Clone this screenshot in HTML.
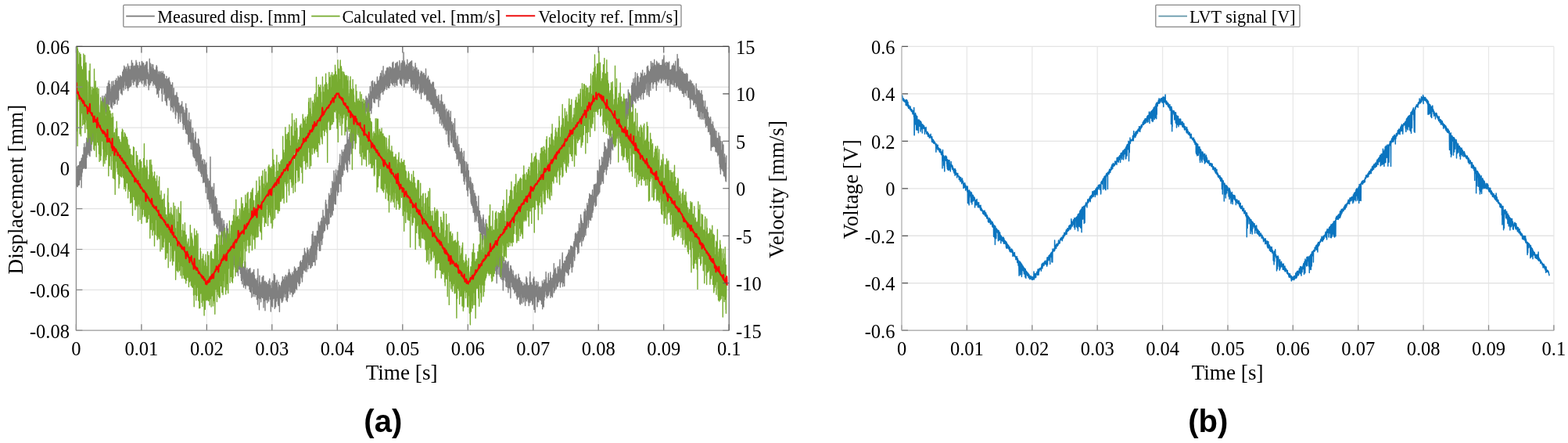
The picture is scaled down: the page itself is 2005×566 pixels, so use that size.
<!DOCTYPE html><html><head><meta charset="utf-8"><title>Figure</title><style>html,body{margin:0;padding:0;background:#fff;}svg{display:block}</style></head><body>
<svg width="2005" height="566" viewBox="0 0 2005 566">
<rect width="2005" height="566" fill="#fff"/>
<defs><clipPath id="ca"><rect x="97.4" y="59.4" width="834.8" height="362.8"/></clipPath>
<clipPath id="cb"><rect x="1153.0" y="58.4" width="834.9" height="363.8"/></clipPath></defs>
<path d="M180.88 59.4V422.2M264.36 59.4V422.2M347.84 59.4V422.2M431.32 59.4V422.2M514.80 59.4V422.2M598.28 59.4V422.2M681.76 59.4V422.2M765.24 59.4V422.2M848.72 59.4V422.2" stroke="#ececec" stroke-width="1.3" fill="none"/>
<path d="M97.4 111.23H932.2M97.4 163.06H932.2M97.4 214.89H932.2M97.4 266.71H932.2M97.4 318.54H932.2M97.4 370.37H932.2" stroke="#e4e4e4" stroke-width="1.3" fill="none"/>
<path d="M1236.39 59.4V422.2M1319.78 59.4V422.2M1403.17 59.4V422.2M1486.56 59.4V422.2M1569.95 59.4V422.2M1653.34 59.4V422.2M1736.73 59.4V422.2M1820.12 59.4V422.2M1903.51 59.4V422.2M1986.90 59.4V422.2" stroke="#e8e8e8" stroke-width="1.3" fill="none"/>
<path d="M1153.0 59.40H1986.9M1153.0 119.87H1986.9M1153.0 180.33H1986.9M1153.0 240.80H1986.9M1153.0 301.27H1986.9M1153.0 361.73H1986.9" stroke="#e4e4e4" stroke-width="1.3" fill="none"/>
<g clip-path="url(#ca)" fill="none" stroke-linejoin="round">
<polyline points="97.4,241.3 97.5,237.4 97.7,222.7 97.8,217.2 98.0,225.1 98.1,234.2 98.2,213.5 98.4,237.8 98.5,218.3 98.6,213.3 98.8,234.4 98.9,213.9 99.1,233.0 99.2,238.5 99.3,238.6 99.5,212.3 99.6,223.6 99.8,211.8 99.9,231.1 100.0,236.6 100.2,232.9 100.3,225.5 100.4,212.9 100.6,232.5 100.7,223.9 100.9,211.5 101.0,236.4 101.1,236.2 101.3,236.1 101.4,213.0 101.6,224.2 101.7,217.7 101.8,208.0 102.0,206.8 102.1,211.5 102.3,206.6 102.4,229.8 102.5,209.4 102.7,216.5 102.8,224.7 102.9,210.2 103.1,220.5 103.2,213.8 103.4,211.1 103.5,217.4 103.6,205.4 103.8,222.7 103.9,218.4 104.1,239.8 104.2,202.2 104.3,211.1 104.5,225.6 104.6,206.1 104.7,211.6 104.9,221.0 105.0,206.8 105.2,219.9 105.3,218.8 105.4,203.6 105.6,197.9 105.7,210.6 105.9,214.5 106.0,210.4 106.1,204.9 106.3,200.0 106.4,208.7 106.5,215.4 106.7,215.1 106.8,200.9 107.0,201.9 107.1,188.4 107.2,204.3 107.4,202.7 107.5,212.0 107.7,199.7 107.8,183.5 107.9,202.9 108.1,214.3 108.2,188.7 108.3,197.9 108.5,195.8 108.6,214.9 108.8,204.8 108.9,196.3 109.0,215.4 109.2,200.5 109.3,197.3 109.5,188.0 109.6,195.2 109.7,197.4 109.9,210.7 110.0,194.1 110.2,182.0 110.3,215.1 110.4,183.7 110.6,191.9 110.7,195.7 110.8,176.5 111.0,201.3 111.1,181.9 111.3,184.1 111.4,195.3 111.5,183.9 111.7,191.9 111.8,184.4 112.0,185.8 112.1,197.3 112.2,180.6 112.4,177.7 112.5,191.7 112.6,184.8 112.8,190.1 112.9,159.5 113.1,166.8 113.2,190.3 113.3,178.7 113.5,195.3 113.6,165.4 113.8,173.6 113.9,194.5 114.0,198.2 114.2,174.3 114.3,186.8 114.4,187.4 114.6,196.6 114.7,191.0 114.9,167.3 115.0,199.7 115.1,181.6 115.3,187.1 115.4,180.0 115.6,163.5 115.7,168.3 115.8,191.2 116.0,178.1 116.1,180.2 116.2,166.5 116.4,176.8 116.5,171.2 116.7,158.6 116.8,192.8 116.9,178.9 117.1,166.2 117.2,171.0 117.4,182.1 117.5,184.1 117.6,152.4 117.8,179.9 117.9,175.1 118.1,157.7 118.2,158.8 118.3,157.0 118.5,173.9 118.6,179.8 118.7,159.9 118.9,171.2 119.0,181.1 119.2,173.0 119.3,164.7 119.4,149.8 119.6,143.3 119.7,177.0 119.9,158.9 120.0,165.6 120.1,166.8 120.3,177.3 120.4,156.4 120.5,158.5 120.7,159.0 120.8,155.3 121.0,151.6 121.1,173.1 121.2,163.2 121.4,165.8 121.5,170.5 121.7,175.8 121.8,171.8 121.9,141.2 122.1,175.1 122.2,164.4 122.3,171.1 122.5,157.9 122.6,172.5 122.8,158.3 122.9,159.6 123.0,163.3 123.2,164.8 123.3,153.0 123.5,164.2 123.6,162.9 123.7,148.2 123.9,159.5 124.0,146.1 124.1,159.5 124.3,161.8 124.4,162.1 124.6,164.5 124.7,172.9 124.8,150.1 125.0,162.9 125.1,153.7 125.3,166.2 125.4,161.0 125.5,170.0 125.7,144.2 125.8,169.9 126.0,156.1 126.1,169.3 126.2,147.4 126.4,153.7 126.5,148.9 126.6,159.1 126.8,151.5 126.9,165.0 127.1,145.1 127.2,153.2 127.3,171.1 127.5,155.4 127.6,152.1 127.8,154.1 127.9,161.2 128.0,172.8 128.2,143.5 128.3,141.7 128.4,135.3 128.6,133.7 128.7,137.0 128.9,130.2 129.0,142.2 129.1,148.7 129.3,147.6 129.4,152.2 129.6,136.0 129.7,145.5 129.8,141.6 130.0,139.2 130.1,146.3 130.2,147.1 130.4,137.3 130.5,155.0 130.7,128.6 130.8,143.8 130.9,122.8 131.1,144.7 131.2,137.6 131.4,152.2 131.5,137.4 131.6,125.9 131.8,146.0 131.9,128.0 132.0,152.7 132.2,137.2 132.3,158.8 132.5,134.8 132.6,144.2 132.7,138.5 132.9,157.9 133.0,135.1 133.2,122.7 133.3,149.3 133.4,141.2 133.6,139.9 133.7,158.0 133.9,135.4 134.0,130.8 134.1,131.3 134.3,133.3 134.4,136.4 134.5,133.0 134.7,135.4 134.8,133.2 135.0,120.3 135.1,139.2 135.2,125.2 135.4,134.8 135.5,145.1 135.7,143.0 135.8,133.0 135.9,126.9 136.1,137.8 136.2,144.9 136.3,129.8 136.5,124.3 136.6,117.9 136.8,122.9 136.9,110.4 137.0,121.1 137.2,143.7 137.3,138.1 137.5,142.0 137.6,120.0 137.7,127.1 137.9,141.5 138.0,114.7 138.1,124.6 138.3,106.1 138.4,131.4 138.6,127.5 138.7,125.3 138.8,116.6 139.0,126.5 139.1,116.3 139.3,133.0 139.4,103.3 139.5,130.1 139.7,133.6 139.8,120.1 140.0,117.1 140.1,121.7 140.2,121.8 140.4,127.6 140.5,107.7 140.6,117.1 140.8,113.7 140.9,121.1 141.1,121.6 141.2,117.1 141.3,129.2 141.5,133.6 141.6,135.6 141.8,132.0 141.9,137.0 142.0,123.3 142.2,126.8 142.3,122.1 142.4,112.1 142.6,129.4 142.7,114.5 142.9,104.1 143.0,127.7 143.1,116.1 143.3,138.8 143.4,116.5 143.6,120.9 143.7,131.1 143.8,127.9 144.0,129.9 144.1,110.5 144.2,122.4 144.4,128.9 144.5,115.6 144.7,121.6 144.8,103.7 144.9,104.6 145.1,125.3 145.2,122.6 145.4,134.3 145.5,108.7 145.6,113.7 145.8,125.5 145.9,113.8 146.0,122.6 146.2,120.2 146.3,132.2 146.5,114.2 146.6,109.0 146.7,124.8 146.9,108.8 147.0,120.8 147.2,108.0 147.3,132.2 147.4,102.6 147.6,114.9 147.7,125.4 147.9,112.7 148.0,127.3 148.1,114.4 148.3,123.9 148.4,105.2 148.5,111.1 148.7,120.1 148.8,100.1 149.0,126.2 149.1,120.1 149.2,107.0 149.4,103.7 149.5,112.3 149.7,126.4 149.8,116.8 149.9,133.3 150.1,119.1 150.2,125.8 150.3,124.2 150.5,103.5 150.6,117.4 150.8,119.0 150.9,104.3 151.0,97.2 151.2,100.0 151.3,119.6 151.5,109.1 151.6,128.0 151.7,106.5 151.9,100.3 152.0,99.0 152.1,109.4 152.3,103.5 152.4,104.4 152.6,115.0 152.7,110.3 152.8,103.2 153.0,106.4 153.1,104.7 153.3,99.6 153.4,113.0 153.5,107.4 153.7,112.3 153.8,96.4 153.9,109.3 154.1,99.5 154.2,113.8 154.4,101.1 154.5,119.1 154.6,118.2 154.8,112.7 154.9,101.3 155.1,115.7 155.2,97.9 155.3,108.0 155.5,109.6 155.6,99.1 155.8,105.2 155.9,120.2 156.0,103.2 156.2,121.1 156.3,99.7 156.4,106.1 156.6,101.4 156.7,91.9 156.9,107.0 157.0,93.9 157.1,109.0 157.3,94.4 157.4,111.4 157.6,93.2 157.7,100.6 157.8,89.2 158.0,110.3 158.1,113.0 158.2,115.4 158.4,102.3 158.5,101.0 158.7,84.2 158.8,104.1 158.9,103.8 159.1,95.7 159.2,85.6 159.4,92.4 159.5,96.1 159.6,102.1 159.8,93.8 159.9,99.2 160.0,108.9 160.2,99.1 160.3,90.3 160.5,113.6 160.6,88.3 160.7,92.4 160.9,102.3 161.0,90.0 161.2,87.2 161.3,85.6 161.4,102.5 161.6,107.1 161.7,87.9 161.8,108.1 162.0,109.4 162.1,106.9 162.3,105.6 162.4,105.2 162.5,96.0 162.7,92.5 162.8,112.6 163.0,91.5 163.1,101.9 163.2,91.6 163.4,81.7 163.5,110.1 163.7,115.8 163.8,103.7 163.9,103.3 164.1,91.1 164.2,86.6 164.3,108.9 164.5,86.4 164.6,112.2 164.8,102.6 164.9,98.1 165.0,84.4 165.2,103.2 165.3,103.6 165.5,102.9 165.6,111.0 165.7,97.7 165.9,89.5 166.0,88.9 166.1,90.2 166.3,92.9 166.4,109.7 166.6,91.4 166.7,89.2 166.8,98.3 167.0,109.1 167.1,110.3 167.3,84.6 167.4,104.6 167.5,86.7 167.7,96.4 167.8,91.8 167.9,108.9 168.1,94.0 168.2,88.8 168.4,77.3 168.5,101.3 168.6,101.2 168.8,85.5 168.9,95.1 169.1,90.3 169.2,93.0 169.3,100.5 169.5,100.3 169.6,100.0 169.7,80.7 169.9,85.5 170.0,105.6 170.2,91.5 170.3,84.6 170.4,94.5 170.6,96.8 170.7,99.1 170.9,108.2 171.0,89.5 171.1,98.7 171.3,91.6 171.4,93.7 171.6,96.4 171.7,88.6 171.8,84.2 172.0,101.8 172.1,89.3 172.2,86.2 172.4,103.9 172.5,92.3 172.7,98.5 172.8,93.3 172.9,101.3 173.1,83.9 173.2,96.3 173.4,97.6 173.5,93.2 173.6,82.3 173.8,96.6 173.9,99.1 174.0,77.3 174.2,110.1 174.3,93.8 174.5,85.2 174.6,104.9 174.7,81.0 174.9,80.1 175.0,95.8 175.2,91.2 175.3,111.7 175.4,86.9 175.6,86.5 175.7,101.9 175.8,103.3 176.0,86.4 176.1,83.8 176.3,94.6 176.4,87.9 176.5,84.3 176.7,107.1 176.8,108.2 177.0,95.2 177.1,105.7 177.2,89.9 177.4,98.7 177.5,94.7 177.6,87.4 177.8,95.4 177.9,99.8 178.1,92.8 178.2,93.6 178.3,79.5 178.5,89.9 178.6,82.6 178.8,104.4 178.9,83.5 179.0,99.4 179.2,94.6 179.3,103.0 179.5,94.6 179.6,97.5 179.7,97.6 179.9,90.0 180.0,101.3 180.1,102.1 180.3,84.4 180.4,88.1 180.6,89.6 180.7,87.8 180.8,92.2 181.0,105.4 181.1,88.6 181.3,78.5 181.4,92.5 181.5,88.7 181.7,107.0 181.8,95.7 181.9,79.0 182.1,80.7 182.2,99.0 182.4,99.4 182.5,81.8 182.6,81.0 182.8,91.4 182.9,102.3 183.1,96.1 183.2,98.3 183.3,92.6 183.5,86.1 183.6,80.6 183.7,83.0 183.9,91.7 184.0,89.8 184.2,103.1 184.3,110.2 184.4,105.3 184.6,86.3 184.7,100.0 184.9,92.1 185.0,89.0 185.1,107.9 185.3,88.2 185.4,83.6 185.5,89.5 185.7,100.9 185.8,90.3 186.0,98.1 186.1,99.1 186.2,105.9 186.4,82.3 186.5,99.0 186.7,90.0 186.8,109.4 186.9,101.2 187.1,79.4 187.2,100.5 187.4,81.7 187.5,98.0 187.6,90.8 187.8,79.6 187.9,78.8 188.0,94.5 188.2,79.6 188.3,99.2 188.5,100.6 188.6,90.5 188.7,88.8 188.9,100.4 189.0,99.5 189.2,101.7 189.3,92.7 189.4,106.7 189.6,102.9 189.7,107.1 189.8,98.9 190.0,99.0 190.1,114.7 190.3,100.6 190.4,95.2 190.5,102.1 190.7,97.8 190.8,99.7 191.0,97.0 191.1,103.9 191.2,75.1 191.4,103.1 191.5,91.4 191.6,108.8 191.8,100.5 191.9,91.0 192.1,95.0 192.2,81.0 192.3,104.5 192.5,94.0 192.6,92.6 192.8,90.9 192.9,105.1 193.0,105.9 193.2,97.4 193.3,100.4 193.4,95.2 193.6,85.4 193.7,86.0 193.9,91.8 194.0,82.1 194.1,95.1 194.3,103.4 194.4,99.0 194.6,92.2 194.7,97.4 194.8,101.2 195.0,93.5 195.1,90.2 195.3,88.0 195.4,98.5 195.5,100.9 195.7,82.7 195.8,109.2 195.9,94.5 196.1,91.6 196.2,87.5 196.4,91.4 196.5,101.3 196.6,90.5 196.8,105.9 196.9,105.5 197.1,99.3 197.2,91.4 197.3,89.7 197.5,100.9 197.6,107.8 197.7,91.1 197.9,89.1 198.0,107.9 198.2,97.0 198.3,100.6 198.4,94.5 198.6,108.1 198.7,100.3 198.9,109.4 199.0,106.1 199.1,90.0 199.3,103.2 199.4,112.2 199.5,100.2 199.7,85.9 199.8,95.3 200.0,89.7 200.1,84.9 200.2,83.6 200.4,86.7 200.5,88.9 200.7,120.3 200.8,85.5 200.9,98.7 201.1,106.2 201.2,90.0 201.3,112.7 201.5,119.0 201.6,96.0 201.8,95.2 201.9,115.9 202.0,104.9 202.2,108.7 202.3,107.0 202.5,99.9 202.6,97.1 202.7,124.2 202.9,92.1 203.0,96.3 203.2,105.7 203.3,99.4 203.4,91.1 203.6,96.8 203.7,110.3 203.8,113.0 204.0,115.1 204.1,102.2 204.3,97.4 204.4,101.3 204.5,105.7 204.7,105.5 204.8,105.8 205.0,95.2 205.1,92.0 205.2,103.7 205.4,112.1 205.5,100.6 205.6,112.5 205.8,103.4 205.9,95.5 206.1,91.3 206.2,100.1 206.3,102.7 206.5,107.3 206.6,96.3 206.8,119.2 206.9,94.9 207.0,111.0 207.2,114.9 207.3,93.6 207.4,129.3 207.6,93.6 207.7,105.0 207.9,107.6 208.0,110.0 208.1,104.7 208.3,93.2 208.4,91.3 208.6,107.6 208.7,103.7 208.8,109.0 209.0,112.7 209.1,108.6 209.3,111.3 209.4,95.2 209.5,120.6 209.7,114.1 209.8,102.1 209.9,94.7 210.1,97.7 210.2,108.0 210.4,95.8 210.5,111.0 210.6,118.0 210.8,105.1 210.9,114.6 211.1,107.5 211.2,128.4 211.3,100.6 211.5,120.1 211.6,120.2 211.7,116.0 211.9,101.2 212.0,117.8 212.2,128.5 212.3,118.1 212.4,130.3 212.6,120.7 212.7,115.8 212.9,97.5 213.0,133.4 213.1,106.9 213.3,113.1 213.4,134.7 213.5,113.7 213.7,113.4 213.8,113.8 214.0,110.1 214.1,116.5 214.2,102.1 214.4,101.2 214.5,117.2 214.7,125.1 214.8,123.7 214.9,103.9 215.1,100.5 215.2,108.9 215.3,113.4 215.5,115.4 215.6,109.8 215.8,123.7 215.9,120.7 216.0,104.6 216.2,98.9 216.3,127.9 216.5,124.6 216.6,113.2 216.7,111.3 216.9,103.5 217.0,119.4 217.2,114.2 217.3,119.4 217.4,119.5 217.6,114.2 217.7,105.6 217.8,119.1 218.0,126.7 218.1,135.2 218.3,131.0 218.4,108.4 218.5,141.0 218.7,109.6 218.8,117.5 219.0,115.2 219.1,116.6 219.2,136.3 219.4,120.6 219.5,108.6 219.6,129.8 219.8,116.3 219.9,136.5 220.1,114.8 220.2,122.3 220.3,117.2 220.5,122.6 220.6,105.6 220.8,137.9 220.9,129.4 221.0,128.3 221.2,135.0 221.3,124.0 221.4,143.1 221.6,141.6 221.7,121.8 221.9,142.0 222.0,125.1 222.1,127.5 222.3,112.8 222.4,135.0 222.6,121.1 222.7,121.4 222.8,123.0 223.0,127.5 223.1,134.8 223.2,133.3 223.4,128.4 223.5,125.2 223.7,137.1 223.8,133.8 223.9,132.4 224.1,146.1 224.2,122.2 224.4,139.7 224.5,151.3 224.6,122.5 224.8,137.1 224.9,147.2 225.1,121.7 225.2,131.9 225.3,123.9 225.5,134.5 225.6,128.0 225.7,140.3 225.9,141.9 226.0,118.1 226.2,130.2 226.3,140.6 226.4,142.0 226.6,123.7 226.7,129.6 226.9,143.5 227.0,135.4 227.1,131.1 227.3,126.4 227.4,143.3 227.5,144.3 227.7,124.8 227.8,145.5 228.0,150.1 228.1,157.5 228.2,143.8 228.4,140.7 228.5,133.5 228.7,151.9 228.8,149.7 228.9,131.8 229.1,135.4 229.2,139.4 229.3,143.8 229.5,141.9 229.6,143.4 229.8,138.8 229.9,141.8 230.0,138.2 230.2,135.6 230.3,135.4 230.5,148.7 230.6,143.3 230.7,155.6 230.9,145.8 231.0,137.3 231.1,135.0 231.3,136.9 231.4,134.5 231.6,141.9 231.7,138.1 231.8,144.3 232.0,136.9 232.1,133.5 232.3,141.0 232.4,138.4 232.5,141.6 232.7,129.8 232.8,137.9 233.0,139.9 233.1,149.2 233.2,147.9 233.4,154.3 233.5,137.5 233.6,157.5 233.8,152.6 233.9,141.9 234.1,141.6 234.2,136.9 234.3,165.4 234.5,148.3 234.6,144.4 234.8,156.9 234.9,139.9 235.0,145.1 235.2,148.0 235.3,146.1 235.4,159.4 235.6,151.0 235.7,144.5 235.9,155.7 236.0,156.6 236.1,152.3 236.3,162.6 236.4,157.2 236.6,151.5 236.7,165.1 236.8,160.4 237.0,149.2 237.1,141.0 237.2,157.0 237.4,159.9 237.5,143.5 237.7,132.4 237.8,166.4 237.9,170.3 238.1,160.3 238.2,169.0 238.4,166.2 238.5,156.3 238.6,148.9 238.8,167.6 238.9,163.9 239.0,138.5 239.2,159.0 239.3,171.6 239.5,159.1 239.6,168.2 239.7,159.7 239.9,153.9 240.0,171.0 240.2,161.7 240.3,166.5 240.4,162.1 240.6,169.5 240.7,172.1 240.9,184.3 241.0,169.5 241.1,160.7 241.3,168.7 241.4,156.2 241.5,152.3 241.7,144.1 241.8,172.6 242.0,164.2 242.1,180.8 242.2,167.0 242.4,175.7 242.5,155.8 242.7,157.5 242.8,178.8 242.9,180.8 243.1,163.8 243.2,160.2 243.3,181.9 243.5,170.6 243.6,179.9 243.8,179.6 243.9,172.4 244.0,153.0 244.2,190.4 244.3,165.0 244.5,162.7 244.6,179.0 244.7,170.3 244.9,174.9 245.0,179.6 245.1,174.7 245.3,174.9 245.4,181.5 245.6,173.9 245.7,170.1 245.8,175.6 246.0,191.2 246.1,179.7 246.3,173.4 246.4,171.5 246.5,163.8 246.7,197.0 246.8,183.4 246.9,187.2 247.1,199.8 247.2,173.6 247.4,170.5 247.5,174.4 247.6,189.5 247.8,186.5 247.9,178.1 248.1,201.2 248.2,184.0 248.3,179.8 248.5,179.9 248.6,201.7 248.8,187.6 248.9,179.9 249.0,192.1 249.2,192.3 249.3,197.7 249.4,190.1 249.6,197.6 249.7,175.8 249.9,182.9 250.0,205.2 250.1,168.7 250.3,191.6 250.4,185.7 250.6,191.2 250.7,197.0 250.8,182.5 251.0,212.0 251.1,196.4 251.2,192.1 251.4,205.4 251.5,196.9 251.7,189.9 251.8,187.1 251.9,188.1 252.1,183.7 252.2,183.9 252.4,197.3 252.5,207.1 252.6,202.6 252.8,195.8 252.9,209.3 253.0,210.4 253.2,204.7 253.3,202.4 253.5,177.5 253.6,218.0 253.7,198.6 253.9,211.3 254.0,178.4 254.2,207.2 254.3,210.1 254.4,198.7 254.6,185.2 254.7,196.9 254.8,209.9 255.0,188.7 255.1,219.2 255.3,187.7 255.4,196.0 255.5,214.1 255.7,189.5 255.8,191.9 256.0,215.4 256.1,203.1 256.2,213.0 256.4,205.0 256.5,204.6 256.7,221.2 256.8,220.5 256.9,207.0 257.1,201.7 257.2,207.2 257.3,197.8 257.5,215.6 257.6,225.5 257.8,218.8 257.9,215.1 258.0,209.6 258.2,206.0 258.3,221.7 258.5,205.7 258.6,214.0 258.7,220.1 258.9,214.7 259.0,220.4 259.1,220.8 259.3,213.7 259.4,227.8 259.6,203.4 259.7,233.4 259.8,212.1 260.0,217.8 260.1,231.7 260.3,211.3 260.4,214.7 260.5,210.4 260.7,232.0 260.8,224.5 260.9,227.8 261.1,224.0 261.2,219.4 261.4,220.9 261.5,232.9 261.6,204.4 261.8,213.2 261.9,213.0 262.1,222.1 262.2,232.8 262.3,209.9 262.5,210.4 262.6,231.3 262.7,238.3 262.9,220.2 263.0,225.4 263.2,246.2 263.3,225.7 263.4,230.2 263.6,213.2 263.7,232.7 263.9,208.0 264.0,229.2 264.1,216.6 264.3,238.8 264.4,230.4 264.6,228.5 264.7,232.8 264.8,223.3 265.0,232.5 265.1,254.2 265.2,240.7 265.4,247.9 265.5,242.8 265.7,249.9 265.8,249.7 265.9,250.1 266.1,244.9 266.2,228.5 266.4,254.3 266.5,249.7 266.6,239.0 266.8,239.6 266.9,247.1 267.0,242.6 267.2,257.8 267.3,233.4 267.5,236.9 267.6,250.7 267.7,231.2 267.9,260.4 268.0,233.8 268.2,246.6 268.3,249.6 268.4,254.2 268.6,266.8 268.7,258.2 268.8,250.6 269.0,200.4 269.1,244.0 269.3,237.3 269.4,250.8 269.5,259.4 269.7,248.6 269.8,253.8 270.0,239.1 270.1,257.6 270.2,253.8 270.4,264.2 270.5,240.1 270.6,253.1 270.8,271.8 270.9,259.3 271.1,272.7 271.2,265.9 271.3,257.0 271.5,249.3 271.6,238.9 271.8,265.3 271.9,257.5 272.0,257.7 272.2,245.9 272.3,256.0 272.5,259.8 272.6,271.8 272.7,242.9 272.9,254.7 273.0,246.1 273.1,263.7 273.3,281.6 273.4,251.9 273.6,234.5 273.7,260.6 273.8,283.1 274.0,266.3 274.1,287.9 274.3,259.7 274.4,263.7 274.5,257.0 274.7,260.2 274.8,270.5 274.9,272.0 275.1,283.1 275.2,252.1 275.4,251.3 275.5,262.8 275.6,285.9 275.8,283.2 275.9,274.5 276.1,278.1 276.2,276.8 276.3,271.8 276.5,265.3 276.6,271.9 276.7,253.4 276.9,285.9 277.0,289.8 277.2,279.2 277.3,275.3 277.4,267.8 277.6,278.7 277.7,261.7 277.9,277.5 278.0,278.8 278.1,291.9 278.3,279.1 278.4,272.6 278.6,275.1 278.7,279.3 278.8,287.8 279.0,287.6 279.1,277.1 279.2,278.3 279.4,286.3 279.5,272.6 279.7,289.1 279.8,269.1 279.9,273.5 280.1,302.9 280.2,291.3 280.4,277.7 280.5,290.7 280.6,283.1 280.8,272.6 280.9,275.1 281.0,288.7 281.2,295.0 281.3,278.0 281.5,282.1 281.6,269.9 281.7,279.6 281.9,292.8 282.0,289.1 282.2,294.1 282.3,296.4 282.4,279.0 282.6,280.5 282.7,283.7 282.8,287.7 283.0,294.7 283.1,301.1 283.3,304.2 283.4,303.8 283.5,297.2 283.7,285.2 283.8,290.1 284.0,294.2 284.1,279.1 284.2,301.6 284.4,298.1 284.5,289.0 284.6,301.2 284.8,295.4 284.9,289.7 285.1,308.8 285.2,313.1 285.3,296.8 285.5,307.7 285.6,305.3 285.8,286.4 285.9,297.3 286.0,290.4 286.2,281.8 286.3,290.4 286.5,304.0 286.6,312.8 286.7,297.6 286.9,286.5 287.0,315.6 287.1,301.5 287.3,318.4 287.4,299.0 287.6,308.8 287.7,297.1 287.8,304.2 288.0,298.3 288.1,303.1 288.3,310.1 288.4,302.9 288.5,304.7 288.7,314.4 288.8,307.9 288.9,320.2 289.1,299.9 289.2,303.3 289.4,314.9 289.5,303.1 289.6,312.2 289.8,288.7 289.9,292.8 290.1,306.3 290.2,300.2 290.3,285.8 290.5,327.6 290.6,294.9 290.7,306.8 290.9,312.6 291.0,297.7 291.2,327.7 291.3,292.3 291.4,316.4 291.6,311.6 291.7,316.1 291.9,315.7 292.0,306.4 292.1,306.6 292.3,316.6 292.4,323.8 292.5,314.5 292.7,321.1 292.8,323.8 293.0,302.1 293.1,303.0 293.2,320.8 293.4,305.1 293.5,316.4 293.7,313.3 293.8,324.5 293.9,322.9 294.1,307.8 294.2,322.0 294.4,318.3 294.5,313.2 294.6,311.8 294.8,304.9 294.9,332.7 295.0,312.4 295.2,306.7 295.3,336.4 295.5,309.7 295.6,330.7 295.7,309.4 295.9,312.7 296.0,317.5 296.2,325.4 296.3,329.3 296.4,332.7 296.6,313.4 296.7,350.3 296.8,305.1 297.0,314.9 297.1,334.8 297.3,312.3 297.4,312.2 297.5,326.9 297.7,335.6 297.8,330.8 298.0,333.1 298.1,337.8 298.2,318.4 298.4,313.7 298.5,322.1 298.6,344.0 298.8,319.0 298.9,321.6 299.1,324.7 299.2,317.2 299.3,320.3 299.5,330.3 299.6,328.7 299.8,330.1 299.9,338.4 300.0,323.7 300.2,329.8 300.3,341.0 300.4,324.9 300.6,318.4 300.7,326.9 300.9,303.6 301.0,318.8 301.1,327.1 301.3,335.9 301.4,313.8 301.6,329.5 301.7,333.0 301.8,343.8 302.0,324.1 302.1,338.6 302.3,340.4 302.4,337.7 302.5,333.1 302.7,312.2 302.8,330.9 302.9,331.8 303.1,347.9 303.2,331.5 303.4,334.6 303.5,343.9 303.6,320.9 303.8,325.3 303.9,324.3 304.1,333.2 304.2,304.3 304.3,330.5 304.5,352.2 304.6,328.2 304.7,344.2 304.9,334.2 305.0,332.3 305.2,337.1 305.3,320.7 305.4,341.9 305.6,342.8 305.7,343.7 305.9,329.7 306.0,334.8 306.1,327.1 306.3,343.5 306.4,330.9 306.5,324.9 306.7,344.3 306.8,328.6 307.0,335.7 307.1,336.6 307.2,342.1 307.4,349.4 307.5,343.2 307.7,342.7 307.8,345.7 307.9,329.8 308.1,338.6 308.2,330.7 308.3,355.0 308.5,335.8 308.6,358.4 308.8,346.8 308.9,337.3 309.0,331.1 309.2,332.0 309.3,351.0 309.5,357.9 309.6,339.6 309.7,362.8 309.9,347.4 310.0,333.0 310.2,334.2 310.3,342.5 310.4,351.4 310.6,351.0 310.7,352.9 310.8,346.3 311.0,341.4 311.1,351.3 311.3,357.0 311.4,351.0 311.5,367.0 311.7,342.0 311.8,353.6 312.0,341.0 312.1,353.6 312.2,346.9 312.4,342.6 312.5,344.4 312.6,364.0 312.8,345.2 312.9,334.3 313.1,364.6 313.2,340.3 313.3,343.5 313.5,347.7 313.6,339.1 313.8,334.8 313.9,351.3 314.0,368.7 314.2,344.6 314.3,357.8 314.4,361.9 314.6,349.1 314.7,360.2 314.9,364.8 315.0,356.3 315.1,348.5 315.3,347.5 315.4,358.5 315.6,349.2 315.7,345.1 315.8,346.9 316.0,342.7 316.1,350.9 316.2,363.6 316.4,352.3 316.5,361.2 316.7,352.0 316.8,365.1 316.9,353.3 317.1,361.0 317.2,349.2 317.4,358.7 317.5,354.0 317.6,344.6 317.8,357.2 317.9,365.1 318.1,344.6 318.2,359.3 318.3,351.2 318.5,355.1 318.6,365.5 318.7,343.8 318.9,369.4 319.0,368.7 319.2,358.1 319.3,360.2 319.4,367.2 319.6,357.2 319.7,372.6 319.9,342.8 320.0,346.6 320.1,357.7 320.3,366.9 320.4,365.2 320.5,368.7 320.7,348.9 320.8,373.2 321.0,371.1 321.1,367.0 321.2,350.6 321.4,365.7 321.5,353.0 321.7,380.1 321.8,358.7 321.9,352.1 322.1,364.8 322.2,348.8 322.3,357.3 322.5,365.0 322.6,364.4 322.8,355.7 322.9,361.9 323.0,366.7 323.2,347.9 323.3,371.9 323.5,369.0 323.6,378.8 323.7,364.1 323.9,354.4 324.0,358.9 324.1,355.4 324.3,356.5 324.4,345.8 324.6,347.9 324.7,344.4 324.8,358.5 325.0,375.2 325.1,365.7 325.3,369.9 325.4,351.6 325.5,370.1 325.7,358.1 325.8,367.0 326.0,378.9 326.1,372.6 326.2,369.8 326.4,372.5 326.5,361.6 326.6,365.6 326.8,356.1 326.9,369.2 327.1,369.4 327.2,366.5 327.3,362.5 327.5,376.4 327.6,358.1 327.8,369.8 327.9,364.9 328.0,366.8 328.2,371.4 328.3,363.7 328.4,382.5 328.6,371.2 328.7,367.4 328.9,374.1 329.0,361.9 329.1,355.1 329.3,355.7 329.4,389.0 329.6,373.1 329.7,373.8 329.8,343.6 330.0,364.6 330.1,361.9 330.2,380.8 330.4,368.1 330.5,373.7 330.7,372.4 330.8,369.1 330.9,371.5 331.1,373.9 331.2,366.1 331.4,377.3 331.5,395.8 331.6,364.4 331.8,358.6 331.9,352.2 332.0,381.4 332.2,375.9 332.3,372.7 332.5,380.7 332.6,360.7 332.7,370.2 332.9,363.6 333.0,370.4 333.2,372.2 333.3,375.8 333.4,382.2 333.6,376.3 333.7,385.7 333.9,364.5 334.0,378.0 334.1,372.4 334.3,361.0 334.4,363.1 334.5,374.5 334.7,378.5 334.8,364.4 335.0,371.4 335.1,354.5 335.2,379.8 335.4,367.0 335.5,375.7 335.7,380.6 335.8,376.7 335.9,375.1 336.1,362.3 336.2,369.9 336.3,352.6 336.5,358.5 336.6,366.6 336.8,363.6 336.9,352.8 337.0,392.9 337.2,374.4 337.3,364.0 337.5,368.6 337.6,369.2 337.7,371.0 337.9,363.8 338.0,384.3 338.1,360.0 338.3,361.2 338.4,362.0 338.6,372.6 338.7,371.2 338.8,373.5 339.0,396.8 339.1,359.3 339.3,370.5 339.4,377.6 339.5,373.4 339.7,374.1 339.8,372.1 339.9,371.3 340.1,365.3 340.2,382.8 340.4,383.0 340.5,370.6 340.6,360.9 340.8,378.7 340.9,372.8 341.1,361.0 341.2,369.9 341.3,372.6 341.5,379.5 341.6,368.6 341.8,386.9 341.9,363.9 342.0,369.1 342.2,376.1 342.3,381.4 342.4,371.0 342.6,363.2 342.7,375.2 342.9,380.5 343.0,382.5 343.1,374.2 343.3,376.5 343.4,381.8 343.6,384.9 343.7,381.9 343.8,359.0 344.0,373.2 344.1,365.7 344.2,370.4 344.4,363.9 344.5,377.9 344.7,372.4 344.8,356.3 344.9,377.1 345.1,378.7 345.2,376.3 345.4,364.6 345.5,382.2 345.6,377.6 345.8,368.7 345.9,371.4 346.0,376.7 346.2,383.8 346.3,398.0 346.5,369.8 346.6,377.9 346.7,388.8 346.9,375.2 347.0,361.0 347.2,389.6 347.3,374.3 347.4,368.5 347.6,375.9 347.7,369.0 347.9,391.4 348.0,381.1 348.1,374.3 348.3,370.4 348.4,377.1 348.5,392.1 348.7,358.9 348.8,383.7 349.0,374.6 349.1,366.4 349.2,377.2 349.4,371.1 349.5,376.0 349.7,371.9 349.8,378.0 349.9,381.2 350.1,377.2 350.2,349.8 350.3,361.1 350.5,358.6 350.6,377.3 350.8,377.4 350.9,355.9 351.0,377.7 351.2,381.4 351.3,394.2 351.5,351.8 351.6,373.4 351.7,371.2 351.9,384.5 352.0,377.1 352.1,382.9 352.3,366.5 352.4,383.1 352.6,392.0 352.7,367.9 352.8,361.6 353.0,372.5 353.1,374.1 353.3,379.9 353.4,382.4 353.5,384.9 353.7,382.9 353.8,360.6 353.9,381.3 354.1,378.0 354.2,357.9 354.4,372.2 354.5,373.7 354.6,371.7 354.8,379.8 354.9,375.5 355.1,380.3 355.2,375.4 355.3,376.0 355.5,388.5 355.6,375.1 355.8,379.7 355.9,366.7 356.0,390.6 356.2,380.1 356.3,360.4 356.4,370.5 356.6,365.5 356.7,369.7 356.9,377.8 357.0,372.4 357.1,383.5 357.3,367.5 357.4,398.3 357.6,365.9 357.7,364.5 357.8,378.0 358.0,365.8 358.1,378.9 358.2,372.8 358.4,380.9 358.5,380.9 358.7,374.3 358.8,376.9 358.9,375.0 359.1,373.6 359.2,367.9 359.4,371.1 359.5,365.8 359.6,379.9 359.8,361.1 359.9,383.2 360.0,360.9 360.2,363.4 360.3,386.2 360.5,372.7 360.6,359.1 360.7,365.5 360.9,386.0 361.0,376.1 361.2,377.4 361.3,353.5 361.4,368.9 361.6,374.8 361.7,384.0 361.8,369.2 362.0,373.6 362.1,381.1 362.3,359.5 362.4,379.2 362.5,374.5 362.7,357.3 362.8,374.0 363.0,372.8 363.1,365.6 363.2,358.1 363.4,365.2 363.5,354.0 363.7,365.7 363.8,364.3 363.9,369.6 364.1,379.5 364.2,357.9 364.3,370.1 364.5,375.4 364.6,365.0 364.8,365.1 364.9,357.8 365.0,372.5 365.2,351.5 365.3,362.6 365.5,353.3 365.6,359.2 365.7,374.8 365.9,354.3 366.0,383.5 366.1,380.4 366.3,358.9 366.4,366.6 366.6,371.5 366.7,355.9 366.8,362.2 367.0,366.8 367.1,351.9 367.3,385.2 367.4,375.5 367.5,354.3 367.7,377.0 367.8,372.3 367.9,376.1 368.1,371.5 368.2,380.6 368.4,376.3 368.5,369.3 368.6,358.7 368.8,348.6 368.9,361.3 369.1,359.5 369.2,371.9 369.3,352.5 369.5,358.6 369.6,344.2 369.7,348.7 369.9,366.4 370.0,355.1 370.2,360.1 370.3,360.5 370.4,366.5 370.6,348.5 370.7,364.3 370.9,376.0 371.0,364.6 371.1,365.4 371.3,359.3 371.4,350.9 371.6,350.4 371.7,370.6 371.8,365.0 372.0,356.6 372.1,365.1 372.2,362.2 372.4,373.2 372.5,372.4 372.7,352.3 372.8,372.4 372.9,371.3 373.1,359.0 373.2,367.5 373.4,357.7 373.5,354.5 373.6,373.7 373.8,348.2 373.9,379.1 374.0,361.5 374.2,354.6 374.3,372.1 374.5,364.9 374.6,350.9 374.7,374.1 374.9,352.8 375.0,359.6 375.2,369.8 375.3,375.8 375.4,370.3 375.6,369.2 375.7,367.9 375.8,346.4 376.0,369.4 376.1,362.9 376.3,368.1 376.4,347.0 376.5,341.0 376.7,364.5 376.8,374.1 377.0,348.3 377.1,370.5 377.2,372.0 377.4,358.1 377.5,348.0 377.6,343.9 377.8,350.5 377.9,358.1 378.1,368.8 378.2,342.9 378.3,363.2 378.5,351.3 378.6,358.3 378.8,356.0 378.9,355.3 379.0,351.7 379.2,346.4 379.3,357.4 379.5,370.0 379.6,350.6 379.7,348.5 379.9,353.4 380.0,358.7 380.1,349.8 380.3,352.9 380.4,351.3 380.6,345.5 380.7,348.6 380.8,345.1 381.0,360.3 381.1,341.6 381.3,346.0 381.4,359.3 381.5,351.4 381.7,362.0 381.8,355.6 381.9,358.7 382.1,349.1 382.2,341.4 382.4,362.0 382.5,356.2 382.6,365.3 382.8,356.7 382.9,355.3 383.1,358.3 383.2,340.5 383.3,342.6 383.5,352.3 383.6,335.0 383.7,362.0 383.9,353.4 384.0,345.2 384.2,348.7 384.3,345.0 384.4,333.3 384.6,351.0 384.7,339.9 384.9,347.1 385.0,345.0 385.1,345.7 385.3,346.0 385.4,354.0 385.5,335.6 385.7,351.7 385.8,346.9 386.0,354.6 386.1,355.5 386.2,344.6 386.4,335.5 386.5,360.1 386.7,332.5 386.8,353.9 386.9,344.1 387.1,345.8 387.2,333.0 387.4,326.8 387.5,349.4 387.6,333.0 387.8,341.6 387.9,333.6 388.0,328.1 388.2,341.3 388.3,344.9 388.5,326.4 388.6,331.4 388.7,330.7 388.9,341.2 389.0,343.9 389.2,345.1 389.3,327.1 389.4,317.3 389.6,336.8 389.7,343.2 389.8,339.4 390.0,342.3 390.1,321.7 390.3,336.7 390.4,346.8 390.5,343.9 390.7,342.2 390.8,342.0 391.0,324.0 391.1,330.0 391.2,337.2 391.4,336.7 391.5,341.0 391.6,334.7 391.8,333.5 391.9,341.0 392.1,336.2 392.2,347.3 392.3,339.8 392.5,329.7 392.6,322.1 392.8,323.1 392.9,321.0 393.0,316.6 393.2,331.8 393.3,320.1 393.4,335.0 393.6,333.4 393.7,326.2 393.9,322.4 394.0,343.6 394.1,319.4 394.3,325.2 394.4,325.9 394.6,333.3 394.7,330.0 394.8,338.2 395.0,329.7 395.1,330.3 395.3,332.1 395.4,338.2 395.5,332.2 395.7,329.2 395.8,328.4 395.9,320.9 396.1,322.0 396.2,318.0 396.4,327.6 396.5,319.9 396.6,329.7 396.8,331.3 396.9,342.7 397.1,320.9 397.2,331.2 397.3,328.7 397.5,322.3 397.6,314.9 397.7,319.2 397.9,319.6 398.0,341.6 398.2,331.7 398.3,328.3 398.4,313.9 398.6,315.2 398.7,319.2 398.9,315.1 399.0,306.7 399.1,299.4 399.3,318.7 399.4,306.6 399.5,339.5 399.7,322.5 399.8,311.1 400.0,311.5 400.1,295.8 400.2,315.1 400.4,334.6 400.5,322.2 400.7,316.8 400.8,322.4 400.9,314.5 401.1,317.8 401.2,327.7 401.3,309.4 401.5,319.3 401.6,334.5 401.8,332.2 401.9,301.5 402.0,323.1 402.2,326.2 402.3,307.2 402.5,314.1 402.6,311.3 402.7,312.8 402.9,310.3 403.0,339.0 403.2,311.0 403.3,301.5 403.4,302.8 403.6,325.1 403.7,321.8 403.8,302.2 404.0,302.7 404.1,320.1 404.3,313.3 404.4,310.4 404.5,303.3 404.7,306.2 404.8,331.7 405.0,318.4 405.1,300.8 405.2,307.7 405.4,319.1 405.5,295.3 405.6,314.5 405.8,299.9 405.9,302.4 406.1,314.6 406.2,295.6 406.3,297.3 406.5,306.6 406.6,300.1 406.8,304.3 406.9,308.2 407.0,307.4 407.2,284.0 407.3,294.4 407.4,293.4 407.6,310.6 407.7,286.0 407.9,306.8 408.0,293.0 408.1,297.5 408.3,320.3 408.4,303.3 408.6,303.7 408.7,315.3 408.8,307.5 409.0,288.4 409.1,309.0 409.2,294.3 409.4,291.1 409.5,310.6 409.7,320.2 409.8,313.2 409.9,301.8 410.1,282.9 410.2,296.4 410.4,289.2 410.5,307.2 410.6,289.8 410.8,288.4 410.9,285.4 411.1,298.1 411.2,284.5 411.3,278.4 411.5,299.1 411.6,287.6 411.7,312.5 411.9,291.5 412.0,288.9 412.2,291.1 412.3,287.2 412.4,304.7 412.6,283.0 412.7,304.1 412.9,279.8 413.0,268.5 413.1,293.6 413.3,283.9 413.4,282.5 413.5,278.9 413.7,297.0 413.8,290.4 414.0,295.1 414.1,276.2 414.2,292.2 414.4,277.9 414.5,285.8 414.7,285.9 414.8,282.7 414.9,291.8 415.1,294.7 415.2,280.5 415.3,294.8 415.5,290.3 415.6,289.5 415.8,278.7 415.9,279.4 416.0,282.1 416.2,273.6 416.3,258.4 416.5,275.6 416.6,255.8 416.7,283.9 416.9,282.4 417.0,285.4 417.1,275.3 417.3,271.2 417.4,277.2 417.6,261.1 417.7,287.2 417.8,273.9 418.0,272.6 418.1,268.2 418.3,286.5 418.4,284.0 418.5,287.9 418.7,293.0 418.8,273.6 419.0,267.3 419.1,284.9 419.2,285.1 419.4,272.5 419.5,276.8 419.6,286.2 419.8,270.5 419.9,277.3 420.1,283.9 420.2,255.2 420.3,261.6 420.5,267.2 420.6,247.3 420.8,266.8 420.9,285.8 421.0,255.3 421.2,272.3 421.3,264.2 421.4,250.4 421.6,269.5 421.7,267.0 421.9,262.7 422.0,271.5 422.1,262.8 422.3,253.1 422.4,249.5 422.6,269.3 422.7,277.5 422.8,262.1 423.0,275.6 423.1,240.6 423.2,263.0 423.4,273.1 423.5,276.8 423.7,247.1 423.8,273.3 423.9,253.4 424.1,265.4 424.2,267.7 424.4,257.2 424.5,263.3 424.6,251.3 424.8,248.4 424.9,231.7 425.1,242.6 425.2,274.9 425.3,246.1 425.5,257.0 425.6,247.3 425.7,249.9 425.9,250.3 426.0,256.1 426.2,261.9 426.3,268.7 426.4,233.4 426.6,256.0 426.7,234.0 426.9,238.4 427.0,218.3 427.1,229.9 427.3,246.1 427.4,234.7 427.5,247.9 427.7,243.5 427.8,256.8 428.0,260.5 428.1,240.9 428.2,254.9 428.4,243.4 428.5,232.8 428.7,247.8 428.8,251.7 428.9,232.7 429.1,221.8 429.2,241.7 429.3,261.0 429.5,248.1 429.6,216.9 429.8,245.3 429.9,231.8 430.0,223.4 430.2,242.9 430.3,233.9 430.5,235.3 430.6,233.4 430.7,228.9 430.9,229.1 431.0,229.2 431.1,240.3 431.3,225.3 431.4,234.4 431.6,249.7 431.7,229.7 431.8,218.0 432.0,232.1 432.1,232.6 432.3,231.9 432.4,228.5 432.5,235.0 432.7,224.9 432.8,222.0 433.0,245.6 433.1,226.1 433.2,211.6 433.4,211.9 433.5,233.3 433.6,214.5 433.8,230.0 433.9,208.5 434.1,234.8 434.2,210.3 434.3,216.6 434.5,204.6 434.6,234.0 434.8,197.3 434.9,226.6 435.0,220.3 435.2,212.0 435.3,216.9 435.4,211.6 435.6,226.8 435.7,235.7 435.9,219.5 436.0,244.7 436.1,234.3 436.3,219.4 436.4,211.6 436.6,224.5 436.7,212.6 436.8,199.2 437.0,218.5 437.1,218.7 437.2,191.8 437.4,221.2 437.5,216.8 437.7,225.4 437.8,202.4 437.9,200.2 438.1,218.3 438.2,212.1 438.4,203.3 438.5,208.2 438.6,223.4 438.8,194.2 438.9,203.8 439.0,212.4 439.2,201.6 439.3,208.4 439.5,207.9 439.6,211.1 439.7,214.8 439.9,206.5 440.0,191.2 440.2,213.6 440.3,217.4 440.4,212.7 440.6,195.8 440.7,199.0 440.9,197.8 441.0,202.1 441.1,185.5 441.3,198.3 441.4,186.6 441.5,205.7 441.7,207.5 441.8,185.5 442.0,195.2 442.1,195.6 442.2,186.8 442.4,209.8 442.5,184.1 442.7,194.2 442.8,189.6 442.9,203.3 443.1,201.7 443.2,216.8 443.3,205.7 443.5,190.6 443.6,205.4 443.8,198.9 443.9,179.5 444.0,162.7 444.2,185.9 444.3,203.3 444.5,219.8 444.6,198.4 444.7,192.8 444.9,199.2 445.0,192.0 445.1,186.1 445.3,178.6 445.4,204.4 445.6,192.1 445.7,196.5 445.8,184.5 446.0,193.1 446.1,180.1 446.3,175.2 446.4,179.7 446.5,206.1 446.7,176.5 446.8,195.9 446.9,170.9 447.1,209.7 447.2,177.8 447.4,186.0 447.5,197.9 447.6,181.4 447.8,188.4 447.9,182.7 448.1,188.6 448.2,177.1 448.3,186.1 448.5,167.0 448.6,188.9 448.8,189.2 448.9,165.6 449.0,189.6 449.2,196.2 449.3,181.9 449.4,178.9 449.6,169.1 449.7,170.7 449.9,166.5 450.0,170.7 450.1,168.3 450.3,169.7 450.4,172.0 450.6,164.8 450.7,164.6 450.8,182.6 451.0,175.9 451.1,176.8 451.2,151.5 451.4,174.0 451.5,189.3 451.7,184.0 451.8,169.2 451.9,167.8 452.1,164.7 452.2,169.4 452.4,178.7 452.5,174.4 452.6,163.7 452.8,179.5 452.9,174.8 453.0,162.4 453.2,164.7 453.3,157.7 453.5,169.0 453.6,174.4 453.7,177.1 453.9,160.1 454.0,143.7 454.2,183.3 454.3,156.3 454.4,150.9 454.6,166.0 454.7,172.8 454.8,170.2 455.0,155.1 455.1,163.8 455.3,181.9 455.4,177.6 455.5,164.9 455.7,170.6 455.8,163.5 456.0,152.0 456.1,160.3 456.2,149.7 456.4,158.7 456.5,157.8 456.7,151.8 456.8,160.8 456.9,152.8 457.1,144.5 457.2,158.5 457.3,155.6 457.5,165.9 457.6,172.5 457.8,154.1 457.9,141.1 458.0,151.1 458.2,155.1 458.3,155.5 458.5,167.3 458.6,149.1 458.7,136.2 458.9,137.3 459.0,147.3 459.1,148.4 459.3,148.4 459.4,164.3 459.6,168.2 459.7,145.8 459.8,138.9 460.0,174.9 460.1,152.8 460.3,141.7 460.4,135.1 460.5,149.2 460.7,156.9 460.8,157.3 460.9,160.0 461.1,150.1 461.2,162.5 461.4,144.0 461.5,150.2 461.6,154.8 461.8,144.5 461.9,143.7 462.1,145.6 462.2,153.9 462.3,142.1 462.5,151.7 462.6,143.4 462.7,163.6 462.9,136.7 463.0,154.1 463.2,132.6 463.3,137.6 463.4,153.3 463.6,156.4 463.7,130.2 463.9,137.8 464.0,154.3 464.1,135.9 464.3,147.7 464.4,132.2 464.6,146.0 464.7,153.6 464.8,141.0 465.0,140.0 465.1,142.6 465.2,144.4 465.4,138.6 465.5,153.0 465.7,159.0 465.8,155.9 465.9,155.6 466.1,140.1 466.2,133.6 466.4,141.5 466.5,140.0 466.6,130.3 466.8,146.2 466.9,137.7 467.0,137.6 467.2,154.1 467.3,141.3 467.5,155.3 467.6,145.2 467.7,134.3 467.9,136.5 468.0,123.0 468.2,135.4 468.3,140.3 468.4,141.7 468.6,129.0 468.7,126.6 468.8,130.5 469.0,130.1 469.1,131.8 469.3,125.5 469.4,142.8 469.5,141.9 469.7,127.0 469.8,140.5 470.0,135.9 470.1,134.3 470.2,130.5 470.4,142.8 470.5,131.0 470.6,147.9 470.8,142.9 470.9,128.2 471.1,141.1 471.2,143.1 471.3,123.2 471.5,119.9 471.6,130.5 471.8,134.4 471.9,138.1 472.0,132.4 472.2,135.5 472.3,143.1 472.5,141.7 472.6,122.4 472.7,131.6 472.9,135.0 473.0,126.5 473.1,129.6 473.3,110.5 473.4,131.2 473.6,141.1 473.7,136.2 473.8,136.0 474.0,126.3 474.1,130.5 474.3,117.1 474.4,122.0 474.5,128.7 474.7,121.0 474.8,145.1 474.9,131.0 475.1,125.9 475.2,104.3 475.4,137.9 475.5,129.8 475.6,120.4 475.8,119.5 475.9,114.1 476.1,111.0 476.2,125.7 476.3,122.3 476.5,103.2 476.6,119.7 476.7,112.8 476.9,121.6 477.0,122.8 477.2,114.9 477.3,112.0 477.4,124.5 477.6,125.2 477.7,120.0 477.9,130.4 478.0,129.9 478.1,119.1 478.3,115.7 478.4,106.2 478.5,129.6 478.7,126.9 478.8,116.7 479.0,104.5 479.1,110.0 479.2,131.6 479.4,116.8 479.5,107.2 479.7,122.9 479.8,108.3 479.9,116.3 480.1,113.7 480.2,110.3 480.4,116.4 480.5,123.6 480.6,125.9 480.8,108.9 480.9,123.0 481.0,112.6 481.2,107.6 481.3,114.8 481.5,124.3 481.6,126.2 481.7,112.1 481.9,109.8 482.0,123.5 482.2,126.3 482.3,101.8 482.4,98.1 482.6,102.1 482.7,106.4 482.8,116.0 483.0,104.5 483.1,115.9 483.3,108.8 483.4,106.0 483.5,122.1 483.7,103.7 483.8,126.5 484.0,122.3 484.1,136.3 484.2,106.5 484.4,114.5 484.5,112.7 484.6,104.1 484.8,113.8 484.9,102.3 485.1,107.1 485.2,124.0 485.3,107.2 485.5,99.1 485.6,111.2 485.8,97.8 485.9,128.1 486.0,97.8 486.2,114.9 486.3,109.4 486.4,108.1 486.6,93.6 486.7,100.9 486.9,110.5 487.0,107.7 487.1,118.7 487.3,110.8 487.4,106.7 487.6,108.2 487.7,98.8 487.8,97.7 488.0,108.6 488.1,104.4 488.3,90.2 488.4,114.5 488.5,101.4 488.7,109.7 488.8,117.6 488.9,106.6 489.1,107.0 489.2,111.0 489.4,111.1 489.5,98.7 489.6,100.9 489.8,120.6 489.9,117.4 490.1,84.8 490.2,103.0 490.3,94.3 490.5,102.0 490.6,113.3 490.7,94.2 490.9,104.2 491.0,95.0 491.2,115.9 491.3,100.6 491.4,109.3 491.6,111.9 491.7,96.9 491.9,107.1 492.0,104.9 492.1,113.9 492.3,103.2 492.4,113.8 492.5,109.7 492.7,95.6 492.8,108.8 493.0,101.3 493.1,90.9 493.2,99.1 493.4,103.0 493.5,98.2 493.7,98.1 493.8,93.0 493.9,101.2 494.1,110.8 494.2,95.2 494.4,89.0 494.5,114.4 494.6,86.9 494.8,112.7 494.9,98.3 495.0,100.5 495.2,109.8 495.3,94.9 495.5,87.6 495.6,99.0 495.7,96.5 495.9,108.5 496.0,86.3 496.2,93.9 496.3,109.7 496.4,101.1 496.6,87.4 496.7,111.8 496.8,93.8 497.0,105.0 497.1,96.5 497.3,104.5 497.4,112.5 497.5,110.5 497.7,95.6 497.8,100.9 498.0,105.5 498.1,85.5 498.2,95.6 498.4,96.8 498.5,98.1 498.6,109.3 498.8,85.8 498.9,93.0 499.1,91.8 499.2,87.0 499.3,100.6 499.5,96.3 499.6,95.9 499.8,94.8 499.9,95.9 500.0,86.8 500.2,106.1 500.3,92.9 500.4,88.0 500.6,88.6 500.7,99.9 500.9,105.1 501.0,103.3 501.1,88.7 501.3,100.7 501.4,94.7 501.6,107.6 501.7,97.0 501.8,80.1 502.0,96.3 502.1,88.3 502.3,98.3 502.4,96.7 502.5,101.3 502.7,109.3 502.8,82.5 502.9,79.1 503.1,103.8 503.2,88.4 503.4,105.4 503.5,96.1 503.6,89.9 503.8,94.7 503.9,88.4 504.1,88.5 504.2,100.7 504.3,104.3 504.5,88.7 504.6,87.1 504.7,104.6 504.9,110.6 505.0,98.5 505.2,103.1 505.3,86.5 505.4,102.5 505.6,99.3 505.7,81.3 505.9,98.2 506.0,87.9 506.1,105.4 506.3,101.3 506.4,101.5 506.5,96.3 506.7,88.0 506.8,94.4 507.0,108.5 507.1,80.2 507.2,96.1 507.4,94.0 507.5,87.8 507.7,91.3 507.8,109.3 507.9,96.9 508.1,85.5 508.2,79.3 508.3,87.3 508.5,86.0 508.6,91.1 508.8,86.1 508.9,89.2 509.0,101.2 509.2,101.3 509.3,96.4 509.5,94.3 509.6,95.3 509.7,92.5 509.9,100.0 510.0,84.1 510.2,88.3 510.3,96.3 510.4,89.5 510.6,97.5 510.7,97.3 510.8,77.5 511.0,80.5 511.1,98.5 511.3,98.8 511.4,94.6 511.5,106.2 511.7,90.4 511.8,94.3 512.0,97.9 512.1,98.8 512.2,91.0 512.4,107.6 512.5,91.7 512.6,100.1 512.8,88.9 512.9,83.3 513.1,81.4 513.2,80.6 513.3,86.0 513.5,97.4 513.6,109.2 513.8,96.8 513.9,86.8 514.0,100.2 514.2,100.9 514.3,95.9 514.4,77.7 514.6,95.5 514.7,100.1 514.9,79.2 515.0,82.7 515.1,98.8 515.3,91.1 515.4,97.0 515.6,87.2 515.7,98.6 515.8,81.0 516.0,101.7 516.1,67.0 516.2,77.6 516.4,88.6 516.5,99.9 516.7,85.4 516.8,111.3 516.9,77.9 517.1,83.1 517.2,83.5 517.4,94.6 517.5,89.2 517.6,79.9 517.8,95.3 517.9,90.0 518.1,101.2 518.2,88.9 518.3,85.1 518.5,94.1 518.6,105.9 518.7,90.7 518.9,106.4 519.0,91.7 519.2,106.3 519.3,88.0 519.4,82.9 519.6,101.1 519.7,95.6 519.9,83.8 520.0,89.0 520.1,98.2 520.3,87.5 520.4,88.9 520.5,95.2 520.7,102.8 520.8,76.2 521.0,94.9 521.1,97.0 521.2,106.2 521.4,85.3 521.5,97.4 521.7,93.2 521.8,95.5 521.9,88.4 522.1,84.7 522.2,92.6 522.3,103.4 522.5,95.5 522.6,81.4 522.8,98.5 522.9,100.4 523.0,81.1 523.2,84.5 523.3,86.3 523.5,96.9 523.6,98.9 523.7,90.5 523.9,80.1 524.0,90.2 524.1,95.9 524.3,100.8 524.4,98.2 524.6,96.6 524.7,79.2 524.8,91.2 525.0,94.4 525.1,103.4 525.3,84.2 525.4,102.2 525.5,110.7 525.7,78.6 525.8,102.5 526.0,94.9 526.1,94.0 526.2,78.2 526.4,100.0 526.5,90.7 526.6,77.7 526.8,112.7 526.9,85.6 527.1,84.4 527.2,93.3 527.3,107.6 527.5,101.6 527.6,101.9 527.8,105.8 527.9,90.7 528.0,92.5 528.2,96.0 528.3,103.4 528.4,91.0 528.6,102.6 528.7,115.4 528.9,85.5 529.0,100.0 529.1,92.6 529.3,91.6 529.4,97.6 529.6,94.4 529.7,98.6 529.8,107.0 530.0,89.4 530.1,88.5 530.2,107.6 530.4,100.9 530.5,114.6 530.7,96.9 530.8,88.0 530.9,95.6 531.1,80.8 531.2,92.2 531.4,83.7 531.5,104.4 531.6,99.9 531.8,96.2 531.9,118.2 532.0,93.2 532.2,99.7 532.3,103.6 532.5,87.3 532.6,107.2 532.7,103.0 532.9,86.6 533.0,112.4 533.2,104.5 533.3,106.4 533.4,103.3 533.6,91.0 533.7,114.7 533.9,108.4 534.0,103.1 534.1,100.5 534.3,104.0 534.4,103.2 534.5,112.8 534.7,89.3 534.8,94.5 535.0,89.6 535.1,94.0 535.2,97.3 535.4,104.8 535.5,92.2 535.7,98.9 535.8,106.9 535.9,103.2 536.1,99.7 536.2,104.4 536.3,111.5 536.5,119.8 536.6,102.9 536.8,102.5 536.9,108.8 537.0,98.0 537.2,113.6 537.3,117.9 537.5,102.7 537.6,105.9 537.7,93.8 537.9,106.6 538.0,114.4 538.1,114.7 538.3,112.4 538.4,90.9 538.6,126.2 538.7,92.6 538.8,107.7 539.0,95.3 539.1,96.3 539.3,96.5 539.4,117.8 539.5,102.3 539.7,91.9 539.8,102.0 539.9,114.4 540.1,118.3 540.2,109.1 540.4,96.0 540.5,95.3 540.6,102.5 540.8,117.1 540.9,102.6 541.1,112.1 541.2,105.7 541.3,99.1 541.5,100.2 541.6,108.6 541.8,93.4 541.9,102.6 542.0,111.3 542.2,93.9 542.3,111.9 542.4,119.8 542.6,102.1 542.7,96.9 542.9,121.4 543.0,112.2 543.1,98.6 543.3,101.4 543.4,101.2 543.6,96.4 543.7,114.8 543.8,107.5 544.0,118.3 544.1,115.2 544.2,120.1 544.4,106.4 544.5,87.9 544.7,96.8 544.8,110.1 544.9,119.4 545.1,113.4 545.2,121.1 545.4,119.0 545.5,101.2 545.6,126.7 545.8,118.3 545.9,109.9 546.0,128.8 546.2,123.8 546.3,104.1 546.5,118.1 546.6,115.2 546.7,99.5 546.9,103.3 547.0,116.3 547.2,127.1 547.3,109.7 547.4,104.8 547.6,97.2 547.7,108.4 547.8,99.7 548.0,125.7 548.1,117.3 548.3,112.7 548.4,129.0 548.5,108.7 548.7,119.8 548.8,107.3 549.0,125.8 549.1,111.9 549.2,103.5 549.4,102.1 549.5,113.0 549.7,118.9 549.8,104.9 549.9,129.9 550.1,128.2 550.2,115.0 550.3,106.4 550.5,121.0 550.6,117.2 550.8,115.5 550.9,114.3 551.0,133.1 551.2,123.8 551.3,130.2 551.5,107.9 551.6,116.8 551.7,130.1 551.9,109.8 552.0,109.6 552.1,133.8 552.3,111.7 552.4,123.2 552.6,111.5 552.7,121.0 552.8,106.0 553.0,114.0 553.1,138.4 553.3,104.9 553.4,123.2 553.5,135.7 553.7,124.1 553.8,138.6 553.9,117.4 554.1,114.2 554.2,110.2 554.4,105.2 554.5,126.8 554.6,129.9 554.8,112.9 554.9,145.6 555.1,127.6 555.2,112.5 555.3,132.6 555.5,127.1 555.6,132.4 555.7,125.7 555.9,137.4 556.0,129.1 556.2,115.3 556.3,125.0 556.4,128.8 556.6,126.2 556.7,127.7 556.9,114.3 557.0,126.9 557.1,120.7 557.3,128.4 557.4,142.8 557.6,138.4 557.7,133.5 557.8,123.7 558.0,135.6 558.1,124.2 558.2,133.2 558.4,137.1 558.5,126.5 558.7,141.5 558.8,123.2 558.9,140.6 559.1,132.1 559.2,127.8 559.4,134.8 559.5,137.0 559.6,126.8 559.8,136.5 559.9,144.9 560.0,129.0 560.2,129.9 560.3,139.0 560.5,141.9 560.6,131.0 560.7,139.2 560.9,121.6 561.0,125.2 561.2,128.6 561.3,134.1 561.4,141.8 561.6,132.6 561.7,142.0 561.8,148.4 562.0,141.1 562.1,135.1 562.3,141.2 562.4,134.1 562.5,156.7 562.7,157.6 562.8,144.1 563.0,153.0 563.1,132.8 563.2,128.9 563.4,136.7 563.5,147.0 563.7,147.9 563.8,140.9 563.9,140.4 564.1,145.4 564.2,151.8 564.3,121.4 564.5,135.1 564.6,121.0 564.8,159.9 564.9,153.7 565.0,137.8 565.2,151.6 565.3,131.4 565.5,141.7 565.6,145.1 565.7,141.5 565.9,143.7 566.0,130.2 566.1,155.6 566.3,152.3 566.4,157.7 566.6,154.9 566.7,138.1 566.8,154.5 567.0,133.9 567.1,163.7 567.3,143.8 567.4,150.3 567.5,144.3 567.7,136.5 567.8,156.9 567.9,161.9 568.1,137.3 568.2,135.8 568.4,140.6 568.5,133.2 568.6,154.3 568.8,135.8 568.9,151.7 569.1,166.0 569.2,152.4 569.3,140.6 569.5,151.3 569.6,161.4 569.7,155.2 569.9,154.8 570.0,162.0 570.2,158.3 570.3,155.3 570.4,153.1 570.6,171.4 570.7,167.6 570.9,166.6 571.0,139.1 571.1,152.4 571.3,151.3 571.4,158.4 571.6,151.2 571.7,164.1 571.8,150.0 572.0,163.8 572.1,160.6 572.2,166.8 572.4,159.0 572.5,143.0 572.7,144.4 572.8,171.1 572.9,155.6 573.1,180.6 573.2,162.7 573.4,184.5 573.5,165.0 573.6,170.9 573.8,140.9 573.9,177.6 574.0,147.5 574.2,144.9 574.3,187.7 574.5,149.6 574.6,172.7 574.7,156.8 574.9,159.2 575.0,159.7 575.2,155.8 575.3,151.7 575.4,159.1 575.6,166.1 575.7,150.1 575.8,166.1 576.0,163.1 576.1,156.3 576.3,142.3 576.4,165.4 576.5,181.1 576.7,169.0 576.8,166.4 577.0,173.0 577.1,177.6 577.2,182.4 577.4,179.4 577.5,180.8 577.6,169.8 577.8,155.6 577.9,172.4 578.1,167.8 578.2,171.8 578.3,165.6 578.5,159.6 578.6,175.4 578.8,167.4 578.9,167.2 579.0,175.5 579.2,181.7 579.3,185.7 579.5,187.5 579.6,185.4 579.7,157.7 579.9,180.3 580.0,178.6 580.1,184.5 580.3,172.8 580.4,174.9 580.6,182.3 580.7,166.6 580.8,187.9 581.0,182.1 581.1,171.5 581.3,192.5 581.4,183.7 581.5,151.4 581.7,176.9 581.8,179.2 581.9,184.8 582.1,192.1 582.2,192.0 582.4,177.1 582.5,175.3 582.6,169.9 582.8,195.2 582.9,185.0 583.1,182.7 583.2,178.7 583.3,178.5 583.5,193.0 583.6,186.5 583.7,196.8 583.9,190.1 584.0,203.4 584.2,202.7 584.3,190.7 584.4,201.1 584.6,186.8 584.7,194.3 584.9,184.4 585.0,181.3 585.1,173.9 585.3,191.7 585.4,199.4 585.5,202.9 585.7,191.6 585.8,202.7 586.0,192.3 586.1,200.1 586.2,192.4 586.4,194.7 586.5,211.8 586.7,199.7 586.8,184.5 586.9,194.2 587.1,191.5 587.2,188.7 587.4,198.4 587.5,199.2 587.6,196.3 587.8,200.2 587.9,196.2 588.0,207.0 588.2,195.0 588.3,208.7 588.5,194.6 588.6,198.7 588.7,200.8 588.9,194.0 589.0,202.8 589.2,202.3 589.3,197.4 589.4,210.9 589.6,212.9 589.7,211.1 589.8,221.0 590.0,189.6 590.1,221.0 590.3,193.0 590.4,209.0 590.5,220.8 590.7,217.7 590.8,215.2 591.0,196.2 591.1,195.1 591.2,215.5 591.4,203.4 591.5,208.9 591.6,218.3 591.8,221.0 591.9,209.1 592.1,216.3 592.2,204.7 592.3,220.0 592.5,215.9 592.6,225.1 592.8,212.6 592.9,200.3 593.0,231.4 593.2,221.6 593.3,193.1 593.4,211.8 593.6,228.6 593.7,208.7 593.9,220.2 594.0,235.5 594.1,221.8 594.3,228.5 594.4,215.7 594.6,220.2 594.7,206.1 594.8,212.3 595.0,223.6 595.1,219.3 595.3,225.6 595.4,219.1 595.5,221.2 595.7,224.0 595.8,222.9 595.9,224.3 596.1,223.0 596.2,230.9 596.4,232.1 596.5,213.4 596.6,207.1 596.8,214.6 596.9,242.7 597.1,219.6 597.2,214.4 597.3,221.9 597.5,224.6 597.6,221.6 597.7,226.6 597.9,244.0 598.0,228.9 598.2,250.5 598.3,210.0 598.4,236.5 598.6,243.4 598.7,223.0 598.9,226.3 599.0,234.2 599.1,239.0 599.3,217.9 599.4,237.6 599.5,239.0 599.7,231.5 599.8,235.5 600.0,237.9 600.1,232.4 600.2,238.8 600.4,237.0 600.5,236.1 600.7,241.6 600.8,239.8 600.9,237.4 601.1,227.1 601.2,226.3 601.3,247.1 601.5,240.6 601.6,238.7 601.8,227.5 601.9,231.0 602.0,250.3 602.2,257.9 602.3,242.5 602.5,260.0 602.6,260.0 602.7,232.9 602.9,244.9 603.0,253.4 603.2,241.8 603.3,262.4 603.4,251.4 603.6,252.1 603.7,242.3 603.8,249.4 604.0,253.2 604.1,243.4 604.3,234.5 604.4,260.5 604.5,265.0 604.7,236.1 604.8,241.9 605.0,256.0 605.1,248.6 605.2,271.6 605.4,269.7 605.5,261.4 605.6,263.4 605.8,243.5 605.9,271.2 606.1,250.6 606.2,262.8 606.3,253.2 606.5,262.1 606.6,261.0 606.8,275.3 606.9,266.8 607.0,266.4 607.2,283.2 607.3,247.0 607.4,267.0 607.6,269.3 607.7,255.4 607.9,271.1 608.0,259.9 608.1,250.5 608.3,259.6 608.4,258.6 608.6,262.1 608.7,251.5 608.8,280.7 609.0,272.7 609.1,282.5 609.2,274.4 609.4,257.4 609.5,260.2 609.7,272.7 609.8,270.9 609.9,269.7 610.1,263.5 610.2,275.2 610.4,264.7 610.5,275.9 610.6,274.5 610.8,273.8 610.9,272.8 611.1,275.8 611.2,273.5 611.3,267.7 611.5,281.1 611.6,284.6 611.7,283.5 611.9,250.4 612.0,274.9 612.2,268.7 612.3,270.8 612.4,289.9 612.6,271.3 612.7,294.7 612.9,291.2 613.0,284.3 613.1,278.5 613.3,286.9 613.4,269.8 613.5,292.6 613.7,296.2 613.8,276.4 614.0,280.9 614.1,275.0 614.2,282.1 614.4,289.8 614.5,282.6 614.7,296.7 614.8,277.4 614.9,282.4 615.1,293.4 615.2,282.8 615.3,299.4 615.5,292.9 615.6,282.7 615.8,280.5 615.9,289.6 616.0,292.1 616.2,294.1 616.3,289.1 616.5,292.0 616.6,302.3 616.7,312.6 616.9,306.4 617.0,294.0 617.1,293.6 617.3,298.7 617.4,278.2 617.6,278.3 617.7,306.1 617.8,292.1 618.0,274.5 618.1,295.5 618.3,278.8 618.4,293.0 618.5,283.8 618.7,285.1 618.8,285.0 619.0,286.7 619.1,298.6 619.2,289.9 619.4,291.1 619.5,306.5 619.6,311.6 619.8,292.8 619.9,297.7 620.1,304.8 620.2,298.0 620.3,298.0 620.5,299.0 620.6,294.3 620.8,316.7 620.9,286.8 621.0,301.2 621.2,307.2 621.3,280.7 621.4,297.8 621.6,295.6 621.7,291.8 621.9,293.0 622.0,293.9 622.1,299.7 622.3,315.0 622.4,288.9 622.6,301.2 622.7,303.0 622.8,300.8 623.0,318.1 623.1,293.8 623.2,308.3 623.4,290.5 623.5,313.0 623.7,309.3 623.8,297.6 623.9,309.9 624.1,316.5 624.2,321.9 624.4,294.5 624.5,318.4 624.6,315.2 624.8,292.3 624.9,314.2 625.0,330.3 625.2,311.8 625.3,316.1 625.5,313.0 625.6,320.4 625.7,327.2 625.9,327.1 626.0,320.3 626.2,308.6 626.3,297.4 626.4,316.6 626.6,299.5 626.7,318.1 626.9,308.2 627.0,321.2 627.1,311.2 627.3,306.1 627.4,320.2 627.5,321.6 627.7,294.9 627.8,311.4 628.0,308.3 628.1,346.8 628.2,314.7 628.4,317.5 628.5,318.1 628.7,327.1 628.8,310.0 628.9,322.9 629.1,303.4 629.2,303.4 629.3,306.0 629.5,333.5 629.6,320.0 629.8,317.8 629.9,324.6 630.0,300.3 630.2,323.9 630.3,320.8 630.5,328.6 630.6,328.7 630.7,329.1 630.9,348.9 631.0,325.6 631.1,347.7 631.3,321.8 631.4,317.1 631.6,313.0 631.7,332.4 631.8,327.9 632.0,325.0 632.1,322.5 632.3,324.9 632.4,337.1 632.5,316.2 632.7,325.1 632.8,336.5 633.0,345.9 633.1,310.4 633.2,338.1 633.4,321.3 633.5,332.6 633.6,319.9 633.8,320.5 633.9,320.1 634.1,339.7 634.2,327.3 634.3,314.3 634.5,350.4 634.6,327.2 634.8,344.4 634.9,319.4 635.0,342.3 635.2,361.7 635.3,333.7 635.4,332.0 635.6,343.1 635.7,340.6 635.9,317.2 636.0,321.1 636.1,327.1 636.3,323.9 636.4,325.1 636.6,339.7 636.7,330.9 636.8,333.6 637.0,350.2 637.1,320.6 637.2,341.6 637.4,324.3 637.5,337.8 637.7,327.3 637.8,325.6 637.9,330.1 638.1,330.1 638.2,328.0 638.4,331.9 638.5,338.0 638.6,334.2 638.8,339.4 638.9,351.2 639.0,325.2 639.2,334.3 639.3,353.3 639.5,336.4 639.6,327.0 639.7,342.0 639.9,340.2 640.0,341.6 640.2,353.0 640.3,337.4 640.4,356.0 640.6,332.9 640.7,336.4 640.9,331.8 641.0,341.0 641.1,341.7 641.3,351.2 641.4,350.7 641.5,341.1 641.7,340.8 641.8,336.1 642.0,357.4 642.1,355.4 642.2,355.2 642.4,338.6 642.5,327.8 642.7,342.7 642.8,330.1 642.9,333.2 643.1,360.7 643.2,329.8 643.3,371.1 643.5,344.3 643.6,335.1 643.8,341.3 643.9,340.4 644.0,357.9 644.2,356.8 644.3,343.2 644.5,343.3 644.6,345.3 644.7,337.3 644.9,343.3 645.0,347.1 645.1,341.7 645.3,336.1 645.4,335.0 645.6,353.7 645.7,354.5 645.8,349.0 646.0,345.2 646.1,332.8 646.3,359.1 646.4,338.5 646.5,356.9 646.7,340.0 646.8,337.7 646.9,334.0 647.1,366.1 647.2,353.3 647.4,346.2 647.5,366.2 647.6,337.7 647.8,345.7 647.9,360.1 648.1,340.6 648.2,346.1 648.3,360.2 648.5,338.3 648.6,348.6 648.8,352.1 648.9,335.3 649.0,367.3 649.2,352.5 649.3,354.9 649.4,349.4 649.6,360.4 649.7,336.7 649.9,373.7 650.0,333.9 650.1,358.5 650.3,353.9 650.4,363.9 650.6,342.7 650.7,356.5 650.8,351.7 651.0,356.4 651.1,367.5 651.2,348.2 651.4,347.5 651.5,346.9 651.7,347.9 651.8,348.6 651.9,354.5 652.1,353.1 652.2,369.1 652.4,348.7 652.5,365.1 652.6,355.6 652.8,339.4 652.9,380.7 653.0,341.2 653.2,356.2 653.3,339.6 653.5,346.2 653.6,358.2 653.7,345.1 653.9,358.0 654.0,360.6 654.2,353.2 654.3,344.3 654.4,359.7 654.6,352.6 654.7,350.6 654.8,366.4 655.0,351.5 655.1,364.1 655.3,350.7 655.4,360.5 655.5,360.0 655.7,354.3 655.8,362.1 656.0,368.8 656.1,345.9 656.2,365.9 656.4,352.2 656.5,359.9 656.7,369.2 656.8,354.8 656.9,352.0 657.1,361.7 657.2,354.3 657.3,370.0 657.5,368.0 657.6,355.7 657.8,368.7 657.9,374.6 658.0,361.7 658.2,357.0 658.3,373.3 658.5,368.4 658.6,365.1 658.7,365.9 658.9,366.0 659.0,356.5 659.1,352.2 659.3,365.3 659.4,364.3 659.6,372.8 659.7,359.8 659.8,366.3 660.0,351.0 660.1,358.8 660.3,377.4 660.4,377.7 660.5,359.1 660.7,373.6 660.8,376.2 660.9,362.8 661.1,357.1 661.2,378.6 661.4,382.2 661.5,369.8 661.6,363.5 661.8,361.6 661.9,366.2 662.1,373.1 662.2,368.5 662.3,355.9 662.5,372.8 662.6,379.7 662.7,365.1 662.9,376.3 663.0,350.1 663.2,362.6 663.3,378.8 663.4,369.5 663.6,366.7 663.7,357.3 663.9,378.1 664.0,368.9 664.1,379.2 664.3,357.3 664.4,355.0 664.6,388.1 664.7,363.4 664.8,379.7 665.0,368.8 665.1,376.1 665.2,365.4 665.4,389.1 665.5,365.9 665.7,358.7 665.8,386.9 665.9,359.7 666.1,367.3 666.2,375.5 666.4,372.1 666.5,369.2 666.6,361.9 666.8,368.6 666.9,364.4 667.0,366.7 667.2,366.1 667.3,377.7 667.5,387.6 667.6,360.4 667.7,378.9 667.9,365.6 668.0,367.1 668.2,379.6 668.3,378.5 668.4,375.1 668.6,376.9 668.7,373.9 668.8,371.5 669.0,365.2 669.1,380.4 669.3,369.6 669.4,376.2 669.5,385.9 669.7,384.2 669.8,382.0 670.0,374.5 670.1,361.4 670.2,369.9 670.4,378.4 670.5,370.1 670.6,368.5 670.8,378.0 670.9,366.6 671.1,374.7 671.2,379.4 671.3,363.8 671.5,371.3 671.6,390.5 671.8,370.4 671.9,368.4 672.0,366.2 672.2,380.7 672.3,381.1 672.5,381.4 672.6,371.8 672.7,361.6 672.9,353.8 673.0,378.6 673.1,381.9 673.3,383.0 673.4,384.6 673.6,382.7 673.7,355.5 673.8,378.8 674.0,362.6 674.1,368.7 674.3,373.6 674.4,361.3 674.5,367.7 674.7,381.1 674.8,372.8 674.9,373.1 675.1,365.5 675.2,368.2 675.4,383.0 675.5,375.5 675.6,386.1 675.8,384.5 675.9,375.3 676.1,364.6 676.2,378.5 676.3,390.6 676.5,386.7 676.6,374.7 676.7,370.1 676.9,379.1 677.0,384.0 677.2,380.2 677.3,385.9 677.4,354.2 677.6,386.0 677.7,370.7 677.9,347.2 678.0,386.2 678.1,375.1 678.3,383.8 678.4,374.8 678.5,381.7 678.7,376.7 678.8,377.2 679.0,361.6 679.1,380.3 679.2,380.5 679.4,360.9 679.5,378.2 679.7,384.1 679.8,377.6 679.9,373.3 680.1,378.3 680.2,370.7 680.4,369.5 680.5,373.4 680.6,364.3 680.8,389.3 680.9,377.4 681.0,377.1 681.2,374.1 681.3,388.3 681.5,372.1 681.6,373.4 681.7,356.3 681.9,369.2 682.0,370.6 682.2,375.4 682.3,366.7 682.4,367.0 682.6,380.7 682.7,378.3 682.8,353.9 683.0,395.4 683.1,377.3 683.3,373.3 683.4,369.5 683.5,389.2 683.7,359.8 683.8,368.5 684.0,386.0 684.1,379.7 684.2,399.1 684.4,365.4 684.5,365.7 684.6,365.7 684.8,378.9 684.9,369.7 685.1,379.1 685.2,377.1 685.3,370.0 685.5,373.6 685.6,364.6 685.8,367.8 685.9,374.7 686.0,359.6 686.2,371.2 686.3,377.8 686.4,367.4 686.6,363.7 686.7,391.4 686.9,391.9 687.0,371.3 687.1,381.2 687.3,375.9 687.4,378.3 687.6,373.7 687.7,384.8 687.8,376.2 688.0,383.2 688.1,360.4 688.3,385.5 688.4,375.8 688.5,382.5 688.7,369.7 688.8,385.7 688.9,372.6 689.1,382.2 689.2,366.9 689.4,376.3 689.5,376.6 689.6,373.1 689.8,373.9 689.9,372.5 690.1,373.4 690.2,383.1 690.3,367.1 690.5,378.8 690.6,366.0 690.7,369.4 690.9,372.3 691.0,375.9 691.2,368.0 691.3,368.1 691.4,371.6 691.6,383.7 691.7,376.5 691.9,383.1 692.0,375.1 692.1,379.4 692.3,383.0 692.4,367.3 692.5,388.4 692.7,366.3 692.8,372.4 693.0,377.8 693.1,366.0 693.2,377.8 693.4,358.9 693.5,366.4 693.7,394.7 693.8,390.9 693.9,372.7 694.1,366.6 694.2,366.9 694.3,367.8 694.5,362.2 694.6,366.9 694.8,370.5 694.9,371.2 695.0,368.9 695.2,391.8 695.3,392.0 695.5,369.2 695.6,360.6 695.7,357.5 695.9,383.6 696.0,360.2 696.2,367.4 696.3,378.2 696.4,364.8 696.6,366.8 696.7,379.1 696.8,362.8 697.0,371.7 697.1,363.9 697.3,368.9 697.4,362.1 697.5,357.4 697.7,362.7 697.8,368.9 698.0,371.8 698.1,347.5 698.2,355.0 698.4,365.9 698.5,376.3 698.6,354.8 698.8,377.1 698.9,367.4 699.1,372.9 699.2,380.7 699.3,371.0 699.5,362.3 699.6,372.0 699.8,364.5 699.9,376.1 700.0,367.0 700.2,376.1 700.3,375.4 700.4,378.0 700.6,362.1 700.7,376.7 700.9,377.8 701.0,377.1 701.1,353.0 701.3,349.2 701.4,377.0 701.6,370.4 701.7,375.9 701.8,370.6 702.0,373.6 702.1,368.8 702.2,358.7 702.4,365.0 702.5,371.8 702.7,370.5 702.8,364.0 702.9,363.9 703.1,362.7 703.2,364.1 703.4,363.1 703.5,355.4 703.6,361.1 703.8,347.9 703.9,380.4 704.1,367.9 704.2,372.9 704.3,358.6 704.5,355.0 704.6,372.3 704.7,359.2 704.9,375.6 705.0,360.1 705.2,366.1 705.3,365.5 705.4,377.9 705.6,361.3 705.7,378.4 705.9,369.7 706.0,355.8 706.1,367.0 706.3,369.5 706.4,379.8 706.5,377.5 706.7,373.4 706.8,359.8 707.0,367.5 707.1,351.5 707.2,363.4 707.4,363.0 707.5,354.1 707.7,361.7 707.8,348.7 707.9,362.9 708.1,366.3 708.2,353.2 708.3,336.6 708.5,373.9 708.6,349.7 708.8,352.5 708.9,363.9 709.0,357.1 709.2,345.2 709.3,365.4 709.5,371.0 709.6,347.9 709.7,356.4 709.9,344.1 710.0,361.4 710.2,351.8 710.3,356.0 710.4,342.5 710.6,348.3 710.7,358.9 710.8,354.7 711.0,357.1 711.1,369.3 711.3,367.1 711.4,365.3 711.5,360.5 711.7,363.9 711.8,349.9 712.0,353.5 712.1,365.6 712.2,360.3 712.4,365.8 712.5,355.7 712.6,351.1 712.8,361.6 712.9,364.6 713.1,347.4 713.2,341.3 713.3,365.7 713.5,359.5 713.6,356.3 713.8,359.5 713.9,340.7 714.0,355.1 714.2,361.0 714.3,352.2 714.4,351.0 714.6,354.2 714.7,348.6 714.9,344.7 715.0,359.3 715.1,355.6 715.3,348.0 715.4,359.2 715.6,344.1 715.7,340.9 715.8,337.6 716.0,331.7 716.1,357.2 716.2,350.0 716.4,367.1 716.5,357.1 716.7,360.0 716.8,343.6 716.9,362.7 717.1,349.9 717.2,350.5 717.4,357.0 717.5,357.0 717.6,346.2 717.8,346.9 717.9,360.2 718.1,357.7 718.2,360.3 718.3,347.1 718.5,344.5 718.6,340.1 718.7,340.3 718.9,352.0 719.0,329.3 719.2,323.0 719.3,356.1 719.4,332.9 719.6,366.0 719.7,357.2 719.9,343.8 720.0,354.2 720.1,338.1 720.3,361.6 720.4,336.8 720.5,344.6 720.7,342.1 720.8,351.6 721.0,339.2 721.1,337.4 721.2,338.6 721.4,346.2 721.5,343.2 721.7,365.5 721.8,342.9 721.9,333.2 722.1,352.7 722.2,348.2 722.3,339.4 722.5,343.5 722.6,345.1 722.8,337.0 722.9,333.4 723.0,345.7 723.2,334.3 723.3,340.3 723.5,346.3 723.6,336.2 723.7,346.4 723.9,328.5 724.0,347.7 724.1,346.6 724.3,328.5 724.4,334.6 724.6,342.1 724.7,327.7 724.8,339.0 725.0,347.8 725.1,340.5 725.3,348.8 725.4,328.8 725.5,325.8 725.7,341.6 725.8,333.3 726.0,342.4 726.1,347.4 726.2,337.8 726.4,344.0 726.5,323.4 726.6,347.6 726.8,351.6 726.9,335.0 727.1,350.6 727.2,332.9 727.3,319.3 727.5,321.6 727.6,332.6 727.8,327.9 727.9,339.0 728.0,324.8 728.2,343.5 728.3,330.4 728.4,343.8 728.6,331.6 728.7,336.9 728.9,333.6 729.0,318.9 729.1,336.5 729.3,322.5 729.4,324.5 729.6,319.4 729.7,314.2 729.8,317.3 730.0,335.1 730.1,332.0 730.2,326.4 730.4,341.2 730.5,322.5 730.7,330.2 730.8,324.2 730.9,316.3 731.1,314.8 731.2,316.3 731.4,347.8 731.5,342.4 731.6,328.9 731.8,315.5 731.9,316.7 732.0,318.7 732.2,316.4 732.3,320.9 732.5,323.9 732.6,319.3 732.7,340.7 732.9,330.3 733.0,321.1 733.2,326.6 733.3,326.1 733.4,327.6 733.6,311.0 733.7,314.8 733.9,323.9 734.0,308.6 734.1,317.6 734.3,322.6 734.4,325.1 734.5,319.2 734.7,332.9 734.8,326.6 735.0,329.6 735.1,305.5 735.2,311.6 735.4,319.0 735.5,298.8 735.7,315.1 735.8,308.6 735.9,315.3 736.1,306.6 736.2,313.5 736.3,307.8 736.5,297.3 736.6,313.9 736.8,303.8 736.9,312.2 737.0,309.0 737.2,300.7 737.3,301.4 737.5,305.5 737.6,299.8 737.7,315.7 737.9,299.2 738.0,311.6 738.1,299.8 738.3,309.2 738.4,308.5 738.6,324.3 738.7,305.3 738.8,296.4 739.0,295.8 739.1,302.3 739.3,307.8 739.4,298.9 739.5,299.1 739.7,306.7 739.8,308.0 739.9,306.5 740.1,322.9 740.2,303.6 740.4,285.6 740.5,309.1 740.6,302.0 740.8,295.4 740.9,295.3 741.1,301.5 741.2,309.4 741.3,291.7 741.5,297.7 741.6,304.1 741.8,309.5 741.9,307.0 742.0,308.5 742.2,286.5 742.3,305.6 742.4,287.6 742.6,274.5 742.7,288.6 742.9,278.7 743.0,302.6 743.1,279.1 743.3,298.3 743.4,306.9 743.6,301.1 743.7,296.2 743.8,314.2 744.0,282.0 744.1,283.6 744.2,284.1 744.4,286.8 744.5,299.5 744.7,285.2 744.8,302.4 744.9,301.7 745.1,290.3 745.2,285.5 745.4,296.7 745.5,307.8 745.6,302.3 745.8,301.1 745.9,285.6 746.0,298.1 746.2,305.8 746.3,298.2 746.5,288.9 746.6,289.4 746.7,282.4 746.9,270.7 747.0,279.4 747.2,291.9 747.3,302.6 747.4,287.6 747.6,283.0 747.7,292.6 747.8,278.7 748.0,278.6 748.1,267.2 748.3,270.7 748.4,287.4 748.5,286.4 748.7,294.1 748.8,297.4 749.0,300.6 749.1,287.9 749.2,279.6 749.4,276.2 749.5,276.3 749.7,288.3 749.8,284.0 749.9,269.5 750.1,291.6 750.2,279.1 750.3,288.2 750.5,278.1 750.6,269.4 750.8,259.7 750.9,271.6 751.0,278.0 751.2,271.3 751.3,268.9 751.5,280.7 751.6,272.3 751.7,268.0 751.9,276.0 752.0,262.7 752.1,286.1 752.3,290.4 752.4,273.6 752.6,263.1 752.7,285.3 752.8,254.3 753.0,266.7 753.1,276.1 753.3,272.2 753.4,261.4 753.5,280.6 753.7,247.5 753.8,267.3 753.9,276.4 754.1,268.3 754.2,255.5 754.4,261.2 754.5,269.9 754.6,273.3 754.8,281.1 754.9,249.0 755.1,250.0 755.2,264.8 755.3,256.2 755.5,281.6 755.6,261.8 755.7,261.8 755.9,268.6 756.0,257.0 756.2,260.5 756.3,249.4 756.4,257.9 756.6,269.3 756.7,269.6 756.9,265.9 757.0,277.7 757.1,254.4 757.3,259.7 757.4,249.2 757.6,242.7 757.7,258.5 757.8,260.4 758.0,271.3 758.1,250.9 758.2,256.2 758.4,251.9 758.5,268.4 758.7,253.4 758.8,262.7 758.9,263.1 759.1,250.2 759.2,261.5 759.4,236.5 759.5,249.2 759.6,249.4 759.8,258.2 759.9,249.7 760.0,246.7 760.2,235.6 760.3,243.9 760.5,242.7 760.6,241.5 760.7,237.9 760.9,256.1 761.0,251.7 761.2,262.7 761.3,257.2 761.4,263.8 761.6,236.0 761.7,235.2 761.8,240.0 762.0,247.5 762.1,258.1 762.3,254.7 762.4,249.5 762.5,262.2 762.7,242.4 762.8,242.2 763.0,250.2 763.1,241.5 763.2,233.9 763.4,249.4 763.5,242.0 763.6,233.1 763.8,250.6 763.9,218.0 764.1,228.9 764.2,231.0 764.3,244.6 764.5,241.3 764.6,241.8 764.8,218.5 764.9,226.8 765.0,248.6 765.2,235.9 765.3,231.3 765.5,233.5 765.6,242.0 765.7,239.5 765.9,247.2 766.0,222.5 766.1,243.5 766.3,220.2 766.4,235.5 766.6,204.2 766.7,241.0 766.8,245.6 767.0,227.9 767.1,229.8 767.3,226.2 767.4,213.0 767.5,222.0 767.7,229.3 767.8,236.1 767.9,231.5 768.1,217.1 768.2,224.7 768.4,222.1 768.5,211.5 768.6,216.4 768.8,235.0 768.9,227.5 769.1,232.2 769.2,214.8 769.3,225.4 769.5,220.9 769.6,200.8 769.7,221.4 769.9,218.2 770.0,224.0 770.2,221.6 770.3,222.9 770.4,216.6 770.6,231.3 770.7,218.0 770.9,208.4 771.0,206.9 771.1,216.5 771.3,201.5 771.4,214.9 771.5,234.3 771.7,209.4 771.8,221.3 772.0,194.5 772.1,211.8 772.2,211.0 772.4,197.8 772.5,214.0 772.7,219.7 772.8,210.3 772.9,182.2 773.1,195.2 773.2,206.5 773.4,192.9 773.5,209.9 773.6,204.8 773.8,216.2 773.9,200.4 774.0,203.2 774.2,197.1 774.3,187.5 774.5,211.0 774.6,207.1 774.7,188.3 774.9,199.0 775.0,197.6 775.2,211.3 775.3,223.0 775.4,214.2 775.6,191.2 775.7,196.2 775.8,216.0 776.0,202.0 776.1,217.0 776.3,192.3 776.4,206.8 776.5,198.1 776.7,203.9 776.8,189.6 777.0,198.6 777.1,201.3 777.2,192.6 777.4,177.5 777.5,212.5 777.6,199.4 777.8,198.9 777.9,208.0 778.1,205.0 778.2,192.4 778.3,184.6 778.5,204.7 778.6,178.9 778.8,188.9 778.9,197.6 779.0,195.2 779.2,193.2 779.3,184.7 779.5,177.0 779.6,200.9 779.7,164.0 779.9,193.9 780.0,194.2 780.1,197.9 780.3,178.1 780.4,190.3 780.6,209.3 780.7,196.3 780.8,192.8 781.0,203.9 781.1,185.4 781.3,176.7 781.4,193.0 781.5,187.4 781.7,176.0 781.8,179.2 781.9,189.4 782.1,187.2 782.2,190.0 782.4,175.7 782.5,188.8 782.6,179.5 782.8,177.1 782.9,186.7 783.1,171.1 783.2,176.0 783.3,176.9 783.5,170.9 783.6,191.7 783.7,154.6 783.9,170.4 784.0,180.1 784.2,174.0 784.3,180.6 784.4,174.6 784.6,167.2 784.7,171.0 784.9,172.2 785.0,177.5 785.1,181.9 785.3,167.0 785.4,172.6 785.5,186.7 785.7,170.4 785.8,167.9 786.0,160.8 786.1,181.6 786.2,170.9 786.4,160.7 786.5,165.8 786.7,175.5 786.8,173.0 786.9,167.4 787.1,150.3 787.2,154.6 787.4,163.2 787.5,180.6 787.6,182.6 787.8,164.0 787.9,181.0 788.0,176.1 788.2,174.5 788.3,152.9 788.5,166.1 788.6,170.5 788.7,163.6 788.9,147.4 789.0,161.6 789.2,167.8 789.3,168.5 789.4,173.9 789.6,158.8 789.7,157.8 789.8,157.8 790.0,163.9 790.1,158.8 790.3,157.4 790.4,166.9 790.5,162.8 790.7,152.7 790.8,139.0 791.0,158.6 791.1,149.5 791.2,158.5 791.4,169.8 791.5,172.9 791.6,154.2 791.8,148.9 791.9,145.9 792.1,149.6 792.2,176.1 792.3,145.7 792.5,160.9 792.6,154.5 792.8,157.9 792.9,148.5 793.0,159.5 793.2,154.9 793.3,149.8 793.4,146.3 793.6,131.8 793.7,162.6 793.9,147.5 794.0,159.6 794.1,152.5 794.3,153.3 794.4,151.2 794.6,146.7 794.7,147.1 794.8,157.8 795.0,159.6 795.1,152.8 795.3,154.4 795.4,143.2 795.5,151.7 795.7,129.9 795.8,143.4 795.9,152.7 796.1,155.1 796.2,155.0 796.4,156.7 796.5,149.3 796.6,159.8 796.8,130.8 796.9,155.9 797.1,144.5 797.2,149.4 797.3,146.1 797.5,140.7 797.6,141.6 797.7,148.3 797.9,138.0 798.0,145.7 798.2,144.1 798.3,146.2 798.4,129.1 798.6,145.1 798.7,139.7 798.9,162.1 799.0,128.6 799.1,150.0 799.3,143.1 799.4,130.6 799.5,146.3 799.7,136.7 799.8,127.3 800.0,134.8 800.1,143.0 800.2,157.1 800.4,139.7 800.5,144.9 800.7,131.1 800.8,126.1 800.9,128.5 801.1,144.9 801.2,153.7 801.3,142.9 801.5,133.9 801.6,126.2 801.8,143.7 801.9,151.6 802.0,137.0 802.2,142.7 802.3,132.5 802.5,136.1 802.6,151.6 802.7,144.7 802.9,130.7 803.0,142.9 803.2,147.5 803.3,114.8 803.4,132.3 803.6,138.9 803.7,132.6 803.8,145.3 804.0,127.1 804.1,140.3 804.3,130.8 804.4,119.4 804.5,118.5 804.7,140.6 804.8,144.2 805.0,121.2 805.1,136.6 805.2,138.1 805.4,145.2 805.5,142.5 805.6,132.9 805.8,123.5 805.9,145.6 806.1,132.9 806.2,130.0 806.3,142.5 806.5,126.3 806.6,131.3 806.8,122.5 806.9,134.7 807.0,136.0 807.2,132.6 807.3,128.4 807.4,130.0 807.6,128.3 807.7,109.1 807.9,124.5 808.0,112.8 808.1,119.6 808.3,136.6 808.4,106.0 808.6,120.9 808.7,120.4 808.8,125.8 809.0,130.5 809.1,120.0 809.2,140.1 809.4,130.4 809.5,109.8 809.7,119.8 809.8,127.5 809.9,100.7 810.1,107.4 810.2,121.8 810.4,128.1 810.5,120.0 810.6,118.5 810.8,125.8 810.9,107.0 811.1,120.9 811.2,123.5 811.3,120.7 811.5,122.4 811.6,129.5 811.7,122.3 811.9,99.1 812.0,114.8 812.2,121.0 812.3,122.2 812.4,92.7 812.6,124.1 812.7,121.2 812.9,125.0 813.0,131.5 813.1,117.8 813.3,111.1 813.4,123.6 813.5,119.1 813.7,113.7 813.8,121.0 814.0,115.2 814.1,109.2 814.2,123.2 814.4,99.6 814.5,112.6 814.7,125.9 814.8,94.0 814.9,103.7 815.1,115.3 815.2,125.1 815.3,117.5 815.5,113.2 815.6,103.7 815.8,128.4 815.9,105.8 816.0,97.8 816.2,119.5 816.3,124.3 816.5,114.4 816.6,107.1 816.7,107.7 816.9,118.4 817.0,106.8 817.1,124.4 817.3,105.1 817.4,110.5 817.6,120.7 817.7,105.9 817.8,121.7 818.0,106.3 818.1,108.9 818.3,99.3 818.4,120.5 818.5,122.3 818.7,105.9 818.8,117.0 819.0,105.8 819.1,125.3 819.2,109.6 819.4,124.9 819.5,93.3 819.6,126.9 819.8,114.9 819.9,98.0 820.1,119.1 820.2,108.9 820.3,120.9 820.5,109.2 820.6,97.6 820.8,94.7 820.9,103.0 821.0,109.8 821.2,118.1 821.3,105.2 821.4,118.2 821.6,89.6 821.7,109.6 821.9,110.8 822.0,107.4 822.1,109.1 822.3,117.3 822.4,101.3 822.6,126.7 822.7,118.7 822.8,98.3 823.0,100.7 823.1,99.5 823.2,97.1 823.4,97.2 823.5,118.2 823.7,104.1 823.8,117.3 823.9,102.8 824.1,102.0 824.2,93.1 824.4,106.0 824.5,118.0 824.6,106.6 824.8,109.9 824.9,101.3 825.0,110.0 825.2,102.1 825.3,114.0 825.5,100.6 825.6,96.6 825.7,101.8 825.9,103.9 826.0,105.4 826.2,105.2 826.3,97.4 826.4,106.1 826.6,106.2 826.7,95.0 826.9,99.0 827.0,110.2 827.1,121.0 827.3,85.5 827.4,105.8 827.5,117.5 827.7,89.1 827.8,97.0 828.0,98.6 828.1,85.2 828.2,92.9 828.4,97.4 828.5,84.2 828.7,101.6 828.8,87.7 828.9,101.4 829.1,106.6 829.2,121.5 829.3,109.3 829.5,90.1 829.6,102.6 829.8,105.9 829.9,116.3 830.0,114.8 830.2,123.4 830.3,93.9 830.5,98.4 830.6,103.4 830.7,91.6 830.9,102.5 831.0,100.4 831.1,107.4 831.3,105.3 831.4,95.0 831.6,100.3 831.7,88.7 831.8,106.8 832.0,115.6 832.1,102.3 832.3,103.5 832.4,78.5 832.5,99.2 832.7,105.5 832.8,98.2 832.9,85.6 833.1,101.3 833.2,99.2 833.4,98.1 833.5,92.9 833.6,93.1 833.8,96.7 833.9,104.5 834.1,80.4 834.2,85.9 834.3,94.3 834.5,101.4 834.6,96.2 834.8,108.7 834.9,112.9 835.0,81.0 835.2,101.0 835.3,94.6 835.4,99.0 835.6,99.6 835.7,99.7 835.9,107.0 836.0,105.5 836.1,92.1 836.3,97.0 836.4,84.6 836.6,92.7 836.7,76.2 836.8,94.9 837.0,104.4 837.1,92.3 837.2,89.7 837.4,84.5 837.5,84.9 837.7,91.6 837.8,91.8 837.9,83.2 838.1,85.9 838.2,104.6 838.4,85.4 838.5,97.7 838.6,88.5 838.8,107.3 838.9,100.9 839.0,89.5 839.2,91.8 839.3,115.5 839.5,82.9 839.6,78.2 839.7,93.1 839.9,108.8 840.0,85.4 840.2,100.1 840.3,85.0 840.4,80.0 840.6,97.5 840.7,85.6 840.8,94.3 841.0,87.0 841.1,102.2 841.3,103.0 841.4,88.6 841.5,90.2 841.7,100.7 841.8,82.3 842.0,100.5 842.1,97.8 842.2,81.1 842.4,105.0 842.5,80.6 842.7,81.2 842.8,92.7 842.9,102.3 843.1,86.2 843.2,94.0 843.3,86.8 843.5,100.7 843.6,87.7 843.8,83.2 843.9,89.2 844.0,85.2 844.2,99.3 844.3,94.5 844.5,97.1 844.6,89.9 844.7,83.6 844.9,88.0 845.0,97.9 845.1,101.5 845.3,83.5 845.4,106.0 845.6,102.0 845.7,99.3 845.8,105.2 846.0,92.2 846.1,92.3 846.3,88.5 846.4,102.0 846.5,83.3 846.7,90.5 846.8,95.8 846.9,78.7 847.1,76.1 847.2,97.1 847.4,93.3 847.5,90.0 847.6,81.5 847.8,100.2 847.9,97.9 848.1,95.0 848.2,85.1 848.3,102.9 848.5,95.9 848.6,73.8 848.8,88.3 848.9,101.6 849.0,70.9 849.2,92.2 849.3,84.9 849.4,101.0 849.6,97.9 849.7,89.0 849.9,82.5 850.0,95.0 850.1,81.9 850.3,98.3 850.4,101.1 850.6,100.7 850.7,80.3 850.8,97.2 851.0,87.7 851.1,105.9 851.2,100.9 851.4,93.6 851.5,86.6 851.7,92.7 851.8,91.9 851.9,98.7 852.1,84.1 852.2,100.5 852.4,79.5 852.5,93.8 852.6,85.1 852.8,94.5 852.9,86.5 853.0,95.6 853.2,93.8 853.3,109.1 853.5,90.7 853.6,80.2 853.7,94.5 853.9,99.6 854.0,96.8 854.2,81.7 854.3,100.8 854.4,101.4 854.6,105.2 854.7,109.4 854.8,88.6 855.0,89.0 855.1,79.9 855.3,101.3 855.4,95.1 855.5,97.7 855.7,78.9 855.8,91.7 856.0,90.0 856.1,99.4 856.2,93.9 856.4,96.6 856.5,105.1 856.7,90.5 856.8,117.0 856.9,95.0 857.1,89.3 857.2,90.1 857.3,99.3 857.5,94.1 857.6,91.3 857.8,101.9 857.9,107.1 858.0,97.6 858.2,95.2 858.3,89.0 858.5,106.1 858.6,98.0 858.7,97.5 858.9,106.2 859.0,100.2 859.1,87.7 859.3,84.0 859.4,108.0 859.6,88.6 859.7,95.9 859.8,102.3 860.0,93.7 860.1,88.7 860.3,84.0 860.4,93.3 860.5,86.6 860.7,86.9 860.8,85.4 860.9,93.9 861.1,108.2 861.2,91.3 861.4,81.3 861.5,86.1 861.6,104.2 861.8,103.8 861.9,90.9 862.1,87.8 862.2,110.9 862.3,104.8 862.5,94.1 862.6,110.2 862.7,84.2 862.9,105.1 863.0,86.9 863.2,95.4 863.3,98.3 863.4,95.7 863.6,92.0 863.7,78.3 863.9,90.2 864.0,94.7 864.1,105.5 864.3,97.0 864.4,106.0 864.6,96.5 864.7,111.8 864.8,107.6 865.0,102.9 865.1,99.9 865.2,98.7 865.4,91.1 865.5,102.4 865.7,95.6 865.8,103.0 865.9,109.8 866.1,69.4 866.2,94.6 866.4,94.6 866.5,103.3 866.6,94.6 866.8,106.6 866.9,85.0 867.0,101.9 867.2,111.6 867.3,87.8 867.5,75.3 867.6,92.9 867.7,91.7 867.9,91.8 868.0,113.3 868.2,104.3 868.3,108.7 868.4,90.1 868.6,89.1 868.7,102.9 868.8,89.9 869.0,100.4 869.1,115.5 869.3,85.8 869.4,104.2 869.5,114.8 869.7,88.5 869.8,113.1 870.0,95.2 870.1,107.4 870.2,87.5 870.4,91.3 870.5,101.3 870.6,95.9 870.8,101.6 870.9,93.5 871.1,115.6 871.2,96.4 871.3,94.5 871.5,90.8 871.6,107.6 871.8,103.7 871.9,111.6 872.0,97.6 872.2,88.0 872.3,110.9 872.5,119.2 872.6,104.2 872.7,107.0 872.9,94.4 873.0,102.3 873.1,109.3 873.3,94.7 873.4,92.3 873.6,99.4 873.7,119.3 873.8,93.9 874.0,109.3 874.1,117.6 874.3,105.3 874.4,106.5 874.5,123.6 874.7,94.2 874.8,108.5 874.9,101.9 875.1,107.5 875.2,114.5 875.4,105.8 875.5,103.1 875.6,107.0 875.8,94.7 875.9,106.9 876.1,118.8 876.2,117.7 876.3,94.7 876.5,96.8 876.6,118.1 876.7,109.1 876.9,108.4 877.0,110.5 877.2,103.1 877.3,110.7 877.4,122.1 877.6,101.5 877.7,98.9 877.9,93.6 878.0,109.2 878.1,106.8 878.3,110.1 878.4,115.1 878.5,105.5 878.7,97.7 878.8,113.0 879.0,94.7 879.1,96.3 879.2,111.4 879.4,113.8 879.5,114.1 879.7,124.2 879.8,118.6 879.9,119.9 880.1,119.1 880.2,109.1 880.4,118.5 880.5,108.2 880.6,104.5 880.8,105.9 880.9,124.5 881.0,112.0 881.2,108.6 881.3,113.4 881.5,123.8 881.6,106.0 881.7,104.4 881.9,119.3 882.0,126.7 882.2,127.7 882.3,105.7 882.4,102.3 882.6,126.2 882.7,105.5 882.8,138.4 883.0,109.3 883.1,117.1 883.3,113.3 883.4,122.0 883.5,126.5 883.7,107.7 883.8,110.9 884.0,103.5 884.1,120.6 884.2,108.0 884.4,117.5 884.5,118.3 884.6,116.6 884.8,118.4 884.9,126.7 885.1,121.7 885.2,128.1 885.3,107.0 885.5,123.4 885.6,113.5 885.8,126.3 885.9,109.5 886.0,107.2 886.2,112.2 886.3,122.0 886.4,112.5 886.6,121.9 886.7,121.4 886.9,133.9 887.0,121.6 887.1,133.6 887.3,121.0 887.4,116.6 887.6,109.4 887.7,115.9 887.8,128.8 888.0,118.5 888.1,111.8 888.3,123.4 888.4,121.7 888.5,131.2 888.7,121.8 888.8,123.2 888.9,121.6 889.1,131.8 889.2,124.2 889.4,125.4 889.5,133.5 889.6,121.3 889.8,136.5 889.9,130.6 890.1,122.7 890.2,107.0 890.3,126.4 890.5,132.0 890.6,117.0 890.7,127.7 890.9,114.8 891.0,120.1 891.2,124.6 891.3,113.7 891.4,121.0 891.6,141.3 891.7,124.9 891.9,122.6 892.0,132.9 892.1,132.6 892.3,125.3 892.4,128.1 892.5,124.8 892.7,130.0 892.8,115.7 893.0,148.8 893.1,140.2 893.2,136.8 893.4,141.1 893.5,132.0 893.7,149.2 893.8,130.1 893.9,124.9 894.1,115.8 894.2,137.2 894.3,137.1 894.5,135.4 894.6,117.4 894.8,144.0 894.9,132.9 895.0,133.1 895.2,151.9 895.3,133.6 895.5,132.0 895.6,119.8 895.7,139.7 895.9,129.9 896.0,123.2 896.2,142.5 896.3,128.3 896.4,140.8 896.6,134.4 896.7,137.7 896.8,132.5 897.0,115.6 897.1,147.5 897.3,152.3 897.4,133.9 897.5,123.8 897.7,129.7 897.8,142.1 898.0,151.9 898.1,121.1 898.2,135.4 898.4,141.4 898.5,139.3 898.6,142.6 898.8,136.7 898.9,128.5 899.1,144.0 899.2,132.9 899.3,140.2 899.5,129.1 899.6,136.5 899.8,137.8 899.9,152.6 900.0,136.3 900.2,148.9 900.3,137.1 900.4,146.7 900.6,148.6 900.7,143.4 900.9,140.2 901.0,150.3 901.1,145.9 901.3,138.5 901.4,144.3 901.6,129.0 901.7,138.6 901.8,143.0 902.0,157.8 902.1,146.6 902.2,141.6 902.4,139.7 902.5,162.2 902.7,155.7 902.8,147.8 902.9,148.2 903.1,140.5 903.2,152.7 903.4,153.0 903.5,150.4 903.6,146.8 903.8,148.4 903.9,160.2 904.1,152.9 904.2,137.0 904.3,154.7 904.5,145.4 904.6,143.5 904.7,151.3 904.9,150.5 905.0,148.2 905.2,162.9 905.3,163.8 905.4,143.9 905.6,168.4 905.7,157.9 905.9,162.0 906.0,167.7 906.1,158.7 906.3,149.9 906.4,150.2 906.5,149.7 906.7,163.5 906.8,157.6 907.0,164.1 907.1,168.1 907.2,156.8 907.4,151.8 907.5,157.2 907.7,165.3 907.8,171.8 907.9,156.9 908.1,160.7 908.2,164.6 908.3,171.3 908.5,162.5 908.6,149.5 908.8,158.2 908.9,152.4 909.0,181.1 909.2,192.2 909.3,177.3 909.5,167.0 909.6,172.9 909.7,161.0 909.9,169.0 910.0,158.7 910.1,168.1 910.3,187.8 910.4,168.6 910.6,159.4 910.7,169.3 910.8,166.5 911.0,168.3 911.1,165.7 911.3,187.3 911.4,175.1 911.5,155.7 911.7,165.1 911.8,186.8 912.0,185.3 912.1,160.7 912.2,171.7 912.4,168.6 912.5,169.9 912.6,175.0 912.8,183.9 912.9,174.3 913.1,174.4 913.2,187.3 913.3,181.6 913.5,176.1 913.6,164.3 913.8,165.1 913.9,176.3 914.0,182.3 914.2,175.9 914.3,179.9 914.4,167.0 914.6,188.6 914.7,185.4 914.9,180.6 915.0,193.7 915.1,183.1 915.3,181.2 915.4,175.6 915.6,184.5 915.7,185.0 915.8,191.0 916.0,167.4 916.1,187.9 916.2,192.1 916.4,187.8 916.5,194.4 916.7,180.1 916.8,186.2 916.9,189.6 917.1,189.7 917.2,190.7 917.4,176.8 917.5,195.3 917.6,184.9 917.8,199.1 917.9,177.5 918.1,182.6 918.2,194.3 918.3,195.2 918.5,191.0 918.6,193.6 918.7,197.5 918.9,169.8 919.0,196.7 919.2,173.5 919.3,197.5 919.4,190.3 919.6,187.7 919.7,192.1 919.9,201.1 920.0,209.2 920.1,192.5 920.3,198.5 920.4,192.4 920.5,213.4 920.7,174.3 920.8,182.6 921.0,192.5 921.1,217.3 921.2,202.7 921.4,222.3 921.5,212.4 921.7,195.8 921.8,203.1 921.9,180.5 922.1,206.7 922.2,196.8 922.3,215.1 922.5,205.6 922.6,213.9 922.8,209.9 922.9,192.1 923.0,215.7 923.2,209.2 923.3,202.8 923.5,211.7 923.6,209.3 923.7,181.0 923.9,208.6 924.0,197.2 924.1,218.0 924.3,195.4 924.4,208.9 924.6,208.1 924.7,218.8 924.8,206.3 925.0,185.0 925.1,212.7 925.3,201.1 925.4,202.7 925.5,224.8 925.7,204.2 925.8,211.6 926.0,218.2 926.1,221.0 926.2,204.0 926.4,224.0 926.5,204.8 926.6,197.0 926.8,220.0 926.9,225.6 927.1,201.2 927.2,218.2 927.3,225.9 927.5,208.4 927.6,228.1 927.8,217.1 927.9,231.0 928.0,228.2 928.2,229.6 928.3,228.6 928.4,231.9 928.6,222.1 928.7,213.2 928.9,198.6" stroke="#808080" stroke-width="1.4"/>
<polyline points="97.4,86.2 97.5,145.4 97.7,111.1 97.8,79.5 98.0,135.9 98.1,131.8 98.2,167.3 98.4,108.9 98.5,164.9 98.6,100.8 98.8,38.0 98.9,157.2 99.1,186.5 99.2,131.8 99.3,62.4 99.5,126.4 99.6,117.3 99.8,129.5 99.9,65.1 100.0,118.4 100.2,92.1 100.3,102.8 100.4,101.1 100.6,82.1 100.7,97.7 100.9,109.0 101.0,115.5 101.1,82.7 101.3,127.1 101.4,91.3 101.6,91.2 101.7,81.8 101.8,67.5 102.0,171.0 102.1,138.3 102.3,72.0 102.4,116.2 102.5,134.4 102.7,76.9 102.8,140.3 102.9,159.0 103.1,69.4 103.2,156.7 103.4,73.4 103.5,173.7 103.6,84.1 103.8,109.0 103.9,128.8 104.1,134.9 104.2,122.4 104.3,85.1 104.5,94.5 104.6,94.0 104.7,144.2 104.9,110.5 105.0,128.2 105.2,127.8 105.3,88.9 105.4,146.7 105.6,110.9 105.7,160.0 105.9,131.1 106.0,136.2 106.1,158.6 106.3,102.1 106.4,135.2 106.5,127.9 106.7,97.7 106.8,69.0 107.0,149.0 107.1,129.7 107.2,145.6 107.4,152.4 107.5,81.1 107.7,158.5 107.8,150.1 107.9,130.2 108.1,111.8 108.2,88.0 108.3,146.5 108.5,70.8 108.6,136.0 108.8,169.6 108.9,85.9 109.0,124.6 109.2,156.2 109.3,94.4 109.5,146.3 109.6,125.8 109.7,150.1 109.9,113.2 110.0,80.1 110.2,97.6 110.3,143.3 110.4,133.8 110.6,150.1 110.7,153.4 110.8,111.2 111.0,161.7 111.1,164.6 111.3,107.7 111.4,103.0 111.5,151.4 111.7,158.8 111.8,129.2 112.0,133.3 112.1,156.6 112.2,181.2 112.4,135.3 112.5,170.7 112.6,162.9 112.8,168.9 112.9,134.2 113.1,104.9 113.2,112.4 113.3,160.3 113.5,128.4 113.6,154.1 113.8,145.3 113.9,113.6 114.0,90.8 114.2,176.4 114.3,151.6 114.4,122.9 114.6,145.3 114.7,102.4 114.9,160.4 115.0,168.9 115.1,81.8 115.3,174.2 115.4,159.5 115.6,142.9 115.7,119.0 115.8,114.4 116.0,129.1 116.1,111.3 116.2,163.4 116.4,166.3 116.5,183.5 116.7,121.1 116.8,184.3 116.9,121.6 117.1,151.5 117.2,163.0 117.4,136.1 117.5,126.3 117.6,178.4 117.8,115.0 117.9,179.3 118.1,125.5 118.2,111.5 118.3,164.7 118.5,168.4 118.6,114.0 118.7,139.3 118.9,169.8 119.0,113.1 119.2,113.9 119.3,144.6 119.4,146.9 119.6,114.7 119.7,151.8 119.9,190.7 120.0,150.8 120.1,181.2 120.3,119.5 120.4,187.3 120.5,88.2 120.7,124.4 120.8,192.2 121.0,151.6 121.1,133.4 121.2,131.0 121.4,128.2 121.5,113.8 121.7,134.9 121.8,139.2 121.9,185.6 122.1,144.3 122.2,103.8 122.3,109.4 122.5,139.0 122.6,131.5 122.8,180.6 122.9,112.4 123.0,142.1 123.2,200.3 123.3,125.1 123.5,166.9 123.6,127.1 123.7,146.6 123.9,135.5 124.0,118.4 124.1,130.1 124.3,139.8 124.4,112.0 124.6,154.2 124.7,181.8 124.8,165.3 125.0,180.2 125.1,150.4 125.3,130.1 125.4,180.3 125.5,164.6 125.7,120.6 125.8,185.3 126.0,137.5 126.1,113.4 126.2,146.2 126.4,151.4 126.5,196.4 126.6,153.9 126.8,143.8 126.9,171.4 127.1,206.4 127.2,156.6 127.3,152.2 127.5,144.6 127.6,153.1 127.8,150.4 127.9,196.8 128.0,166.7 128.2,194.6 128.3,160.2 128.4,187.0 128.6,124.8 128.7,204.7 128.9,169.0 129.0,133.1 129.1,181.8 129.3,198.9 129.4,189.0 129.6,179.3 129.7,171.8 129.8,151.0 130.0,144.4 130.1,137.0 130.2,129.3 130.4,155.0 130.5,155.4 130.7,176.1 130.8,180.1 130.9,162.9 131.1,136.2 131.2,178.8 131.4,173.4 131.5,160.1 131.6,190.2 131.8,136.9 131.9,165.6 132.0,130.9 132.2,212.2 132.3,187.9 132.5,206.1 132.6,137.7 132.7,169.4 132.9,199.8 133.0,171.6 133.2,146.6 133.3,141.9 133.4,165.9 133.6,180.8 133.7,168.0 133.9,152.2 134.0,208.9 134.1,124.8 134.3,168.9 134.4,192.7 134.5,148.0 134.7,164.9 134.8,168.8 135.0,174.0 135.1,173.4 135.2,190.1 135.4,185.7 135.5,199.3 135.7,204.2 135.8,173.3 135.9,143.6 136.1,200.3 136.2,154.5 136.3,170.9 136.5,165.5 136.6,176.6 136.8,133.5 136.9,176.7 137.0,177.5 137.2,197.6 137.3,178.3 137.5,174.2 137.6,175.3 137.7,157.0 137.9,171.5 138.0,134.2 138.1,156.8 138.3,160.6 138.4,179.0 138.6,144.0 138.7,155.1 138.8,224.8 139.0,157.4 139.1,157.4 139.3,154.8 139.4,171.7 139.5,136.4 139.7,205.6 139.8,198.0 140.0,180.2 140.1,207.4 140.2,211.7 140.4,167.7 140.5,185.6 140.6,156.1 140.8,141.6 140.9,192.4 141.1,198.5 141.2,188.5 141.3,164.9 141.5,178.3 141.6,162.5 141.8,199.6 141.9,145.4 142.0,185.8 142.2,190.1 142.3,216.6 142.4,173.6 142.6,182.3 142.7,187.7 142.9,164.3 143.0,174.2 143.1,150.6 143.3,195.9 143.4,160.1 143.6,155.0 143.7,182.9 143.8,190.6 144.0,144.6 144.1,205.9 144.2,196.2 144.4,227.3 144.5,190.5 144.7,149.4 144.8,172.3 144.9,189.0 145.1,207.7 145.2,208.6 145.4,196.1 145.5,188.8 145.6,188.0 145.8,173.2 145.9,228.5 146.0,219.8 146.2,173.4 146.3,169.4 146.5,184.5 146.6,225.7 146.7,194.1 146.9,181.6 147.0,198.4 147.2,248.4 147.3,183.4 147.4,230.0 147.6,195.5 147.7,219.9 147.9,164.9 148.0,182.0 148.1,165.4 148.3,203.5 148.4,193.5 148.5,189.5 148.7,205.9 148.8,173.2 149.0,194.9 149.1,202.9 149.2,155.1 149.4,190.3 149.5,183.2 149.7,214.2 149.8,163.7 149.9,177.5 150.1,194.2 150.2,183.5 150.3,219.2 150.5,203.5 150.6,219.2 150.8,222.5 150.9,205.3 151.0,176.0 151.2,198.7 151.3,174.4 151.5,188.3 151.6,221.7 151.7,196.1 151.9,174.6 152.0,240.2 152.1,223.1 152.3,219.4 152.4,198.4 152.6,208.6 152.7,234.9 152.8,178.6 153.0,178.3 153.1,180.7 153.3,198.6 153.4,224.4 153.5,205.2 153.7,192.6 153.8,213.7 153.9,203.2 154.1,181.8 154.2,187.0 154.4,216.1 154.5,225.2 154.6,218.8 154.8,214.1 154.9,220.6 155.1,208.3 155.2,201.2 155.3,206.5 155.5,226.4 155.6,169.0 155.8,173.4 155.9,186.2 156.0,201.0 156.2,191.2 156.3,213.6 156.4,164.9 156.6,206.9 156.7,204.1 156.9,210.8 157.0,224.9 157.1,166.2 157.3,216.2 157.4,182.1 157.6,197.5 157.7,227.1 157.8,212.9 158.0,177.4 158.1,175.4 158.2,195.7 158.4,195.4 158.5,194.2 158.7,211.3 158.8,241.4 158.9,182.1 159.1,222.3 159.2,169.5 159.4,219.9 159.5,217.6 159.6,230.9 159.8,201.5 159.9,181.8 160.0,238.4 160.2,171.3 160.3,218.9 160.5,215.1 160.6,191.2 160.7,244.0 160.9,173.9 161.0,240.7 161.2,192.8 161.3,203.9 161.4,223.0 161.6,196.4 161.7,179.5 161.8,219.2 162.0,211.5 162.1,209.0 162.3,175.4 162.4,233.7 162.5,210.8 162.7,216.2 162.8,224.2 163.0,178.3 163.1,183.9 163.2,217.5 163.4,227.9 163.5,183.9 163.7,252.9 163.8,235.5 163.9,232.5 164.1,232.1 164.2,201.4 164.3,197.1 164.5,222.1 164.6,204.3 164.8,224.0 164.9,198.8 165.0,185.6 165.2,242.1 165.3,224.7 165.5,229.6 165.6,244.4 165.7,191.8 165.9,203.1 166.0,213.8 166.1,212.0 166.3,237.4 166.4,190.5 166.6,216.4 166.7,259.4 166.8,248.7 167.0,207.6 167.1,246.0 167.3,199.5 167.4,235.6 167.5,206.1 167.7,200.2 167.8,197.7 167.9,244.3 168.1,197.9 168.2,258.5 168.4,222.6 168.5,244.4 168.6,226.2 168.8,247.1 168.9,210.7 169.1,237.9 169.2,222.1 169.3,233.7 169.5,275.3 169.6,199.0 169.7,236.6 169.9,221.1 170.0,229.7 170.2,215.4 170.3,232.4 170.4,248.2 170.6,187.6 170.7,195.0 170.9,251.2 171.0,240.4 171.1,208.0 171.3,239.7 171.4,188.7 171.6,246.1 171.7,223.8 171.8,255.0 172.0,241.0 172.1,250.4 172.2,247.6 172.4,212.4 172.5,211.8 172.7,224.0 172.8,214.5 172.9,267.9 173.1,243.2 173.2,235.3 173.4,251.6 173.5,227.4 173.6,261.9 173.8,234.4 173.9,225.2 174.0,251.2 174.2,193.5 174.3,207.7 174.5,220.3 174.6,223.9 174.7,256.2 174.9,263.3 175.0,227.8 175.2,238.3 175.3,237.8 175.4,251.9 175.6,260.8 175.7,198.8 175.8,234.5 176.0,244.7 176.1,220.9 176.3,207.9 176.4,236.6 176.5,282.3 176.7,219.6 176.8,245.0 177.0,244.7 177.1,259.4 177.2,234.9 177.4,260.7 177.5,240.1 177.6,227.6 177.8,241.0 177.9,216.3 178.1,246.0 178.2,242.0 178.3,204.6 178.5,263.4 178.6,248.6 178.8,260.4 178.9,230.4 179.0,280.4 179.2,223.8 179.3,203.9 179.5,230.8 179.6,211.6 179.7,217.2 179.9,255.8 180.0,219.1 180.1,220.0 180.3,235.7 180.4,210.1 180.6,266.7 180.7,206.4 180.8,264.2 181.0,252.8 181.1,285.6 181.3,262.7 181.4,249.4 181.5,273.3 181.7,247.4 181.8,251.6 181.9,277.0 182.1,263.8 182.2,214.8 182.4,253.8 182.5,245.1 182.6,274.1 182.8,255.0 182.9,255.1 183.1,247.0 183.2,254.9 183.3,222.2 183.5,246.6 183.6,202.6 183.7,267.2 183.9,238.7 184.0,267.0 184.2,215.5 184.3,216.9 184.4,183.8 184.6,224.3 184.7,276.7 184.9,274.5 185.0,224.7 185.1,218.6 185.3,240.1 185.4,211.8 185.5,218.3 185.7,212.8 185.8,238.6 186.0,275.8 186.1,248.5 186.2,231.6 186.4,214.6 186.5,235.7 186.7,259.0 186.8,277.7 186.9,263.3 187.1,227.9 187.2,284.3 187.4,271.2 187.5,241.0 187.6,244.6 187.8,204.7 187.9,255.6 188.0,240.9 188.2,212.9 188.3,280.3 188.5,218.8 188.6,283.7 188.7,279.0 188.9,254.8 189.0,231.9 189.2,238.0 189.3,239.2 189.4,273.3 189.6,239.0 189.7,229.5 189.8,279.2 190.0,256.8 190.1,272.2 190.3,274.0 190.4,241.4 190.5,260.9 190.7,267.7 190.8,223.6 191.0,256.0 191.1,274.0 191.2,265.1 191.4,204.6 191.5,230.7 191.6,224.8 191.8,304.2 191.9,278.3 192.1,239.6 192.2,232.4 192.3,270.6 192.5,231.0 192.6,270.2 192.8,260.9 192.9,221.2 193.0,204.3 193.2,243.5 193.3,293.2 193.4,264.8 193.6,227.4 193.7,265.0 193.9,252.9 194.0,210.9 194.1,222.6 194.3,284.2 194.4,258.2 194.6,278.6 194.7,242.1 194.8,220.2 195.0,300.6 195.1,247.3 195.3,269.8 195.4,295.9 195.5,227.3 195.7,231.7 195.8,271.1 195.9,287.3 196.1,261.8 196.2,255.5 196.4,231.1 196.5,225.3 196.6,278.1 196.8,294.0 196.9,261.3 197.1,266.1 197.2,283.2 197.3,229.1 197.5,314.3 197.6,219.7 197.7,298.6 197.9,250.4 198.0,292.8 198.2,257.0 198.3,291.5 198.4,299.6 198.6,228.2 198.7,262.3 198.9,280.7 199.0,261.7 199.1,277.4 199.3,259.8 199.4,279.5 199.5,255.4 199.7,231.9 199.8,245.8 200.0,258.0 200.1,268.0 200.2,300.7 200.4,283.6 200.5,256.2 200.7,224.5 200.8,267.7 200.9,281.4 201.1,300.3 201.2,306.2 201.3,297.2 201.5,240.9 201.6,260.7 201.8,261.8 201.9,276.9 202.0,304.8 202.2,238.6 202.3,279.9 202.5,292.4 202.6,256.0 202.7,284.6 202.9,302.2 203.0,300.5 203.2,231.1 203.3,298.9 203.4,274.3 203.6,236.7 203.7,225.9 203.8,305.0 204.0,300.2 204.1,300.7 204.3,259.5 204.4,303.1 204.5,249.5 204.7,290.0 204.8,255.0 205.0,321.1 205.1,265.8 205.2,286.2 205.4,286.8 205.5,280.9 205.6,295.8 205.8,263.6 205.9,277.5 206.1,244.0 206.2,254.3 206.3,271.0 206.5,300.6 206.6,267.6 206.8,259.2 206.9,302.3 207.0,318.4 207.2,271.7 207.3,292.4 207.4,257.0 207.6,255.4 207.7,284.2 207.9,262.2 208.0,302.2 208.1,290.4 208.3,309.2 208.4,315.2 208.6,254.3 208.7,268.6 208.8,305.6 209.0,315.9 209.1,291.4 209.3,280.0 209.4,273.1 209.5,308.9 209.7,269.6 209.8,278.2 209.9,304.4 210.1,284.2 210.2,248.0 210.4,287.6 210.5,280.0 210.6,275.5 210.8,272.2 210.9,281.1 211.1,301.7 211.2,265.1 211.3,295.9 211.5,331.3 211.6,321.4 211.7,274.5 211.9,319.9 212.0,275.2 212.2,279.4 212.3,274.4 212.4,298.3 212.6,278.0 212.7,329.5 212.9,294.7 213.0,315.9 213.1,286.8 213.3,311.0 213.4,318.5 213.5,310.2 213.7,282.3 213.8,281.3 214.0,274.6 214.1,323.0 214.2,305.2 214.4,249.9 214.5,306.0 214.7,297.7 214.8,240.7 214.9,310.3 215.1,293.4 215.2,341.9 215.3,309.5 215.5,297.3 215.6,259.1 215.8,306.8 215.9,266.5 216.0,293.7 216.2,306.3 216.3,283.3 216.5,309.4 216.6,273.2 216.7,279.8 216.9,300.3 217.0,282.7 217.2,292.7 217.3,286.5 217.4,288.4 217.6,311.8 217.7,333.8 217.8,305.6 218.0,307.7 218.1,271.5 218.3,275.5 218.4,313.8 218.5,274.0 218.7,265.3 218.8,267.6 219.0,301.5 219.1,280.1 219.2,298.1 219.4,272.9 219.5,302.1 219.6,304.2 219.8,330.1 219.9,284.9 220.1,317.0 220.2,332.4 220.3,275.0 220.5,313.1 220.6,338.8 220.8,282.5 220.9,326.5 221.0,289.4 221.2,301.1 221.3,304.6 221.4,306.1 221.6,278.4 221.7,278.0 221.9,259.2 222.0,289.2 222.1,333.8 222.3,307.2 222.4,289.2 222.6,294.2 222.7,303.6 222.8,320.6 223.0,307.8 223.1,280.8 223.2,281.2 223.4,284.2 223.5,280.4 223.7,263.5 223.8,283.3 223.9,308.0 224.1,316.0 224.2,319.3 224.4,291.8 224.5,325.0 224.6,357.3 224.8,341.3 224.9,326.7 225.1,314.3 225.2,327.4 225.3,317.8 225.5,312.9 225.6,332.8 225.7,340.2 225.9,318.4 226.0,267.7 226.2,309.0 226.3,345.8 226.4,315.9 226.6,335.0 226.7,306.0 226.9,325.1 227.0,283.8 227.1,304.7 227.3,315.7 227.4,319.5 227.5,306.7 227.7,347.6 227.8,292.1 228.0,309.6 228.1,264.9 228.2,268.1 228.4,283.9 228.5,309.3 228.7,323.9 228.8,312.6 228.9,334.6 229.1,327.3 229.2,276.3 229.3,345.7 229.5,327.5 229.6,272.8 229.8,344.6 229.9,337.9 230.0,281.9 230.2,274.5 230.3,274.4 230.5,283.4 230.6,314.9 230.7,339.9 230.9,344.1 231.0,352.1 231.1,329.8 231.3,257.4 231.4,325.5 231.6,302.5 231.7,333.3 231.8,326.7 232.0,313.2 232.1,304.8 232.3,311.1 232.4,339.8 232.5,326.5 232.7,303.3 232.8,355.6 233.0,348.0 233.1,294.8 233.2,294.1 233.4,321.6 233.5,331.6 233.6,339.7 233.8,286.7 233.9,287.6 234.1,317.8 234.2,333.5 234.3,340.7 234.5,300.2 234.6,351.3 234.8,295.7 234.9,344.2 235.0,295.3 235.2,298.6 235.3,355.5 235.4,342.5 235.6,303.0 235.7,346.6 235.9,340.2 236.0,326.3 236.1,330.2 236.3,303.6 236.4,284.6 236.6,325.4 236.7,356.6 236.8,296.1 237.0,326.3 237.1,346.9 237.2,343.4 237.4,310.6 237.5,307.7 237.7,361.9 237.8,347.2 237.9,317.9 238.1,323.9 238.2,300.2 238.4,338.1 238.5,358.4 238.6,308.3 238.8,343.0 238.9,344.6 239.0,349.7 239.2,354.6 239.3,325.6 239.5,324.4 239.6,342.7 239.7,323.3 239.9,330.2 240.0,312.0 240.2,347.8 240.3,315.2 240.4,309.8 240.6,354.5 240.7,351.7 240.9,306.8 241.0,305.2 241.1,358.9 241.3,324.7 241.4,366.6 241.5,345.3 241.7,324.1 241.8,340.9 242.0,360.5 242.1,359.7 242.2,352.3 242.4,315.6 242.5,329.0 242.7,359.4 242.8,346.0 242.9,314.2 243.1,358.2 243.2,322.9 243.3,287.6 243.5,301.5 243.6,302.4 243.8,346.8 243.9,353.6 244.0,302.5 244.2,327.0 244.3,364.9 244.5,334.1 244.6,317.6 244.7,358.1 244.9,340.3 245.0,317.5 245.1,297.9 245.3,352.7 245.4,303.1 245.6,363.3 245.7,366.7 245.8,358.3 246.0,305.3 246.1,348.0 246.3,307.5 246.4,316.4 246.5,365.6 246.7,325.5 246.8,315.0 246.9,367.4 247.1,328.8 247.2,333.9 247.4,326.4 247.5,377.0 247.6,335.9 247.8,371.8 247.9,326.5 248.1,314.1 248.2,391.7 248.3,331.7 248.5,308.5 248.6,292.3 248.8,336.8 248.9,346.1 249.0,357.0 249.2,335.9 249.3,363.3 249.4,341.7 249.6,334.3 249.7,328.4 249.9,376.6 250.0,301.0 250.1,345.9 250.3,363.9 250.4,366.7 250.6,334.9 250.7,383.8 250.8,332.7 251.0,347.8 251.1,303.3 251.2,367.2 251.4,295.0 251.5,374.6 251.7,367.9 251.8,377.6 251.9,348.2 252.1,335.8 252.2,366.8 252.4,331.0 252.5,359.0 252.6,360.4 252.8,365.5 252.9,318.8 253.0,298.6 253.2,317.8 253.3,367.4 253.5,350.8 253.6,337.8 253.7,384.0 253.9,372.0 254.0,369.1 254.2,383.4 254.3,365.3 254.4,345.6 254.6,373.3 254.7,332.2 254.8,393.7 255.0,350.7 255.1,353.5 255.3,393.4 255.4,343.8 255.5,387.2 255.7,393.4 255.8,342.2 256.0,351.2 256.1,328.5 256.2,317.2 256.4,375.1 256.5,358.0 256.7,321.5 256.8,361.0 256.9,374.8 257.1,350.6 257.2,354.4 257.3,359.8 257.5,362.0 257.6,352.4 257.8,371.3 257.9,358.5 258.0,386.4 258.2,344.2 258.3,330.6 258.5,339.0 258.6,357.0 258.7,358.5 258.9,391.6 259.0,338.8 259.1,338.1 259.3,335.3 259.4,327.3 259.6,344.9 259.7,383.9 259.8,324.7 260.0,343.9 260.1,340.8 260.3,342.2 260.4,376.2 260.5,339.2 260.7,345.3 260.8,347.6 260.9,333.1 261.1,403.1 261.2,339.6 261.4,370.2 261.5,368.1 261.6,389.1 261.8,344.1 261.9,348.2 262.1,352.6 262.2,355.8 262.3,395.2 262.5,381.8 262.6,335.1 262.7,367.8 262.9,346.5 263.0,325.2 263.2,348.4 263.3,335.6 263.4,381.4 263.6,350.3 263.7,382.9 263.9,374.1 264.0,349.0 264.1,383.8 264.3,360.2 264.4,346.0 264.6,343.8 264.7,361.0 264.8,340.3 265.0,356.4 265.1,375.7 265.2,382.8 265.4,371.6 265.5,321.7 265.7,334.0 265.8,352.2 265.9,333.0 266.1,328.4 266.2,374.8 266.4,384.2 266.5,365.1 266.6,331.3 266.8,356.0 266.9,326.4 267.0,352.1 267.2,360.8 267.3,356.2 267.5,357.0 267.6,362.2 267.7,384.5 267.9,362.8 268.0,389.8 268.2,353.2 268.3,377.1 268.4,353.1 268.6,356.4 268.7,381.8 268.8,365.1 269.0,360.0 269.1,323.0 269.3,356.4 269.4,339.8 269.5,340.5 269.7,358.2 269.8,370.5 270.0,320.7 270.1,392.1 270.2,341.7 270.4,321.1 270.5,345.4 270.6,322.6 270.8,349.9 270.9,378.0 271.1,332.6 271.2,339.5 271.3,342.7 271.5,330.6 271.6,344.9 271.8,344.0 271.9,331.9 272.0,331.8 272.2,374.7 272.3,391.0 272.5,349.0 272.6,387.6 272.7,371.2 272.9,331.3 273.0,351.8 273.1,340.2 273.3,384.1 273.4,336.6 273.6,378.7 273.7,342.1 273.8,367.0 274.0,373.0 274.1,375.1 274.3,318.1 274.4,319.4 274.5,391.0 274.7,312.8 274.8,401.2 274.9,369.7 275.1,343.0 275.2,352.1 275.4,312.1 275.5,338.1 275.6,369.6 275.8,314.7 275.9,312.6 276.1,355.4 276.2,354.0 276.3,315.7 276.5,329.5 276.6,339.1 276.7,339.5 276.9,299.6 277.0,372.8 277.2,325.0 277.3,328.7 277.4,385.5 277.6,326.0 277.7,372.4 277.9,309.8 278.0,300.9 278.1,322.8 278.3,311.1 278.4,357.2 278.6,332.2 278.7,355.9 278.8,352.5 279.0,333.4 279.1,376.4 279.2,364.8 279.4,354.6 279.5,369.9 279.7,378.9 279.8,351.2 279.9,347.2 280.1,324.5 280.2,332.6 280.4,300.9 280.5,367.8 280.6,313.3 280.8,353.7 280.9,380.6 281.0,361.3 281.2,379.6 281.3,331.3 281.5,328.1 281.6,347.4 281.7,358.5 281.9,327.6 282.0,314.3 282.2,300.8 282.3,354.3 282.4,347.7 282.6,330.9 282.7,365.4 282.8,325.6 283.0,356.9 283.1,355.6 283.3,361.7 283.4,296.2 283.5,327.5 283.7,325.4 283.8,373.5 284.0,355.4 284.1,345.0 284.2,348.3 284.4,354.2 284.5,335.8 284.6,313.3 284.8,371.4 284.9,324.3 285.1,376.5 285.2,354.0 285.3,348.3 285.5,358.5 285.6,358.7 285.8,295.8 285.9,323.6 286.0,319.3 286.2,347.0 286.3,342.0 286.5,308.0 286.6,328.6 286.7,352.9 286.9,366.8 287.0,321.9 287.1,323.4 287.3,330.6 287.4,331.1 287.6,291.5 287.7,340.4 287.8,320.8 288.0,347.8 288.1,349.1 288.3,332.2 288.4,304.9 288.5,352.7 288.7,375.9 288.8,340.8 288.9,323.1 289.1,337.9 289.2,324.4 289.4,310.8 289.5,353.3 289.6,342.0 289.8,370.5 289.9,339.9 290.1,310.8 290.2,313.4 290.3,295.3 290.5,304.0 290.6,304.5 290.7,309.6 290.9,347.4 291.0,362.4 291.2,310.1 291.3,307.4 291.4,318.1 291.6,369.0 291.7,374.5 291.9,352.4 292.0,298.9 292.1,327.5 292.3,310.5 292.4,300.6 292.5,343.1 292.7,303.9 292.8,307.7 293.0,301.6 293.1,325.7 293.2,307.4 293.4,282.1 293.5,307.6 293.7,295.5 293.8,309.7 293.9,298.7 294.1,361.2 294.2,313.4 294.4,340.6 294.5,322.4 294.6,321.4 294.8,306.7 294.9,317.1 295.0,348.9 295.2,313.6 295.3,353.3 295.5,288.0 295.6,346.0 295.7,304.4 295.9,310.3 296.0,310.3 296.2,335.5 296.3,288.5 296.4,359.5 296.6,331.1 296.7,347.2 296.8,323.3 297.0,308.0 297.1,282.7 297.3,295.3 297.4,361.3 297.5,318.2 297.7,287.3 297.8,305.0 298.0,308.0 298.1,355.1 298.2,298.6 298.4,324.1 298.5,275.2 298.6,322.5 298.8,286.3 298.9,321.6 299.1,320.6 299.2,309.1 299.3,316.3 299.5,267.5 299.6,326.2 299.8,322.3 299.9,303.2 300.0,322.4 300.2,282.6 300.3,339.0 300.4,311.6 300.6,341.5 300.7,314.3 300.9,297.0 301.0,352.7 301.1,284.3 301.3,275.8 301.4,316.1 301.6,294.3 301.7,299.9 301.8,255.1 302.0,313.5 302.1,347.2 302.3,283.3 302.4,330.5 302.5,292.8 302.7,320.2 302.8,307.7 302.9,298.0 303.1,309.0 303.2,277.3 303.4,312.0 303.5,285.5 303.6,338.2 303.8,311.9 303.9,301.3 304.1,346.2 304.2,297.3 304.3,313.4 304.5,275.8 304.6,283.2 304.7,280.8 304.9,308.7 305.0,321.6 305.2,280.2 305.3,333.5 305.4,329.8 305.6,332.2 305.7,320.6 305.9,339.8 306.0,306.0 306.1,311.6 306.3,327.8 306.4,313.5 306.5,266.8 306.7,281.2 306.8,294.0 307.0,320.0 307.1,285.9 307.2,314.8 307.4,287.2 307.5,281.2 307.7,306.0 307.8,284.3 307.9,340.8 308.1,325.5 308.2,274.0 308.3,268.5 308.5,271.9 308.6,257.4 308.8,252.4 308.9,285.8 309.0,298.7 309.2,337.8 309.3,324.7 309.5,341.9 309.6,283.0 309.7,333.0 309.9,263.4 310.0,280.9 310.2,307.8 310.3,295.8 310.4,260.3 310.6,335.8 310.7,266.6 310.8,298.2 311.0,332.4 311.1,318.1 311.3,284.8 311.4,278.5 311.5,269.9 311.7,296.3 311.8,297.7 312.0,282.4 312.1,278.4 312.2,308.4 312.4,292.9 312.5,265.4 312.6,298.5 312.8,297.1 312.9,317.5 313.1,294.0 313.2,303.9 313.3,341.2 313.5,292.6 313.6,284.8 313.8,249.3 313.9,280.5 314.0,298.2 314.2,288.0 314.3,286.0 314.4,306.8 314.6,301.5 314.7,260.0 314.9,290.3 315.0,320.8 315.1,289.9 315.3,283.2 315.4,292.4 315.6,262.5 315.7,313.9 315.8,283.7 316.0,267.8 316.1,247.5 316.2,271.7 316.4,281.8 316.5,266.0 316.7,266.5 316.8,262.7 316.9,306.1 317.1,245.6 317.2,282.3 317.4,280.1 317.5,297.9 317.6,266.8 317.8,313.9 317.9,305.8 318.1,307.3 318.2,272.8 318.3,313.7 318.5,322.8 318.6,307.5 318.7,285.3 318.9,297.9 319.0,302.6 319.2,291.6 319.3,255.3 319.4,285.4 319.6,266.3 319.7,254.0 319.9,311.5 320.0,313.2 320.1,257.4 320.3,294.4 320.4,275.5 320.5,301.3 320.7,245.9 320.8,256.6 321.0,282.2 321.1,270.6 321.2,264.4 321.4,298.8 321.5,270.5 321.7,267.4 321.8,276.3 321.9,285.2 322.1,255.4 322.2,242.8 322.3,319.7 322.5,245.5 322.6,318.7 322.8,297.2 322.9,293.0 323.0,301.0 323.2,240.4 323.3,300.8 323.5,275.4 323.6,262.2 323.7,299.5 323.9,298.5 324.0,258.7 324.1,288.9 324.3,293.2 324.4,284.2 324.6,305.8 324.7,256.2 324.8,264.6 325.0,280.6 325.1,270.3 325.3,283.4 325.4,287.8 325.5,269.9 325.7,286.8 325.8,305.3 326.0,317.6 326.1,305.9 326.2,291.5 326.4,282.7 326.5,264.7 326.6,290.4 326.8,264.2 326.9,249.8 327.1,276.5 327.2,278.3 327.3,303.0 327.5,285.8 327.6,256.0 327.8,290.2 327.9,231.2 328.0,271.0 328.2,272.7 328.3,258.3 328.4,259.5 328.6,260.4 328.7,254.6 328.9,303.0 329.0,267.9 329.1,263.8 329.3,292.4 329.4,247.0 329.6,292.4 329.7,267.2 329.8,288.4 330.0,298.4 330.1,302.2 330.2,244.2 330.4,269.0 330.5,280.5 330.7,285.8 330.8,288.9 330.9,251.6 331.1,285.4 331.2,266.3 331.4,225.9 331.5,247.2 331.6,245.9 331.8,230.2 331.9,264.9 332.0,254.0 332.2,262.5 332.3,237.7 332.5,271.6 332.6,295.0 332.7,256.7 332.9,287.7 333.0,267.6 333.2,288.8 333.3,267.9 333.4,285.8 333.6,296.7 333.7,261.0 333.9,264.4 334.0,288.8 334.1,256.1 334.3,246.1 334.4,225.2 334.5,306.1 334.7,238.4 334.8,285.2 335.0,279.2 335.1,277.2 335.2,271.9 335.4,226.1 335.5,269.9 335.7,257.9 335.8,266.7 335.9,218.3 336.1,275.2 336.2,266.6 336.3,258.0 336.5,272.7 336.6,258.2 336.8,235.1 336.9,272.3 337.0,277.6 337.2,241.6 337.3,273.5 337.5,262.1 337.6,258.6 337.7,244.6 337.9,240.4 338.0,255.8 338.1,252.6 338.3,289.4 338.4,216.4 338.6,236.7 338.7,264.1 338.8,239.9 339.0,261.2 339.1,275.7 339.3,272.5 339.4,248.9 339.5,237.1 339.7,284.3 339.8,260.1 339.9,252.7 340.1,281.1 340.2,219.5 340.4,270.8 340.5,285.2 340.6,232.3 340.8,251.9 340.9,261.7 341.1,260.2 341.2,234.2 341.3,251.3 341.5,242.4 341.6,245.0 341.8,257.2 341.9,239.9 342.0,242.2 342.2,247.5 342.3,267.5 342.4,233.6 342.6,288.4 342.7,251.0 342.9,222.0 343.0,255.4 343.1,213.0 343.3,222.1 343.4,277.6 343.6,229.9 343.7,262.3 343.8,274.5 344.0,210.7 344.1,242.0 344.2,217.0 344.4,220.2 344.5,223.2 344.7,229.9 344.8,245.6 344.9,271.0 345.1,218.4 345.2,214.1 345.4,221.8 345.5,274.7 345.6,238.8 345.8,219.6 345.9,267.9 346.0,276.8 346.2,267.1 346.3,267.6 346.5,284.9 346.6,215.2 346.7,231.4 346.9,265.7 347.0,261.7 347.2,212.9 347.3,247.4 347.4,216.1 347.6,233.3 347.7,224.9 347.9,253.2 348.0,257.2 348.1,291.6 348.3,245.4 348.4,239.9 348.5,289.3 348.7,245.0 348.8,190.7 349.0,267.0 349.1,215.8 349.2,226.6 349.4,267.4 349.5,217.7 349.7,280.5 349.8,238.7 349.9,204.4 350.1,245.2 350.2,237.8 350.3,238.8 350.5,210.1 350.6,216.3 350.8,211.1 350.9,226.2 351.0,229.5 351.2,244.6 351.3,231.3 351.5,278.8 351.6,251.4 351.7,264.6 351.9,226.6 352.0,268.0 352.1,233.9 352.3,245.3 352.4,235.2 352.6,240.6 352.7,249.2 352.8,246.4 353.0,267.3 353.1,219.7 353.3,231.7 353.4,240.1 353.5,207.1 353.7,243.5 353.8,234.5 353.9,198.1 354.1,252.4 354.2,267.7 354.4,245.0 354.5,240.6 354.6,230.2 354.8,230.6 354.9,243.1 355.1,218.7 355.2,223.9 355.3,266.3 355.5,272.4 355.6,242.5 355.8,245.9 355.9,267.2 356.0,223.8 356.2,269.1 356.3,207.8 356.4,264.2 356.6,238.4 356.7,254.0 356.9,212.4 357.0,267.2 357.1,230.0 357.3,232.2 357.4,269.3 357.6,235.6 357.7,210.1 357.8,238.3 358.0,244.3 358.1,211.6 358.2,212.8 358.4,244.4 358.5,252.4 358.7,217.4 358.8,257.3 358.9,206.1 359.1,257.3 359.2,246.3 359.4,246.3 359.5,210.9 359.6,255.9 359.8,219.8 359.9,238.5 360.0,205.2 360.2,204.0 360.3,210.0 360.5,239.6 360.6,231.7 360.7,204.9 360.9,220.8 361.0,231.5 361.2,253.8 361.3,217.2 361.4,219.7 361.6,223.9 361.7,174.2 361.8,224.5 362.0,230.9 362.1,231.1 362.3,252.3 362.4,191.7 362.5,234.6 362.7,203.5 362.8,222.9 363.0,217.6 363.1,259.6 363.2,243.4 363.4,201.2 363.5,230.8 363.7,216.8 363.8,224.7 363.9,194.9 364.1,217.6 364.2,207.7 364.3,232.1 364.5,191.7 364.6,194.9 364.8,196.3 364.9,162.8 365.0,215.2 365.2,234.8 365.3,212.5 365.5,171.6 365.6,187.3 365.7,194.5 365.9,220.9 366.0,237.7 366.1,230.6 366.3,199.4 366.4,233.8 366.6,258.3 366.7,178.2 366.8,183.4 367.0,217.5 367.1,200.1 367.3,171.6 367.4,181.0 367.5,234.3 367.7,206.9 367.8,218.2 367.9,221.7 368.1,198.3 368.2,196.0 368.4,184.3 368.5,169.5 368.6,182.5 368.8,208.3 368.9,174.4 369.1,233.5 369.2,192.2 369.3,243.9 369.5,238.0 369.6,206.9 369.7,249.3 369.9,226.9 370.0,159.5 370.2,225.8 370.3,205.2 370.4,179.8 370.6,216.4 370.7,215.0 370.9,221.7 371.0,202.5 371.1,223.3 371.3,228.6 371.4,218.4 371.6,209.0 371.7,209.5 371.8,186.2 372.0,202.3 372.1,193.7 372.2,211.7 372.4,162.0 372.5,232.5 372.7,218.2 372.8,232.6 372.9,186.6 373.1,239.6 373.2,231.4 373.4,199.8 373.5,145.1 373.6,203.0 373.8,153.4 373.9,202.9 374.0,214.8 374.2,194.7 374.3,183.5 374.5,173.8 374.6,237.1 374.7,228.8 374.9,191.7 375.0,246.4 375.2,198.8 375.3,229.8 375.4,235.7 375.6,204.9 375.7,174.8 375.8,189.6 376.0,173.7 376.1,177.8 376.3,176.3 376.4,153.5 376.5,189.9 376.7,191.5 376.8,167.6 377.0,187.6 377.1,195.5 377.2,167.8 377.4,176.3 377.5,244.8 377.6,219.2 377.8,209.3 377.9,211.4 378.1,216.8 378.2,156.7 378.3,233.6 378.5,186.8 378.6,174.2 378.8,172.3 378.9,151.5 379.0,169.2 379.2,191.1 379.3,207.1 379.5,193.0 379.6,194.3 379.7,217.2 379.9,173.3 380.0,164.0 380.1,206.9 380.3,190.5 380.4,211.9 380.6,186.8 380.7,202.1 380.8,218.5 381.0,232.0 381.1,182.8 381.3,216.8 381.4,201.3 381.5,226.4 381.7,178.8 381.8,195.4 381.9,188.8 382.1,214.4 382.2,209.1 382.4,208.4 382.5,208.9 382.6,200.0 382.8,230.9 382.9,176.0 383.1,174.9 383.2,207.1 383.3,176.1 383.5,197.8 383.6,160.6 383.7,161.3 383.9,186.7 384.0,212.0 384.2,211.4 384.3,179.1 384.4,178.2 384.6,190.1 384.7,213.5 384.9,158.5 385.0,201.6 385.1,202.7 385.3,179.9 385.4,201.9 385.5,193.6 385.7,190.7 385.8,163.6 386.0,220.5 386.1,182.9 386.2,218.1 386.4,196.6 386.5,217.8 386.7,177.9 386.8,234.1 386.9,180.4 387.1,206.7 387.2,146.1 387.4,163.1 387.5,188.0 387.6,171.6 387.8,198.8 387.9,191.3 388.0,151.8 388.2,194.8 388.3,152.4 388.5,190.1 388.6,163.2 388.7,166.8 388.9,179.1 389.0,205.4 389.2,182.7 389.3,187.9 389.4,154.4 389.6,204.4 389.7,195.8 389.8,173.2 390.0,185.2 390.1,156.7 390.3,196.1 390.4,149.7 390.5,209.6 390.7,176.3 390.8,176.4 391.0,216.3 391.1,158.4 391.2,166.8 391.4,189.6 391.5,167.4 391.6,207.0 391.8,185.1 391.9,161.4 392.1,207.6 392.2,152.4 392.3,172.9 392.5,173.7 392.6,149.2 392.8,175.9 392.9,194.9 393.0,181.6 393.2,159.0 393.3,149.0 393.4,212.9 393.6,157.3 393.7,169.1 393.9,146.5 394.0,153.8 394.1,188.7 394.3,176.0 394.4,182.7 394.6,130.6 394.7,184.6 394.8,141.3 395.0,185.9 395.1,125.4 395.3,132.3 395.4,184.7 395.5,194.4 395.7,138.7 395.8,155.1 395.9,143.0 396.1,215.3 396.2,157.7 396.4,168.0 396.5,147.1 396.6,185.5 396.8,153.8 396.9,182.3 397.1,146.2 397.2,204.0 397.3,125.2 397.5,152.3 397.6,179.8 397.7,211.8 397.9,155.5 398.0,163.9 398.2,177.6 398.3,172.0 398.4,189.0 398.6,149.0 398.7,167.3 398.9,185.2 399.0,181.5 399.1,145.7 399.3,152.6 399.4,197.1 399.5,129.2 399.7,163.9 399.8,160.5 400.0,186.2 400.1,145.9 400.2,173.5 400.4,131.6 400.5,145.3 400.7,181.7 400.8,188.9 400.9,144.9 401.1,155.2 401.2,136.5 401.3,179.1 401.5,176.3 401.6,174.6 401.8,194.2 401.9,127.8 402.0,195.8 402.2,190.8 402.3,120.5 402.5,174.5 402.6,192.7 402.7,185.3 402.9,130.9 403.0,167.0 403.2,142.8 403.3,147.6 403.4,190.4 403.6,131.0 403.7,147.4 403.8,148.9 404.0,118.5 404.1,160.6 404.3,189.6 404.4,181.5 404.5,98.6 404.7,159.2 404.8,168.2 405.0,127.2 405.1,193.5 405.2,151.2 405.4,141.8 405.5,139.1 405.6,185.5 405.8,124.3 405.9,189.2 406.1,143.7 406.2,144.5 406.3,163.1 406.5,171.5 406.6,200.4 406.8,155.7 406.9,160.3 407.0,171.8 407.2,120.5 407.3,108.5 407.4,119.1 407.6,142.8 407.7,160.6 407.9,182.4 408.0,157.8 408.1,146.7 408.3,180.3 408.4,111.5 408.6,179.8 408.7,170.0 408.8,184.9 409.0,168.1 409.1,167.1 409.2,136.2 409.4,145.3 409.5,112.1 409.7,152.1 409.8,152.4 409.9,108.7 410.1,118.7 410.2,138.9 410.4,151.0 410.5,117.8 410.6,174.7 410.8,130.9 410.9,146.6 411.1,141.1 411.2,149.9 411.3,142.0 411.5,177.3 411.6,145.7 411.7,148.4 411.9,164.3 412.0,175.9 412.2,183.8 412.3,140.4 412.4,98.1 412.6,158.1 412.7,124.6 412.9,159.4 413.0,131.1 413.1,111.0 413.3,166.3 413.4,154.0 413.5,120.9 413.7,158.2 413.8,160.5 414.0,117.9 414.1,122.3 414.2,122.3 414.4,163.8 414.5,148.9 414.7,173.3 414.8,125.7 414.9,132.2 415.1,109.2 415.2,108.3 415.3,149.6 415.5,116.7 415.6,157.7 415.8,167.8 415.9,110.6 416.0,123.2 416.2,144.8 416.3,164.8 416.5,102.6 416.6,94.1 416.7,157.4 416.9,162.0 417.0,135.3 417.1,162.2 417.3,164.8 417.4,105.8 417.6,131.7 417.7,122.8 417.8,138.4 418.0,169.5 418.1,107.8 418.3,118.3 418.4,147.3 418.5,157.8 418.7,207.6 418.8,159.5 419.0,132.4 419.1,123.5 419.2,114.9 419.4,156.1 419.5,151.2 419.6,123.2 419.8,155.8 419.9,143.6 420.1,115.3 420.2,135.8 420.3,106.8 420.5,123.9 420.6,138.9 420.8,92.4 420.9,154.1 421.0,112.4 421.2,131.9 421.3,144.6 421.4,128.9 421.6,165.7 421.7,143.4 421.9,99.0 422.0,128.4 422.1,128.3 422.3,162.3 422.4,141.8 422.6,131.8 422.7,165.2 422.8,139.7 423.0,96.0 423.1,125.8 423.2,132.0 423.4,124.6 423.5,146.7 423.7,159.6 423.8,125.8 423.9,116.9 424.1,133.2 424.2,121.6 424.4,111.6 424.5,141.6 424.6,92.6 424.8,151.4 424.9,149.9 425.1,132.9 425.2,158.6 425.3,143.5 425.5,98.0 425.6,109.8 425.7,97.0 425.9,107.6 426.0,102.3 426.2,135.2 426.3,100.1 426.4,147.0 426.6,155.6 426.7,128.3 426.9,125.5 427.0,95.3 427.1,120.3 427.3,127.3 427.4,135.4 427.5,111.8 427.7,123.1 427.8,132.4 428.0,142.5 428.1,125.1 428.2,95.8 428.4,143.0 428.5,83.2 428.7,87.7 428.8,90.8 428.9,121.7 429.1,119.9 429.2,100.2 429.3,91.4 429.5,140.9 429.6,119.4 429.8,101.7 429.9,123.8 430.0,117.2 430.2,151.1 430.3,95.7 430.5,107.0 430.6,121.4 430.7,133.1 430.9,119.4 431.0,164.0 431.1,148.8 431.3,106.3 431.4,122.6 431.6,137.9 431.7,110.9 431.8,129.3 432.0,76.8 432.1,121.7 432.3,181.4 432.4,119.5 432.5,126.8 432.7,126.7 432.8,88.3 433.0,120.0 433.1,125.4 433.2,144.9 433.4,88.2 433.5,128.8 433.6,101.2 433.8,133.7 433.9,109.3 434.1,152.7 434.2,134.4 434.3,156.0 434.5,140.0 434.6,134.1 434.8,107.3 434.9,160.6 435.0,86.4 435.2,76.9 435.3,116.2 435.4,116.5 435.6,147.5 435.7,133.1 435.9,106.9 436.0,113.7 436.1,115.9 436.3,145.8 436.4,84.9 436.6,150.8 436.7,87.5 436.8,104.8 437.0,172.5 437.1,141.6 437.2,139.0 437.4,142.4 437.5,111.3 437.7,99.6 437.8,108.5 437.9,157.7 438.1,91.8 438.2,151.2 438.4,113.5 438.5,118.0 438.6,126.9 438.8,146.5 438.9,150.6 439.0,116.3 439.2,131.7 439.3,135.6 439.5,116.7 439.6,146.0 439.7,92.3 439.9,112.8 440.0,117.5 440.2,135.7 440.3,103.1 440.4,94.9 440.6,127.3 440.7,121.1 440.9,143.8 441.0,140.6 441.1,172.6 441.3,114.8 441.4,120.2 441.5,115.9 441.7,96.8 441.8,112.7 442.0,147.7 442.1,152.3 442.2,135.3 442.4,167.7 442.5,155.9 442.7,138.0 442.8,98.4 442.9,102.8 443.1,152.9 443.2,123.3 443.3,96.4 443.5,120.3 443.6,138.7 443.8,103.0 443.9,112.2 444.0,123.0 444.2,135.0 444.3,148.0 444.5,127.6 444.6,104.9 444.7,110.5 444.9,137.8 445.0,134.0 445.1,97.6 445.3,139.3 445.4,164.7 445.6,130.3 445.7,159.2 445.8,123.7 446.0,152.5 446.1,142.3 446.3,167.9 446.4,129.0 446.5,128.7 446.7,157.4 446.8,119.4 446.9,161.6 447.1,114.4 447.2,134.0 447.4,102.9 447.5,115.3 447.6,164.5 447.8,141.4 447.9,156.3 448.1,97.9 448.2,127.4 448.3,174.4 448.5,181.2 448.6,115.1 448.8,114.7 448.9,147.4 449.0,157.6 449.2,144.4 449.3,113.9 449.4,126.1 449.6,168.2 449.7,163.8 449.9,167.8 450.0,125.6 450.1,134.4 450.3,115.5 450.4,216.5 450.6,116.0 450.7,122.6 450.8,143.9 451.0,150.1 451.1,101.7 451.2,170.2 451.4,124.0 451.5,162.2 451.7,124.8 451.8,147.8 451.9,136.3 452.1,113.4 452.2,157.3 452.4,121.0 452.5,141.0 452.6,122.7 452.8,157.6 452.9,178.9 453.0,156.4 453.2,159.4 453.3,131.0 453.5,163.9 453.6,131.0 453.7,144.8 453.9,158.6 454.0,140.6 454.2,153.1 454.3,190.3 454.4,151.4 454.6,140.5 454.7,170.5 454.8,157.9 455.0,160.2 455.1,108.2 455.3,182.7 455.4,121.5 455.5,125.1 455.7,161.3 455.8,154.9 456.0,116.6 456.1,153.3 456.2,153.5 456.4,145.1 456.5,126.6 456.7,130.7 456.8,143.2 456.9,149.3 457.1,152.7 457.2,171.5 457.3,134.4 457.5,140.7 457.6,129.2 457.8,147.2 457.9,169.8 458.0,167.0 458.2,167.5 458.3,126.3 458.5,169.2 458.6,148.5 458.7,129.0 458.9,152.8 459.0,174.8 459.1,154.7 459.3,129.2 459.4,162.8 459.6,158.0 459.7,153.3 459.8,149.5 460.0,137.3 460.1,196.1 460.3,133.6 460.4,163.3 460.5,117.4 460.7,149.4 460.8,138.2 460.9,138.5 461.1,199.9 461.2,130.5 461.4,166.5 461.5,169.1 461.6,185.1 461.8,180.2 461.9,175.0 462.1,142.2 462.2,174.5 462.3,120.8 462.5,135.9 462.6,126.6 462.7,210.7 462.9,184.5 463.0,175.0 463.2,140.4 463.3,181.6 463.4,194.4 463.6,178.4 463.7,173.9 463.9,168.4 464.0,140.4 464.1,166.4 464.3,170.6 464.4,170.7 464.6,126.7 464.7,187.5 464.8,202.9 465.0,177.7 465.1,133.1 465.2,146.7 465.4,132.8 465.5,141.9 465.7,183.2 465.8,203.0 465.9,203.3 466.1,177.3 466.2,173.5 466.4,128.2 466.5,171.4 466.6,131.3 466.8,199.5 466.9,169.2 467.0,160.8 467.2,155.0 467.3,159.1 467.5,190.6 467.6,145.4 467.7,191.6 467.9,204.1 468.0,177.5 468.2,148.2 468.3,186.5 468.4,169.8 468.6,212.2 468.7,168.0 468.8,181.6 469.0,172.9 469.1,175.5 469.3,138.1 469.4,175.5 469.5,162.5 469.7,191.1 469.8,144.1 470.0,172.6 470.1,147.0 470.2,178.1 470.4,188.9 470.5,190.8 470.6,164.2 470.8,157.1 470.9,151.4 471.1,168.9 471.2,132.2 471.3,148.1 471.5,179.2 471.6,206.0 471.8,210.1 471.9,181.7 472.0,188.7 472.2,168.5 472.3,168.0 472.5,177.7 472.6,144.2 472.7,163.8 472.9,194.6 473.0,183.3 473.1,170.9 473.3,175.9 473.4,151.5 473.6,208.7 473.7,161.9 473.8,191.8 474.0,175.1 474.1,177.3 474.3,191.1 474.4,155.1 474.5,182.0 474.7,202.2 474.8,170.2 474.9,214.5 475.1,177.1 475.2,156.1 475.4,167.8 475.5,180.3 475.6,203.3 475.8,199.1 475.9,169.9 476.1,178.2 476.2,214.2 476.3,181.5 476.5,210.6 476.6,190.2 476.7,177.4 476.9,186.3 477.0,192.3 477.2,187.0 477.3,210.5 477.4,199.9 477.6,174.2 477.7,189.6 477.9,168.1 478.0,205.1 478.1,202.8 478.3,220.2 478.4,224.8 478.5,210.5 478.7,170.7 478.8,188.5 479.0,210.3 479.1,223.0 479.2,202.3 479.4,195.1 479.5,201.5 479.7,185.5 479.8,170.8 479.9,190.6 480.1,182.4 480.2,151.7 480.4,176.5 480.5,203.0 480.6,173.5 480.8,181.3 480.9,176.8 481.0,174.5 481.2,202.4 481.3,203.8 481.5,191.9 481.6,188.4 481.7,214.3 481.9,151.8 482.0,245.3 482.2,217.2 482.3,209.9 482.4,189.0 482.6,211.2 482.7,178.0 482.8,238.8 483.0,171.2 483.1,178.6 483.3,152.2 483.4,238.7 483.5,172.4 483.7,209.5 483.8,227.9 484.0,191.7 484.1,194.5 484.2,219.5 484.4,191.0 484.5,199.2 484.6,177.6 484.8,188.4 484.9,171.6 485.1,165.2 485.2,224.5 485.3,196.5 485.5,210.1 485.6,165.2 485.8,185.5 485.9,200.6 486.0,207.9 486.2,169.8 486.3,199.2 486.4,215.4 486.6,184.3 486.7,181.1 486.9,168.4 487.0,210.0 487.1,184.8 487.3,240.7 487.4,192.1 487.6,181.9 487.7,224.1 487.8,170.0 488.0,187.3 488.1,164.0 488.3,223.6 488.4,216.4 488.5,193.4 488.7,242.0 488.8,199.9 488.9,202.2 489.1,210.8 489.2,243.6 489.4,171.1 489.5,197.1 489.6,175.3 489.8,171.5 489.9,170.9 490.1,176.5 490.2,224.3 490.3,200.9 490.5,245.7 490.6,180.7 490.7,212.3 490.9,207.0 491.0,190.3 491.2,241.7 491.3,197.4 491.4,174.2 491.6,200.7 491.7,181.5 491.9,226.4 492.0,233.8 492.1,220.6 492.3,190.2 492.4,175.7 492.5,183.6 492.7,192.2 492.8,234.8 493.0,221.3 493.1,220.1 493.2,253.7 493.4,194.3 493.5,197.7 493.7,239.2 493.8,240.1 493.9,199.2 494.1,200.5 494.2,176.1 494.4,182.2 494.5,230.3 494.6,202.5 494.8,187.4 494.9,245.3 495.0,233.0 495.2,195.4 495.3,218.2 495.5,246.9 495.6,246.8 495.7,197.1 495.9,210.1 496.0,202.1 496.2,256.0 496.3,190.9 496.4,237.1 496.6,195.1 496.7,244.4 496.8,203.4 497.0,205.8 497.1,234.3 497.3,177.5 497.4,228.6 497.5,271.1 497.7,195.9 497.8,173.3 498.0,247.4 498.1,243.9 498.2,249.0 498.4,223.6 498.5,197.5 498.6,213.7 498.8,211.1 498.9,192.1 499.1,232.6 499.2,205.6 499.3,198.5 499.5,194.8 499.6,229.8 499.8,226.9 499.9,258.3 500.0,207.2 500.2,193.9 500.3,238.3 500.4,226.7 500.6,256.4 500.7,207.1 500.9,186.8 501.0,240.6 501.1,254.4 501.3,246.6 501.4,215.8 501.6,197.8 501.7,223.7 501.8,217.8 502.0,213.4 502.1,194.3 502.3,211.6 502.4,218.3 502.5,237.4 502.7,246.9 502.8,257.0 502.9,258.0 503.1,200.7 503.2,226.4 503.4,242.3 503.5,234.7 503.6,210.2 503.8,208.3 503.9,234.6 504.1,245.1 504.2,244.9 504.3,202.2 504.5,264.8 504.6,200.4 504.7,241.6 504.9,253.4 505.0,213.3 505.2,213.0 505.3,200.6 505.4,233.7 505.6,208.5 505.7,240.9 505.9,214.5 506.0,240.6 506.1,197.1 506.3,203.8 506.4,247.0 506.5,228.8 506.7,267.4 506.8,214.5 507.0,221.7 507.1,221.6 507.2,218.7 507.4,247.7 507.5,222.2 507.7,256.0 507.8,210.1 507.9,204.3 508.1,213.1 508.2,240.3 508.3,235.9 508.5,232.8 508.6,209.7 508.8,250.3 508.9,240.6 509.0,252.6 509.2,260.6 509.3,224.4 509.5,253.1 509.6,200.9 509.7,227.6 509.9,238.8 510.0,194.9 510.2,221.6 510.3,248.9 510.4,267.5 510.6,255.3 510.7,220.7 510.8,259.8 511.0,263.7 511.1,207.8 511.3,236.9 511.4,241.0 511.5,252.5 511.7,263.2 511.8,265.3 512.0,232.9 512.1,233.0 512.2,238.8 512.4,215.0 512.5,234.3 512.6,208.7 512.8,238.4 512.9,217.4 513.1,220.3 513.2,203.0 513.3,226.3 513.5,252.2 513.6,215.4 513.8,243.1 513.9,240.5 514.0,207.3 514.2,221.5 514.3,214.1 514.4,245.7 514.6,225.0 514.7,250.7 514.9,245.4 515.0,224.6 515.1,275.6 515.3,246.5 515.4,207.5 515.6,242.2 515.7,267.3 515.8,248.2 516.0,227.5 516.1,227.4 516.2,262.8 516.4,258.5 516.5,205.4 516.7,295.3 516.8,204.6 516.9,269.4 517.1,211.7 517.2,270.1 517.4,215.8 517.5,242.2 517.6,242.8 517.8,262.4 517.9,211.5 518.1,263.5 518.2,219.2 518.3,263.2 518.5,218.0 518.6,278.4 518.7,284.5 518.9,263.0 519.0,223.4 519.2,234.2 519.3,219.1 519.4,221.2 519.6,259.7 519.7,262.0 519.9,230.5 520.0,254.4 520.1,259.5 520.3,260.6 520.4,270.9 520.5,251.6 520.7,236.6 520.8,248.4 521.0,227.9 521.1,247.1 521.2,278.0 521.4,280.8 521.5,278.3 521.7,242.8 521.8,249.5 521.9,265.5 522.1,221.8 522.2,258.6 522.3,219.1 522.5,231.0 522.6,261.3 522.8,251.9 522.9,281.4 523.0,221.7 523.2,259.4 523.3,237.9 523.5,252.2 523.6,281.3 523.7,271.7 523.9,278.7 524.0,230.7 524.1,279.8 524.3,242.4 524.4,252.9 524.6,315.7 524.7,284.1 524.8,232.8 525.0,276.4 525.1,263.3 525.3,272.7 525.4,249.2 525.5,247.3 525.7,238.2 525.8,232.0 526.0,263.6 526.1,257.4 526.2,247.6 526.4,222.9 526.5,252.1 526.6,228.1 526.8,254.8 526.9,283.3 527.1,287.8 527.2,269.6 527.3,277.8 527.5,233.8 527.6,258.6 527.8,275.4 527.9,239.2 528.0,278.1 528.2,247.8 528.3,249.2 528.4,284.2 528.6,218.8 528.7,246.2 528.9,245.6 529.0,269.5 529.1,231.1 529.3,247.0 529.4,267.5 529.6,277.3 529.7,241.8 529.8,226.6 530.0,275.2 530.1,268.9 530.2,237.7 530.4,267.7 530.5,278.4 530.7,234.1 530.8,274.6 530.9,269.0 531.1,259.2 531.2,318.5 531.4,268.2 531.5,294.4 531.6,253.7 531.8,240.2 531.9,248.9 532.0,294.5 532.2,258.0 532.3,254.2 532.5,275.1 532.6,297.4 532.7,281.8 532.9,273.9 533.0,282.2 533.2,242.1 533.3,244.3 533.4,284.4 533.6,288.3 533.7,247.5 533.9,236.1 534.0,231.0 534.1,268.6 534.3,230.3 534.4,270.9 534.5,275.5 534.7,270.5 534.8,286.3 535.0,269.9 535.1,275.2 535.2,299.1 535.4,293.1 535.5,230.6 535.7,304.7 535.8,297.9 535.9,268.6 536.1,290.5 536.2,314.0 536.3,286.1 536.5,302.3 536.6,272.5 536.8,305.3 536.9,253.9 537.0,274.3 537.2,273.2 537.3,262.2 537.5,274.5 537.6,235.4 537.7,234.2 537.9,316.3 538.0,257.3 538.1,260.1 538.3,264.6 538.4,265.9 538.6,275.4 538.7,252.4 538.8,250.4 539.0,296.1 539.1,275.8 539.3,291.8 539.4,283.3 539.5,304.1 539.7,265.2 539.8,268.1 539.9,265.6 540.1,278.8 540.2,295.2 540.4,297.5 540.5,284.0 540.6,247.9 540.8,284.3 540.9,304.7 541.1,271.0 541.2,247.2 541.3,270.3 541.5,284.7 541.6,289.7 541.8,295.6 541.9,272.6 542.0,282.4 542.2,272.6 542.3,292.1 542.4,305.6 542.6,276.0 542.7,292.1 542.9,279.1 543.0,272.5 543.1,260.2 543.3,306.6 543.4,270.3 543.6,298.7 543.7,271.0 543.8,297.4 544.0,247.2 544.1,318.8 544.2,272.7 544.4,284.0 544.5,292.4 544.7,318.8 544.8,272.2 544.9,319.1 545.1,253.4 545.2,287.9 545.4,292.9 545.5,334.6 545.6,300.0 545.8,311.0 545.9,324.0 546.0,294.7 546.2,274.7 546.3,291.8 546.5,316.5 546.6,332.2 546.7,252.3 546.9,275.6 547.0,270.6 547.2,297.2 547.3,316.5 547.4,284.4 547.6,312.7 547.7,283.2 547.8,244.6 548.0,318.8 548.1,316.6 548.3,264.4 548.4,327.1 548.5,337.2 548.7,310.4 548.8,276.9 549.0,286.5 549.1,310.8 549.2,277.5 549.4,299.7 549.5,240.7 549.7,243.2 549.8,297.9 549.9,316.4 550.1,314.7 550.2,309.8 550.3,305.4 550.5,324.0 550.6,295.5 550.8,300.1 550.9,333.4 551.0,270.0 551.2,315.8 551.3,326.7 551.5,288.5 551.6,304.5 551.7,283.0 551.9,275.6 552.0,331.2 552.1,307.4 552.3,308.4 552.4,284.1 552.6,283.6 552.7,283.4 552.8,288.5 553.0,285.2 553.1,284.8 553.3,321.1 553.4,269.7 553.5,294.2 553.7,296.9 553.8,297.6 553.9,282.3 554.1,290.1 554.2,312.0 554.4,312.8 554.5,292.7 554.6,329.0 554.8,314.8 554.9,311.5 555.1,293.7 555.2,282.7 555.3,326.0 555.5,298.0 555.6,308.8 555.7,265.4 555.9,269.9 556.0,277.3 556.2,298.1 556.3,319.2 556.4,315.1 556.6,302.1 556.7,355.1 556.9,305.8 557.0,272.4 557.1,336.4 557.3,295.3 557.4,288.3 557.6,327.2 557.7,333.0 557.8,270.0 558.0,322.6 558.1,311.6 558.2,327.9 558.4,275.5 558.5,291.3 558.7,344.7 558.8,267.8 558.9,301.7 559.1,282.0 559.2,285.4 559.4,329.4 559.5,328.0 559.6,319.3 559.8,336.5 559.9,316.6 560.0,270.0 560.2,325.7 560.3,320.1 560.5,299.6 560.6,310.2 560.7,326.3 560.9,328.4 561.0,335.6 561.2,310.5 561.3,322.3 561.4,290.5 561.6,335.2 561.7,321.1 561.8,314.9 562.0,321.7 562.1,298.0 562.3,344.8 562.4,298.3 562.5,316.0 562.7,319.6 562.8,314.8 563.0,314.3 563.1,311.7 563.2,338.1 563.4,303.5 563.5,345.4 563.7,277.4 563.8,330.1 563.9,288.5 564.1,301.7 564.2,296.0 564.3,355.2 564.5,281.7 564.6,303.8 564.8,339.1 564.9,286.3 565.0,340.5 565.2,298.0 565.3,349.6 565.5,284.7 565.6,316.9 565.7,295.4 565.9,331.3 566.0,332.5 566.1,327.3 566.3,332.7 566.4,308.9 566.6,308.0 566.7,350.4 566.8,292.3 567.0,348.2 567.1,270.5 567.3,299.9 567.4,299.7 567.5,328.9 567.7,295.5 567.8,273.5 567.9,319.1 568.1,321.5 568.2,348.0 568.4,337.2 568.5,339.9 568.6,332.5 568.8,360.4 568.9,304.4 569.1,303.5 569.2,365.1 569.3,351.3 569.5,343.9 569.6,302.1 569.7,306.4 569.9,306.7 570.0,294.8 570.2,324.4 570.3,306.9 570.4,342.7 570.6,273.5 570.7,355.0 570.9,356.4 571.0,327.4 571.1,301.3 571.3,333.4 571.4,316.8 571.6,308.2 571.7,312.8 571.8,333.9 572.0,287.3 572.1,292.0 572.2,378.7 572.4,344.7 572.5,332.9 572.7,310.9 572.8,342.2 572.9,337.9 573.1,347.3 573.2,329.9 573.4,334.9 573.5,317.9 573.6,341.3 573.8,315.0 573.9,343.1 574.0,352.5 574.2,285.6 574.3,389.4 574.5,336.1 574.6,367.2 574.7,312.2 574.9,308.7 575.0,331.0 575.2,330.7 575.3,336.5 575.4,297.0 575.6,316.3 575.7,359.0 575.8,326.0 576.0,340.1 576.1,333.8 576.3,297.9 576.4,296.0 576.5,346.1 576.7,335.4 576.8,369.1 577.0,337.2 577.1,301.5 577.2,350.3 577.4,334.8 577.5,309.1 577.6,346.4 577.8,317.2 577.9,317.3 578.1,362.6 578.2,319.7 578.3,332.0 578.5,372.2 578.6,298.7 578.8,339.0 578.9,337.9 579.0,339.4 579.2,321.1 579.3,365.1 579.5,326.5 579.6,350.3 579.7,343.9 579.9,315.4 580.0,308.8 580.1,347.5 580.3,310.8 580.4,334.8 580.6,311.1 580.7,362.6 580.8,341.3 581.0,307.7 581.1,371.4 581.3,374.8 581.4,335.5 581.5,346.0 581.7,332.5 581.8,319.9 581.9,325.2 582.1,374.3 582.2,370.5 582.4,306.9 582.5,311.2 582.6,332.8 582.8,327.9 582.9,356.2 583.1,336.8 583.2,357.6 583.3,356.3 583.5,310.2 583.6,319.0 583.7,378.4 583.9,406.2 584.0,321.0 584.2,317.7 584.3,357.5 584.4,355.8 584.6,381.2 584.7,309.5 584.9,349.1 585.0,296.6 585.1,361.7 585.3,335.3 585.4,364.5 585.5,353.7 585.7,313.9 585.8,368.3 586.0,308.1 586.1,363.2 586.2,360.1 586.4,334.9 586.5,334.2 586.7,371.0 586.8,357.2 586.9,342.5 587.1,358.7 587.2,365.5 587.4,334.0 587.5,374.1 587.6,388.4 587.8,314.3 587.9,326.0 588.0,329.6 588.2,378.7 588.3,353.4 588.5,340.2 588.6,337.8 588.7,365.4 588.9,326.5 589.0,355.3 589.2,353.2 589.3,339.0 589.4,352.5 589.6,324.2 589.7,378.3 589.8,345.4 590.0,354.5 590.1,371.7 590.3,352.1 590.4,321.1 590.5,316.9 590.7,374.0 590.8,323.8 591.0,391.1 591.1,362.4 591.2,313.7 591.4,341.4 591.5,339.3 591.6,310.2 591.8,350.5 591.9,342.4 592.1,370.7 592.2,368.1 592.3,397.3 592.5,343.7 592.6,344.1 592.8,332.9 592.9,389.3 593.0,358.4 593.2,392.5 593.3,377.5 593.4,358.6 593.6,338.0 593.7,336.5 593.9,367.4 594.0,341.9 594.1,358.5 594.3,342.6 594.4,339.9 594.6,371.2 594.7,334.8 594.8,357.0 595.0,358.7 595.1,373.9 595.3,369.7 595.4,328.4 595.5,380.8 595.7,366.3 595.8,325.2 595.9,356.9 596.1,332.1 596.2,352.4 596.4,373.0 596.5,363.4 596.6,372.8 596.8,358.2 596.9,333.6 597.1,371.8 597.2,365.2 597.3,363.3 597.5,341.7 597.6,377.7 597.7,391.5 597.9,357.3 598.0,341.7 598.2,364.4 598.3,381.5 598.4,392.3 598.6,389.3 598.7,339.8 598.9,371.6 599.0,345.2 599.1,343.8 599.3,330.1 599.4,367.5 599.5,345.9 599.7,377.6 599.8,347.4 600.0,353.5 600.1,376.0 600.2,363.4 600.4,400.1 600.5,362.4 600.7,356.4 600.8,361.5 600.9,377.9 601.1,359.9 601.2,360.3 601.3,414.9 601.5,361.2 601.6,350.4 601.8,341.0 601.9,340.8 602.0,395.4 602.2,348.3 602.3,382.8 602.5,398.0 602.6,376.6 602.7,384.8 602.9,347.5 603.0,348.0 603.2,354.3 603.3,334.5 603.4,367.0 603.6,373.5 603.7,351.3 603.8,322.7 604.0,351.8 604.1,389.5 604.3,393.8 604.4,379.5 604.5,382.4 604.7,364.3 604.8,378.2 605.0,318.6 605.1,389.4 605.2,344.8 605.4,346.3 605.5,311.5 605.6,373.9 605.8,365.8 605.9,370.9 606.1,347.2 606.2,373.8 606.3,328.9 606.5,345.6 606.6,369.6 606.8,323.2 606.9,389.3 607.0,369.3 607.2,362.5 607.3,376.3 607.4,380.9 607.6,353.3 607.7,334.3 607.9,360.6 608.0,352.2 608.1,406.6 608.3,376.4 608.4,362.7 608.6,359.9 608.7,353.6 608.8,348.7 609.0,331.1 609.1,359.0 609.2,368.8 609.4,335.4 609.5,339.9 609.7,356.3 609.8,355.7 609.9,353.7 610.1,346.8 610.2,330.9 610.4,352.1 610.5,353.0 610.6,368.3 610.8,343.0 610.9,321.8 611.1,333.2 611.2,349.1 611.3,349.2 611.5,352.6 611.6,345.4 611.7,371.5 611.9,380.9 612.0,368.8 612.2,368.9 612.3,334.7 612.4,312.9 612.6,349.0 612.7,391.2 612.9,358.7 613.0,364.1 613.1,342.0 613.3,339.9 613.4,352.1 613.5,358.9 613.7,311.8 613.8,334.8 614.0,357.0 614.1,298.1 614.2,333.2 614.4,364.1 614.5,347.5 614.7,374.1 614.8,299.8 614.9,327.2 615.1,330.7 615.2,383.7 615.3,319.5 615.5,385.9 615.6,352.4 615.8,354.8 615.9,379.6 616.0,334.3 616.2,361.6 616.3,343.3 616.5,330.0 616.6,322.8 616.7,336.0 616.9,305.7 617.0,336.6 617.1,314.2 617.3,364.1 617.4,319.5 617.6,316.6 617.7,326.2 617.8,328.9 618.0,345.5 618.1,342.3 618.3,378.5 618.4,373.7 618.5,332.2 618.7,358.1 618.8,323.3 619.0,366.1 619.1,372.6 619.2,301.1 619.4,355.8 619.5,337.4 619.6,364.6 619.8,345.4 619.9,345.4 620.1,302.0 620.2,324.0 620.3,358.0 620.5,316.8 620.6,352.0 620.8,355.9 620.9,338.4 621.0,322.7 621.2,343.2 621.3,341.5 621.4,354.9 621.6,324.9 621.7,305.2 621.9,352.7 622.0,305.2 622.1,324.9 622.3,314.8 622.4,314.7 622.6,285.9 622.7,349.0 622.8,327.1 623.0,319.1 623.1,327.9 623.2,321.9 623.4,337.3 623.5,325.1 623.7,346.4 623.8,335.6 623.9,321.4 624.1,331.5 624.2,295.1 624.4,348.9 624.5,321.8 624.6,326.6 624.8,349.4 624.9,312.0 625.0,314.8 625.2,332.9 625.3,275.9 625.5,351.9 625.6,324.1 625.7,309.5 625.9,335.9 626.0,347.0 626.2,349.2 626.3,325.5 626.4,322.9 626.6,261.8 626.7,342.0 626.9,312.4 627.0,349.7 627.1,289.7 627.3,303.6 627.4,325.5 627.5,338.8 627.7,320.4 627.8,318.3 628.0,322.9 628.1,289.1 628.2,329.3 628.4,355.2 628.5,296.3 628.7,355.7 628.8,295.2 628.9,359.7 629.1,305.3 629.2,326.4 629.3,297.8 629.5,312.2 629.6,315.2 629.8,358.4 629.9,307.1 630.0,269.7 630.2,311.6 630.3,340.8 630.5,312.6 630.6,299.9 630.7,314.7 630.9,304.5 631.0,293.8 631.1,321.8 631.3,353.1 631.4,327.0 631.6,324.1 631.7,294.4 631.8,332.9 632.0,339.4 632.1,309.4 632.3,349.2 632.4,317.5 632.5,314.3 632.7,302.3 632.8,291.6 633.0,281.1 633.1,283.9 633.2,283.1 633.4,319.9 633.5,272.1 633.6,313.4 633.8,340.6 633.9,291.9 634.1,311.3 634.2,338.7 634.3,299.2 634.5,270.3 634.6,315.7 634.8,321.1 634.9,316.5 635.0,296.8 635.2,282.3 635.3,280.0 635.4,321.9 635.6,312.2 635.7,292.6 635.9,328.2 636.0,338.7 636.1,323.1 636.3,313.9 636.4,307.6 636.6,316.9 636.7,297.8 636.8,306.5 637.0,336.8 637.1,283.5 637.2,271.7 637.4,322.1 637.5,285.9 637.7,299.1 637.8,340.6 637.9,305.9 638.1,288.2 638.2,318.5 638.4,329.3 638.5,313.4 638.6,313.3 638.8,272.8 638.9,327.1 639.0,325.7 639.2,322.9 639.3,299.9 639.5,293.3 639.6,272.4 639.7,303.3 639.9,302.9 640.0,296.3 640.2,316.0 640.3,303.0 640.4,313.3 640.6,354.1 640.7,328.9 640.9,269.3 641.0,319.9 641.1,319.1 641.3,319.3 641.4,316.0 641.5,288.0 641.7,342.1 641.8,282.1 642.0,322.9 642.1,295.7 642.2,280.3 642.4,270.1 642.5,300.6 642.7,263.8 642.8,310.9 642.9,288.6 643.1,298.7 643.2,308.3 643.3,291.2 643.5,293.8 643.6,313.5 643.8,273.3 643.9,255.7 644.0,329.3 644.2,287.3 644.3,301.4 644.5,333.5 644.6,290.1 644.7,274.5 644.9,269.7 645.0,297.6 645.1,273.6 645.3,323.6 645.4,307.4 645.6,282.4 645.7,315.5 645.8,327.2 646.0,307.3 646.1,293.6 646.3,316.7 646.4,299.7 646.5,318.1 646.7,296.5 646.8,319.2 646.9,307.8 647.1,291.7 647.2,271.5 647.4,329.0 647.5,268.1 647.6,259.1 647.8,296.5 647.9,242.4 648.1,310.3 648.2,295.9 648.3,275.9 648.5,266.8 648.6,284.7 648.8,299.0 648.9,266.4 649.0,297.6 649.2,315.1 649.3,297.0 649.4,294.4 649.6,285.7 649.7,296.7 649.9,261.6 650.0,287.4 650.1,315.4 650.3,259.9 650.4,309.0 650.6,300.5 650.7,270.1 650.8,271.3 651.0,285.1 651.1,271.1 651.2,265.0 651.4,307.9 651.5,250.9 651.7,309.3 651.8,277.2 651.9,255.1 652.1,314.0 652.2,296.0 652.4,257.4 652.5,290.6 652.6,243.2 652.8,308.6 652.9,283.3 653.0,300.8 653.2,286.0 653.3,244.9 653.5,287.2 653.6,267.1 653.7,310.1 653.9,232.2 654.0,296.4 654.2,274.9 654.3,276.2 654.4,304.3 654.6,298.3 654.7,294.1 654.8,244.0 655.0,314.2 655.1,290.4 655.3,300.9 655.4,293.1 655.5,295.2 655.7,292.8 655.8,288.9 656.0,294.4 656.1,254.9 656.2,265.4 656.4,309.2 656.5,262.4 656.7,255.3 656.8,269.0 656.9,273.2 657.1,280.0 657.2,288.0 657.3,238.7 657.5,264.8 657.6,298.2 657.8,271.1 657.9,279.8 658.0,250.4 658.2,261.6 658.3,288.3 658.5,235.7 658.6,276.4 658.7,266.0 658.9,259.9 659.0,274.5 659.1,250.7 659.3,279.3 659.4,282.0 659.6,274.9 659.7,222.6 659.8,230.1 660.0,299.2 660.1,246.1 660.3,267.5 660.4,246.6 660.5,262.2 660.7,271.4 660.8,310.1 660.9,288.6 661.1,259.5 661.2,279.6 661.4,307.5 661.5,236.7 661.6,254.6 661.8,242.2 661.9,234.3 662.1,256.1 662.2,279.3 662.3,282.9 662.5,232.3 662.6,267.8 662.7,283.2 662.9,231.8 663.0,299.8 663.2,307.5 663.3,289.2 663.4,277.7 663.6,266.3 663.7,285.7 663.9,257.9 664.0,290.8 664.1,284.3 664.3,260.7 664.4,229.2 664.6,248.3 664.7,291.8 664.8,285.3 665.0,271.3 665.1,275.0 665.2,248.9 665.4,301.4 665.5,227.1 665.7,294.3 665.8,260.3 665.9,230.5 666.1,256.6 666.2,296.6 666.4,247.1 666.5,253.3 666.6,259.6 666.8,228.6 666.9,291.0 667.0,287.1 667.2,298.7 667.3,289.1 667.5,267.4 667.6,244.9 667.7,287.0 667.9,243.7 668.0,263.4 668.2,271.9 668.3,287.4 668.4,304.5 668.6,288.9 668.7,230.1 668.8,223.8 669.0,228.8 669.1,236.4 669.3,253.8 669.4,257.9 669.5,280.2 669.7,270.0 669.8,212.0 670.0,249.0 670.1,259.3 670.2,282.8 670.4,244.0 670.5,230.2 670.6,260.8 670.8,251.0 670.9,224.6 671.1,222.9 671.2,253.5 671.3,273.9 671.5,280.8 671.6,251.5 671.8,249.5 671.9,247.9 672.0,230.2 672.2,235.1 672.3,258.3 672.5,282.2 672.6,252.5 672.7,255.9 672.9,232.3 673.0,278.2 673.1,281.0 673.3,220.6 673.4,266.7 673.6,259.8 673.7,240.2 673.8,241.2 674.0,247.3 674.1,241.3 674.3,223.2 674.4,241.8 674.5,268.5 674.7,233.3 674.8,257.0 674.9,248.2 675.1,258.5 675.2,277.1 675.4,216.6 675.5,221.1 675.6,241.4 675.8,225.1 675.9,263.7 676.1,216.2 676.2,270.3 676.3,288.9 676.5,269.8 676.6,213.5 676.7,227.9 676.9,242.2 677.0,218.2 677.2,248.4 677.3,257.1 677.4,230.9 677.6,246.3 677.7,224.4 677.9,262.0 678.0,269.8 678.1,264.5 678.3,233.1 678.4,253.3 678.5,235.9 678.7,244.9 678.8,208.3 679.0,234.9 679.1,252.2 679.2,254.2 679.4,265.5 679.5,218.4 679.7,285.4 679.8,196.1 679.9,249.4 680.1,230.6 680.2,227.0 680.4,265.2 680.5,242.8 680.6,236.9 680.8,208.5 680.9,218.8 681.0,217.1 681.2,255.6 681.3,209.0 681.5,207.3 681.6,233.1 681.7,264.3 681.9,227.6 682.0,227.1 682.2,219.6 682.3,238.8 682.4,224.1 682.6,228.6 682.7,245.0 682.8,264.5 683.0,202.4 683.1,247.4 683.3,297.0 683.4,209.7 683.5,200.5 683.7,264.0 683.8,234.3 684.0,203.5 684.1,245.0 684.2,240.4 684.4,267.4 684.5,227.1 684.6,230.5 684.8,199.2 684.9,217.8 685.1,249.8 685.2,253.0 685.3,195.4 685.5,254.8 685.6,248.7 685.8,217.2 685.9,247.6 686.0,256.2 686.2,203.4 686.3,229.3 686.4,230.2 686.6,204.6 686.7,238.4 686.9,257.1 687.0,221.9 687.1,261.9 687.3,233.1 687.4,247.8 687.6,248.7 687.7,238.4 687.8,244.0 688.0,265.2 688.1,263.1 688.3,280.8 688.4,252.6 688.5,272.5 688.7,217.3 688.8,204.8 688.9,240.9 689.1,207.9 689.2,210.1 689.4,261.9 689.5,233.1 689.6,253.9 689.8,239.8 689.9,258.2 690.1,219.2 690.2,241.0 690.3,258.5 690.5,241.1 690.6,225.6 690.7,250.4 690.9,230.9 691.0,196.5 691.2,220.7 691.3,239.9 691.4,247.4 691.6,234.3 691.7,223.3 691.9,238.8 692.0,189.4 692.1,264.8 692.3,234.9 692.4,248.5 692.5,197.7 692.7,208.2 692.8,223.2 693.0,211.4 693.1,273.2 693.2,188.4 693.4,212.0 693.5,244.1 693.7,237.3 693.8,193.5 693.9,237.1 694.1,199.4 694.2,209.2 694.3,199.9 694.5,206.4 694.6,211.2 694.8,234.6 694.9,203.3 695.0,247.5 695.2,187.1 695.3,198.1 695.5,258.0 695.6,189.6 695.7,188.0 695.9,192.9 696.0,244.1 696.2,229.9 696.3,228.6 696.4,228.5 696.6,228.6 696.7,191.7 696.8,199.3 697.0,260.6 697.1,254.6 697.3,252.2 697.4,222.0 697.5,196.8 697.7,202.3 697.8,202.8 698.0,217.7 698.1,239.4 698.2,242.5 698.4,200.3 698.5,178.5 698.6,211.6 698.8,192.1 698.9,216.9 699.1,229.0 699.2,174.5 699.3,215.6 699.5,204.1 699.6,224.1 699.8,246.1 699.9,208.0 700.0,245.9 700.2,252.8 700.3,212.6 700.4,248.3 700.6,236.1 700.7,214.9 700.9,241.0 701.0,217.7 701.1,231.9 701.3,189.3 701.4,226.7 701.6,221.1 701.7,203.3 701.8,202.1 702.0,226.3 702.1,241.6 702.2,230.8 702.4,253.3 702.5,176.0 702.7,224.0 702.8,175.9 702.9,202.1 703.1,191.3 703.2,216.7 703.4,255.2 703.5,185.0 703.6,189.2 703.8,234.6 703.9,219.1 704.1,187.0 704.2,194.4 704.3,202.2 704.5,198.1 704.6,221.5 704.7,223.8 704.9,171.2 705.0,245.3 705.2,187.7 705.3,226.4 705.4,249.8 705.6,215.3 705.7,227.8 705.9,204.7 706.0,216.4 706.1,158.8 706.3,178.5 706.4,193.8 706.5,182.7 706.7,179.5 706.8,231.2 707.0,186.1 707.1,193.6 707.2,178.7 707.4,206.6 707.5,209.6 707.7,230.6 707.8,204.0 707.9,234.0 708.1,226.0 708.2,226.3 708.3,211.2 708.5,186.4 708.6,190.5 708.8,189.6 708.9,179.6 709.0,191.0 709.2,224.9 709.3,181.5 709.5,174.6 709.6,179.1 709.7,206.2 709.9,206.1 710.0,201.8 710.2,165.9 710.3,196.5 710.4,223.4 710.6,226.0 710.7,163.7 710.8,224.4 711.0,206.0 711.1,201.2 711.3,205.6 711.4,186.3 711.5,172.5 711.7,223.0 711.8,168.9 712.0,176.8 712.1,233.1 712.2,174.9 712.4,195.5 712.5,175.5 712.6,182.5 712.8,219.2 712.9,211.3 713.1,211.0 713.2,199.8 713.3,215.8 713.5,217.6 713.6,181.1 713.8,163.7 713.9,185.7 714.0,211.2 714.2,188.9 714.3,214.1 714.4,214.0 714.6,169.5 714.7,176.6 714.9,193.0 715.0,148.7 715.1,225.9 715.3,154.6 715.4,231.5 715.6,235.8 715.7,210.7 715.8,218.1 716.0,208.5 716.1,202.4 716.2,202.0 716.4,223.4 716.5,194.3 716.7,175.1 716.8,176.1 716.9,209.1 717.1,204.2 717.2,174.1 717.4,163.2 717.5,189.0 717.6,213.0 717.8,185.2 717.9,171.7 718.1,188.8 718.2,160.2 718.3,206.9 718.5,216.7 718.6,199.7 718.7,166.6 718.9,226.2 719.0,154.1 719.2,133.5 719.3,174.4 719.4,162.9 719.6,164.9 719.7,175.4 719.9,224.9 720.0,192.9 720.1,200.0 720.3,151.4 720.4,176.9 720.5,204.2 720.7,188.9 720.8,201.0 721.0,206.3 721.1,193.9 721.2,200.7 721.4,179.7 721.5,183.8 721.7,162.3 721.8,200.9 721.9,208.9 722.1,152.7 722.2,193.9 722.3,138.6 722.5,156.3 722.6,152.4 722.8,190.1 722.9,203.2 723.0,160.9 723.2,160.4 723.3,181.9 723.5,208.9 723.6,217.8 723.7,194.6 723.9,148.1 724.0,169.8 724.1,189.7 724.3,220.2 724.4,142.9 724.6,180.3 724.7,198.9 724.8,211.4 725.0,146.6 725.1,153.2 725.3,157.2 725.4,198.3 725.5,173.5 725.7,160.5 725.8,167.3 726.0,155.7 726.1,189.7 726.2,192.9 726.4,212.9 726.5,192.7 726.6,196.7 726.8,188.6 726.9,179.3 727.1,208.1 727.2,153.9 727.3,143.0 727.5,132.9 727.6,138.1 727.8,126.2 727.9,153.2 728.0,154.1 728.2,186.8 728.3,164.9 728.4,187.6 728.6,156.8 728.7,152.0 728.9,196.3 729.0,192.3 729.1,196.6 729.3,135.1 729.4,134.5 729.6,175.0 729.7,193.9 729.8,155.9 730.0,139.3 730.1,151.4 730.2,188.4 730.4,170.6 730.5,199.2 730.7,153.9 730.8,127.1 730.9,156.1 731.1,158.9 731.2,177.3 731.4,156.4 731.5,199.4 731.6,171.7 731.8,169.9 731.9,205.4 732.0,184.1 732.2,197.0 732.3,181.1 732.5,152.2 732.6,177.8 732.7,150.4 732.9,150.8 733.0,157.3 733.2,159.1 733.3,173.2 733.4,146.8 733.6,172.9 733.7,162.9 733.9,166.7 734.0,171.6 734.1,138.2 734.3,170.4 734.4,185.4 734.5,212.6 734.7,176.7 734.8,147.0 735.0,197.4 735.1,195.7 735.2,178.6 735.4,181.4 735.5,167.5 735.7,175.9 735.8,128.3 735.9,160.6 736.1,172.4 736.2,174.6 736.3,196.6 736.5,154.9 736.6,156.6 736.8,198.6 736.9,124.2 737.0,139.9 737.2,134.8 737.3,150.1 737.5,155.7 737.6,153.6 737.7,176.7 737.9,175.9 738.0,172.7 738.1,159.3 738.3,131.4 738.4,150.9 738.6,182.2 738.7,156.4 738.8,155.4 739.0,157.3 739.1,144.4 739.3,144.5 739.4,177.6 739.5,120.1 739.7,179.3 739.8,150.3 739.9,149.6 740.1,126.8 740.2,159.1 740.4,176.0 740.5,171.8 740.6,130.1 740.8,163.5 740.9,159.9 741.1,177.9 741.2,155.1 741.3,121.5 741.5,151.4 741.6,171.6 741.8,119.3 741.9,137.4 742.0,169.5 742.2,174.6 742.3,149.9 742.4,114.0 742.6,167.0 742.7,168.1 742.9,137.0 743.0,149.6 743.1,188.2 743.3,141.7 743.4,138.0 743.6,150.1 743.7,136.6 743.8,152.3 744.0,154.3 744.1,185.5 744.2,169.5 744.4,106.7 744.5,111.6 744.7,151.9 744.8,168.8 744.9,141.8 745.1,155.2 745.2,181.6 745.4,146.0 745.5,141.3 745.6,139.8 745.8,143.6 745.9,139.2 746.0,114.4 746.2,156.1 746.3,172.0 746.5,118.2 746.6,107.7 746.7,152.1 746.9,145.9 747.0,148.1 747.2,129.2 747.3,123.8 747.4,108.0 747.6,160.4 747.7,128.0 747.8,133.5 748.0,125.2 748.1,124.2 748.3,153.6 748.4,140.5 748.5,129.5 748.7,127.3 748.8,196.1 749.0,115.9 749.1,122.3 749.2,109.5 749.4,162.0 749.5,110.5 749.7,127.6 749.8,169.2 749.9,130.2 750.1,164.3 750.2,163.5 750.3,148.7 750.5,160.6 750.6,128.5 750.8,112.8 750.9,144.9 751.0,113.9 751.2,182.5 751.3,128.6 751.5,150.5 751.6,130.6 751.7,164.4 751.9,112.3 752.0,156.3 752.1,149.3 752.3,158.7 752.4,141.6 752.6,140.2 752.7,168.6 752.8,158.5 753.0,141.0 753.1,126.7 753.3,145.4 753.4,118.6 753.5,151.8 753.7,129.2 753.8,139.7 753.9,128.0 754.1,125.8 754.2,110.2 754.4,135.1 754.5,122.9 754.6,174.6 754.8,109.7 754.9,117.8 755.1,134.8 755.2,156.2 755.3,162.1 755.5,94.4 755.6,162.1 755.7,121.5 755.9,120.3 756.0,144.4 756.2,120.3 756.3,133.4 756.4,129.0 756.6,163.6 756.7,130.0 756.9,141.8 757.0,133.6 757.1,133.6 757.3,134.9 757.4,104.0 757.6,96.6 757.7,121.2 757.8,115.1 758.0,152.2 758.1,157.9 758.2,119.1 758.4,121.4 758.5,92.2 758.7,149.4 758.8,100.3 758.9,105.3 759.1,132.8 759.2,125.5 759.4,93.1 759.5,109.7 759.6,141.9 759.8,142.3 759.9,86.9 760.0,120.7 760.2,115.0 760.3,100.9 760.5,69.9 760.6,166.9 760.7,96.7 760.9,91.4 761.0,130.1 761.2,85.0 761.3,139.8 761.4,98.8 761.6,123.2 761.7,121.5 761.8,142.3 762.0,104.9 762.1,134.7 762.3,142.0 762.4,132.2 762.5,140.1 762.7,116.8 762.8,109.3 763.0,94.7 763.1,120.0 763.2,125.3 763.4,114.4 763.5,81.7 763.6,103.6 763.8,143.3 763.9,119.2 764.1,110.7 764.2,109.2 764.3,117.5 764.5,146.2 764.6,114.8 764.8,143.0 764.9,81.1 765.0,102.4 765.2,123.9 765.3,100.9 765.5,139.4 765.6,84.7 765.7,120.5 765.9,65.8 766.0,80.1 766.1,112.1 766.3,138.6 766.4,105.5 766.6,104.5 766.7,116.4 766.8,116.2 767.0,93.4 767.1,123.8 767.3,105.6 767.4,120.3 767.5,80.3 767.7,148.8 767.8,90.4 767.9,108.4 768.1,117.1 768.2,133.8 768.4,110.7 768.5,147.1 768.6,104.1 768.8,118.8 768.9,124.0 769.1,124.2 769.2,116.0 769.3,138.6 769.5,132.5 769.6,118.1 769.7,100.6 769.9,137.7 770.0,103.4 770.2,107.0 770.3,101.0 770.4,136.9 770.6,93.0 770.7,121.8 770.9,122.8 771.0,159.9 771.1,130.0 771.3,130.7 771.4,159.1 771.5,82.8 771.7,168.3 771.8,112.5 772.0,150.5 772.1,138.2 772.2,147.1 772.4,122.6 772.5,155.5 772.7,116.8 772.8,74.4 772.9,154.2 773.1,145.5 773.2,121.9 773.4,128.3 773.5,148.3 773.6,152.8 773.8,149.1 773.9,153.0 774.0,158.4 774.2,123.4 774.3,94.3 774.5,138.3 774.6,120.0 774.7,160.2 774.9,156.6 775.0,114.5 775.2,137.2 775.3,170.6 775.4,113.8 775.6,144.2 775.7,132.9 775.8,76.6 776.0,152.9 776.1,163.1 776.3,114.6 776.4,114.6 776.5,146.2 776.7,110.0 776.8,92.5 777.0,129.1 777.1,144.3 777.2,102.6 777.4,115.8 777.5,152.2 777.6,154.0 777.8,134.1 777.9,123.7 778.1,172.1 778.2,146.9 778.3,106.9 778.5,165.0 778.6,121.5 778.8,142.0 778.9,156.3 779.0,127.4 779.2,127.8 779.3,160.7 779.5,150.3 779.6,119.2 779.7,139.4 779.9,170.2 780.0,173.0 780.1,116.7 780.3,118.4 780.4,115.7 780.6,131.3 780.7,131.5 780.8,152.5 781.0,131.9 781.1,139.5 781.3,119.3 781.4,175.2 781.5,105.7 781.7,146.1 781.8,134.9 781.9,159.8 782.1,131.8 782.2,166.4 782.4,140.4 782.5,156.0 782.6,157.7 782.8,130.0 782.9,115.9 783.1,112.5 783.2,104.4 783.3,139.3 783.5,165.4 783.6,120.6 783.7,137.7 783.9,171.7 784.0,133.7 784.2,145.5 784.3,182.7 784.4,176.6 784.6,179.4 784.7,175.6 784.9,184.1 785.0,151.0 785.1,167.9 785.3,141.5 785.4,139.9 785.5,127.3 785.7,177.7 785.8,179.4 786.0,187.8 786.1,165.4 786.2,164.9 786.4,168.4 786.5,84.2 786.7,162.0 786.8,166.5 786.9,144.4 787.1,144.2 787.2,172.8 787.4,111.6 787.5,185.9 787.6,124.0 787.8,149.1 787.9,140.5 788.0,165.1 788.2,137.3 788.3,168.7 788.5,100.7 788.6,149.6 788.7,165.4 788.9,167.7 789.0,176.7 789.2,158.9 789.3,151.5 789.4,134.2 789.6,159.6 789.7,158.7 789.8,139.9 790.0,136.2 790.1,162.0 790.3,131.1 790.4,163.1 790.5,125.2 790.7,207.0 790.8,156.0 791.0,181.2 791.1,143.9 791.2,127.2 791.4,168.8 791.5,119.1 791.6,132.3 791.8,141.2 791.9,137.4 792.1,159.2 792.2,152.3 792.3,166.3 792.5,134.8 792.6,128.4 792.8,174.5 792.9,182.6 793.0,146.0 793.2,106.0 793.3,128.7 793.4,171.6 793.6,132.7 793.7,138.7 793.9,129.3 794.0,186.2 794.1,146.7 794.3,180.6 794.4,144.5 794.6,123.9 794.7,153.8 794.8,180.2 795.0,198.9 795.1,195.3 795.3,162.8 795.4,193.4 795.5,168.0 795.7,182.3 795.8,133.6 795.9,148.6 796.1,154.6 796.2,178.7 796.4,170.0 796.5,189.4 796.6,204.3 796.8,201.1 796.9,129.1 797.1,189.5 797.2,146.6 797.3,125.9 797.5,163.6 797.6,179.5 797.7,120.3 797.9,156.3 798.0,186.0 798.2,200.2 798.3,199.1 798.4,160.6 798.6,171.6 798.7,189.5 798.9,126.5 799.0,178.1 799.1,148.1 799.3,188.3 799.4,152.9 799.5,158.8 799.7,169.2 799.8,167.3 800.0,176.6 800.1,177.0 800.2,163.1 800.4,167.9 800.5,194.4 800.7,200.2 800.8,155.9 800.9,160.9 801.1,152.6 801.2,203.7 801.3,149.2 801.5,204.4 801.6,179.3 801.8,146.2 801.9,193.1 802.0,195.9 802.2,207.4 802.3,181.9 802.5,205.4 802.6,196.1 802.7,193.4 802.9,167.4 803.0,189.7 803.2,167.9 803.3,172.7 803.4,202.4 803.6,178.9 803.7,197.5 803.8,162.6 804.0,183.4 804.1,187.7 804.3,139.7 804.4,180.8 804.5,216.5 804.7,149.0 804.8,185.1 805.0,219.8 805.1,158.8 805.2,139.3 805.4,172.2 805.5,120.1 805.6,189.0 805.8,161.3 805.9,182.9 806.1,152.3 806.2,181.6 806.3,188.3 806.5,160.5 806.6,163.6 806.8,143.9 806.9,190.1 807.0,198.5 807.2,157.4 807.3,173.6 807.4,218.6 807.6,182.6 807.7,147.1 807.9,174.1 808.0,155.7 808.1,143.2 808.3,205.3 808.4,150.1 808.6,225.3 808.7,153.3 808.8,181.0 809.0,153.9 809.1,155.8 809.2,140.9 809.4,180.1 809.5,133.7 809.7,184.2 809.8,195.7 809.9,194.1 810.1,163.3 810.2,185.7 810.4,186.0 810.5,175.5 810.6,170.4 810.8,196.5 810.9,158.0 811.1,161.8 811.2,185.8 811.3,156.0 811.5,196.4 811.6,176.5 811.7,163.8 811.9,181.7 812.0,227.6 812.2,202.0 812.3,216.1 812.4,180.2 812.6,138.9 812.7,188.2 812.9,176.9 813.0,219.7 813.1,212.0 813.3,181.4 813.4,203.3 813.5,196.8 813.7,174.2 813.8,205.1 814.0,188.7 814.1,202.1 814.2,238.6 814.4,161.2 814.5,215.5 814.7,169.9 814.8,144.8 814.9,165.8 815.1,198.7 815.2,194.0 815.3,222.8 815.5,166.9 815.6,167.3 815.8,212.8 815.9,217.6 816.0,174.4 816.2,208.5 816.3,176.0 816.5,234.8 816.6,174.1 816.7,168.9 816.9,168.4 817.0,201.2 817.1,204.9 817.3,188.1 817.4,190.9 817.6,162.6 817.7,230.2 817.8,210.4 818.0,216.5 818.1,225.0 818.3,186.1 818.4,185.8 818.5,208.8 818.7,188.8 818.8,175.4 819.0,186.7 819.1,224.4 819.2,206.6 819.4,160.0 819.5,228.8 819.6,176.6 819.8,161.5 819.9,207.8 820.1,188.8 820.2,236.5 820.3,197.4 820.5,174.4 820.6,183.1 820.8,163.4 820.9,167.1 821.0,170.2 821.2,210.2 821.3,169.1 821.4,176.9 821.6,228.5 821.7,225.0 821.9,185.0 822.0,215.3 822.1,207.5 822.3,208.7 822.4,225.3 822.6,188.4 822.7,205.3 822.8,218.1 823.0,160.7 823.1,197.5 823.2,168.7 823.4,175.2 823.5,230.6 823.7,219.3 823.8,158.3 823.9,229.3 824.1,188.0 824.2,199.3 824.4,197.5 824.5,219.1 824.6,189.2 824.8,229.1 824.9,180.1 825.0,219.4 825.2,210.3 825.3,228.6 825.5,236.7 825.6,221.1 825.7,229.3 825.9,179.4 826.0,221.7 826.2,178.2 826.3,228.3 826.4,223.2 826.6,215.8 826.7,196.4 826.9,176.5 827.0,214.2 827.1,189.5 827.3,156.3 827.4,189.8 827.5,236.5 827.7,229.0 827.8,218.7 828.0,180.9 828.1,194.4 828.2,198.9 828.4,228.6 828.5,161.8 828.7,209.4 828.8,211.4 828.9,195.5 829.1,223.8 829.2,225.0 829.3,197.8 829.5,257.0 829.6,181.5 829.8,216.4 829.9,191.5 830.0,205.5 830.2,215.0 830.3,214.5 830.5,195.6 830.6,255.9 830.7,211.7 830.9,191.8 831.0,206.5 831.1,230.5 831.3,214.3 831.4,231.4 831.6,170.1 831.7,179.7 831.8,220.6 832.0,228.6 832.1,211.8 832.3,225.9 832.4,195.1 832.5,207.2 832.7,191.2 832.8,195.9 832.9,178.1 833.1,213.6 833.2,201.9 833.4,185.3 833.5,206.2 833.6,226.7 833.8,199.4 833.9,251.8 834.1,202.0 834.2,191.3 834.3,222.5 834.5,211.3 834.6,183.8 834.8,218.5 834.9,208.6 835.0,213.9 835.2,201.4 835.3,227.3 835.4,223.3 835.6,216.7 835.7,255.8 835.9,247.7 836.0,202.7 836.1,227.4 836.3,234.4 836.4,254.9 836.6,219.8 836.7,199.4 836.8,245.7 837.0,194.7 837.1,235.6 837.2,214.9 837.4,202.4 837.5,196.6 837.7,190.8 837.8,205.7 837.9,228.8 838.1,240.9 838.2,232.9 838.4,187.3 838.5,240.4 838.6,219.2 838.8,212.1 838.9,211.6 839.0,228.0 839.2,198.7 839.3,190.1 839.5,256.8 839.6,243.1 839.7,210.1 839.9,222.6 840.0,219.4 840.2,234.9 840.3,241.4 840.4,254.9 840.6,199.5 840.7,238.7 840.8,186.8 841.0,202.5 841.1,195.0 841.3,241.1 841.4,222.7 841.5,236.4 841.7,256.0 841.8,244.2 842.0,209.0 842.1,217.9 842.2,221.2 842.4,204.7 842.5,224.5 842.7,222.8 842.8,216.6 842.9,191.0 843.1,252.5 843.2,258.3 843.3,255.5 843.5,246.8 843.6,254.3 843.8,218.0 843.9,241.8 844.0,241.3 844.2,229.5 844.3,248.1 844.5,218.0 844.6,213.2 844.7,238.3 844.9,249.0 845.0,211.8 845.1,242.8 845.3,266.2 845.4,232.5 845.6,223.0 845.7,273.1 845.8,204.1 846.0,250.9 846.1,227.9 846.3,208.2 846.4,233.0 846.5,270.8 846.7,208.8 846.8,274.2 846.9,209.5 847.1,257.1 847.2,206.6 847.4,252.3 847.5,229.1 847.6,197.2 847.8,214.9 847.9,221.7 848.1,202.8 848.2,252.0 848.3,232.4 848.5,269.5 848.6,266.0 848.8,244.3 848.9,227.8 849.0,274.2 849.2,285.2 849.3,243.3 849.4,257.3 849.6,266.4 849.7,238.2 849.9,244.5 850.0,263.3 850.1,234.6 850.3,227.5 850.4,210.2 850.6,243.2 850.7,278.8 850.8,217.8 851.0,278.7 851.1,245.3 851.2,244.2 851.4,256.8 851.5,233.7 851.7,219.4 851.8,225.4 851.9,210.8 852.1,221.8 852.2,263.4 852.4,219.3 852.5,203.0 852.6,254.7 852.8,248.2 852.9,286.8 853.0,238.0 853.2,206.2 853.3,266.9 853.5,237.7 853.6,210.0 853.7,272.9 853.9,257.3 854.0,266.6 854.2,230.9 854.3,261.5 854.4,211.3 854.6,238.0 854.7,246.2 854.8,205.6 855.0,266.2 855.1,268.3 855.3,271.6 855.4,245.8 855.5,218.9 855.7,270.3 855.8,219.8 856.0,217.8 856.1,227.1 856.2,237.7 856.4,231.6 856.5,269.3 856.7,262.9 856.8,233.3 856.9,242.8 857.1,280.1 857.2,237.6 857.3,233.8 857.5,236.6 857.6,286.3 857.8,217.7 857.9,251.5 858.0,271.6 858.2,274.0 858.3,253.3 858.5,245.4 858.6,237.9 858.7,220.8 858.9,248.4 859.0,270.6 859.1,247.5 859.3,274.8 859.4,271.9 859.6,259.6 859.7,302.3 859.8,245.7 860.0,240.8 860.1,220.4 860.3,254.2 860.4,274.5 860.5,233.8 860.7,232.1 860.8,285.4 860.9,277.7 861.1,244.2 861.2,273.8 861.4,291.4 861.5,306.5 861.6,274.0 861.8,236.4 861.9,219.0 862.1,245.3 862.2,265.9 862.3,276.4 862.5,211.3 862.6,300.4 862.7,253.2 862.9,228.7 863.0,255.2 863.2,284.7 863.3,282.0 863.4,275.5 863.6,298.8 863.7,226.4 863.9,293.6 864.0,283.7 864.1,282.2 864.3,256.4 864.4,294.9 864.6,242.8 864.7,237.6 864.8,286.6 865.0,245.8 865.1,282.1 865.2,293.4 865.4,262.8 865.5,261.5 865.7,252.5 865.8,234.5 865.9,298.9 866.1,254.9 866.2,277.6 866.4,302.0 866.5,268.1 866.6,287.8 866.8,227.7 866.9,298.4 867.0,258.0 867.2,265.6 867.3,229.2 867.5,257.8 867.6,286.3 867.7,278.3 867.9,265.1 868.0,300.8 868.2,257.9 868.3,250.3 868.4,273.6 868.6,275.3 868.7,273.5 868.8,277.5 869.0,255.1 869.1,292.5 869.3,280.9 869.4,244.7 869.5,277.5 869.7,246.1 869.8,285.1 870.0,248.6 870.1,286.0 870.2,253.0 870.4,292.5 870.5,296.0 870.6,272.5 870.8,290.2 870.9,303.5 871.1,279.6 871.2,285.0 871.3,260.8 871.5,280.7 871.6,271.8 871.8,261.2 871.9,274.3 872.0,264.6 872.2,247.5 872.3,290.4 872.5,279.2 872.6,269.2 872.7,246.4 872.9,312.0 873.0,266.6 873.1,279.5 873.3,241.8 873.4,304.8 873.6,245.8 873.7,250.0 873.8,296.1 874.0,306.5 874.1,261.7 874.3,288.1 874.4,264.6 874.5,291.2 874.7,257.1 874.8,280.7 874.9,272.6 875.1,272.0 875.2,280.5 875.4,249.4 875.5,251.5 875.6,263.5 875.8,305.5 875.9,279.8 876.1,315.8 876.2,289.9 876.3,272.9 876.5,298.7 876.6,280.5 876.7,299.2 876.9,269.5 877.0,245.5 877.2,300.1 877.3,298.1 877.4,310.9 877.6,306.3 877.7,257.1 877.9,312.9 878.0,281.9 878.1,270.4 878.3,259.1 878.4,289.9 878.5,272.7 878.7,281.0 878.8,299.9 879.0,286.1 879.1,317.3 879.2,295.9 879.4,321.5 879.5,290.9 879.7,284.2 879.8,265.1 879.9,286.2 880.1,317.1 880.2,287.3 880.4,324.2 880.5,300.5 880.6,286.9 880.8,288.2 880.9,272.5 881.0,300.6 881.2,282.3 881.3,278.7 881.5,267.8 881.6,284.9 881.7,307.7 881.9,294.8 882.0,293.1 882.2,303.2 882.3,271.3 882.4,318.5 882.6,304.6 882.7,285.0 882.8,286.4 883.0,257.5 883.1,291.7 883.3,294.5 883.4,311.7 883.5,328.4 883.7,279.8 883.8,329.7 884.0,347.9 884.1,259.8 884.2,273.7 884.4,268.8 884.5,260.5 884.6,259.6 884.8,281.6 884.9,258.8 885.1,273.4 885.2,273.0 885.3,290.3 885.5,309.3 885.6,294.0 885.8,316.7 885.9,279.8 886.0,308.2 886.2,297.5 886.3,273.7 886.4,338.7 886.6,291.7 886.7,342.8 886.9,291.5 887.0,337.6 887.1,314.3 887.3,342.8 887.4,342.8 887.6,278.7 887.7,320.1 887.8,263.8 888.0,281.6 888.1,299.7 888.3,336.3 888.4,280.9 888.5,323.8 888.7,291.8 888.8,331.4 888.9,316.7 889.1,311.0 889.2,281.8 889.4,292.9 889.5,316.4 889.6,278.5 889.8,322.6 889.9,304.3 890.1,332.4 890.2,336.6 890.3,298.9 890.5,294.0 890.6,288.6 890.7,289.4 890.9,308.9 891.0,283.9 891.2,331.5 891.3,344.1 891.4,337.7 891.6,300.0 891.7,332.9 891.9,299.1 892.0,369.4 892.1,283.2 892.3,299.4 892.4,308.6 892.5,281.3 892.7,328.1 892.8,257.7 893.0,313.4 893.1,289.8 893.2,267.6 893.4,317.3 893.5,276.8 893.7,280.2 893.8,308.2 893.9,299.0 894.1,330.4 894.2,294.3 894.3,313.6 894.5,268.1 894.6,296.7 894.8,298.8 894.9,262.0 895.0,322.4 895.2,294.6 895.3,293.1 895.5,299.3 895.6,306.2 895.7,339.1 895.9,313.3 896.0,309.1 896.2,333.1 896.3,304.6 896.4,289.6 896.6,296.7 896.7,336.6 896.8,298.1 897.0,308.4 897.1,273.4 897.3,282.4 897.4,312.5 897.5,296.0 897.7,309.6 897.8,313.2 898.0,293.2 898.1,327.3 898.2,284.8 898.4,298.2 898.5,274.8 898.6,297.9 898.8,323.6 898.9,303.2 899.1,337.8 899.2,345.8 899.3,305.4 899.5,295.9 899.6,321.3 899.8,335.0 899.9,293.9 900.0,319.5 900.2,319.6 900.3,333.5 900.4,318.5 900.6,303.3 900.7,361.7 900.9,326.4 901.0,308.5 901.1,325.4 901.3,280.7 901.4,320.9 901.6,331.2 901.7,290.2 901.8,277.0 902.0,314.4 902.1,330.1 902.2,337.7 902.4,305.4 902.5,319.5 902.7,337.2 902.8,313.5 902.9,322.1 903.1,352.1 903.2,330.0 903.4,296.0 903.5,319.3 903.6,363.5 903.8,279.8 903.9,314.9 904.1,330.1 904.2,332.9 904.3,291.2 904.5,348.0 904.6,345.4 904.7,347.8 904.9,328.4 905.0,315.4 905.2,311.9 905.3,299.1 905.4,345.9 905.6,347.3 905.7,329.8 905.9,342.0 906.0,343.9 906.1,322.9 906.3,345.8 906.4,298.2 906.5,330.4 906.7,330.0 906.8,341.7 907.0,333.6 907.1,340.2 907.2,335.2 907.4,340.5 907.5,329.7 907.7,292.1 907.8,344.9 907.9,363.3 908.1,316.2 908.2,314.3 908.3,343.3 908.5,347.4 908.6,338.5 908.8,330.5 908.9,341.1 909.0,332.0 909.2,294.0 909.3,356.0 909.5,312.1 909.6,338.0 909.7,304.6 909.9,327.9 910.0,342.5 910.1,342.1 910.3,333.1 910.4,324.5 910.6,351.8 910.7,307.4 910.8,288.2 911.0,342.0 911.1,309.3 911.3,334.0 911.4,345.5 911.5,363.4 911.7,336.6 911.8,325.9 912.0,320.1 912.1,299.2 912.2,318.4 912.4,315.8 912.5,357.7 912.6,336.2 912.8,373.8 912.9,314.0 913.1,315.9 913.2,371.6 913.3,300.8 913.5,359.7 913.6,350.3 913.8,331.8 913.9,350.5 914.0,367.1 914.2,345.5 914.3,332.2 914.4,357.6 914.6,325.5 914.7,343.0 914.9,349.4 915.0,316.0 915.1,332.5 915.3,363.7 915.4,357.3 915.6,308.2 915.7,343.0 915.8,346.4 916.0,376.2 916.1,318.4 916.2,334.7 916.4,346.8 916.5,310.2 916.7,359.7 916.8,358.6 916.9,353.1 917.1,357.9 917.2,354.0 917.4,293.2 917.5,352.9 917.6,345.3 917.8,321.9 917.9,369.3 918.1,359.0 918.2,378.4 918.3,353.3 918.5,357.9 918.6,383.6 918.7,349.7 918.9,329.0 919.0,332.4 919.2,327.9 919.3,338.2 919.4,318.3 919.6,363.5 919.7,385.0 919.9,367.4 920.0,370.2 920.1,324.3 920.3,342.8 920.4,351.5 920.5,329.3 920.7,307.2 920.8,345.8 921.0,383.3 921.1,362.4 921.2,312.8 921.4,345.9 921.5,321.3 921.7,341.9 921.8,321.0 921.9,330.7 922.1,381.6 922.2,327.7 922.3,331.9 922.5,338.8 922.6,318.0 922.8,376.2 922.9,323.8 923.0,377.4 923.2,340.1 923.3,350.7 923.5,357.2 923.6,377.8 923.7,343.4 923.9,375.9 924.0,342.3 924.1,338.3 924.3,405.0 924.4,332.9 924.6,375.0 924.7,361.0 924.8,318.3 925.0,369.1 925.1,339.9 925.3,330.2 925.4,366.8 925.5,335.6 925.7,378.6 925.8,334.6 926.0,335.6 926.1,366.5 926.2,385.4 926.4,356.9 926.5,335.0 926.6,355.6 926.8,353.8 926.9,324.1 927.1,382.3 927.2,315.8 927.3,355.0 927.5,330.0 927.6,363.9 927.8,344.7 927.9,360.7 928.0,357.5 928.2,395.7 928.3,338.7 928.4,400.2 928.6,373.3 928.7,380.1 928.9,358.2" stroke="#77ac30" stroke-width="1.4"/>
<polyline points="97.4,116.2 97.8,106.0 98.2,119.1 98.6,117.8 99.1,118.4 99.5,118.6 99.9,117.5 100.3,120.8 100.7,121.5 101.1,121.7 101.6,126.6 102.0,123.3 102.4,124.9 102.8,124.9 103.2,125.9 103.6,125.9 104.1,125.7 104.5,128.8 104.9,127.9 105.3,128.4 105.7,129.5 106.1,131.7 106.6,128.6 107.0,130.4 107.4,130.0 107.8,132.8 108.2,135.3 108.6,133.6 109.1,135.1 109.5,134.3 109.9,134.6 110.3,135.1 110.7,136.2 111.1,137.4 111.6,138.1 112.0,145.1 112.4,137.0 112.8,140.3 113.2,139.7 113.6,142.1 114.1,141.0 114.5,141.1 114.9,132.8 115.3,143.5 115.7,144.3 116.1,144.0 116.6,144.0 117.0,145.9 117.4,147.4 117.8,144.6 118.2,148.0 118.6,148.3 119.1,149.5 119.5,156.0 119.9,149.9 120.3,151.7 120.7,148.5 121.1,152.2 121.5,155.2 122.0,152.8 122.4,153.4 122.8,155.9 123.2,155.4 123.6,152.7 124.0,162.9 124.5,150.4 124.9,158.9 125.3,158.2 125.7,156.9 126.1,159.9 126.5,160.5 127.0,162.4 127.4,161.1 127.8,160.3 128.2,163.0 128.6,163.4 129.0,164.2 129.5,166.4 129.9,166.6 130.3,167.5 130.7,168.2 131.1,166.4 131.5,170.3 132.0,169.4 132.4,167.5 132.8,170.3 133.2,169.8 133.6,168.6 134.0,171.5 134.5,170.2 134.9,174.4 135.3,172.5 135.7,172.1 136.1,174.1 136.5,173.8 137.0,181.3 137.4,165.7 137.8,176.9 138.2,177.6 138.6,177.8 139.0,181.1 139.5,179.8 139.9,176.9 140.3,179.6 140.7,181.1 141.1,181.8 141.5,182.2 142.0,183.6 142.4,183.3 142.8,188.7 143.2,187.1 143.6,177.1 144.0,192.3 144.4,186.4 144.9,187.4 145.3,188.4 145.7,188.7 146.1,188.0 146.5,198.3 146.9,189.8 147.4,192.2 147.8,191.4 148.2,190.5 148.6,193.8 149.0,192.0 149.4,194.3 149.9,194.4 150.3,198.7 150.7,194.9 151.1,196.2 151.5,197.5 151.9,198.1 152.4,198.8 152.8,198.4 153.2,201.4 153.6,200.1 154.0,199.2 154.4,202.2 154.9,202.0 155.3,203.1 155.7,205.2 156.1,202.2 156.5,203.8 156.9,205.5 157.4,204.8 157.8,208.3 158.2,206.4 158.6,206.1 159.0,207.4 159.4,209.3 159.9,209.4 160.3,207.8 160.7,210.5 161.1,210.9 161.5,214.0 161.9,214.1 162.4,213.4 162.8,212.1 163.2,215.0 163.6,214.3 164.0,214.5 164.4,215.0 164.8,217.0 165.3,217.8 165.7,219.3 166.1,218.0 166.5,218.0 166.9,219.9 167.3,221.1 167.8,219.5 168.2,221.0 168.6,222.8 169.0,221.8 169.4,224.9 169.8,224.0 170.3,223.9 170.7,225.1 171.1,226.4 171.5,226.0 171.9,227.0 172.3,232.3 172.8,229.0 173.2,229.6 173.6,228.1 174.0,230.2 174.4,231.0 174.8,232.5 175.3,231.7 175.7,233.7 176.1,234.2 176.5,230.7 176.9,235.4 177.3,234.8 177.8,236.3 178.2,235.0 178.6,238.2 179.0,235.4 179.4,238.5 179.8,240.6 180.3,238.8 180.7,240.1 181.1,240.1 181.5,240.8 181.9,241.7 182.3,243.0 182.8,244.3 183.2,244.6 183.6,243.0 184.0,245.2 184.4,245.1 184.8,244.2 185.3,245.8 185.7,245.8 186.1,248.2 186.5,256.9 186.9,250.2 187.3,247.6 187.7,249.5 188.2,250.2 188.6,250.9 189.0,253.0 189.4,252.1 189.8,252.5 190.2,253.4 190.7,255.9 191.1,256.6 191.5,255.5 191.9,255.9 192.3,258.2 192.7,258.2 193.2,258.7 193.6,260.4 194.0,253.8 194.4,257.7 194.8,261.1 195.2,263.4 195.7,262.1 196.1,263.4 196.5,262.5 196.9,265.2 197.3,265.7 197.7,265.1 198.2,266.0 198.6,264.4 199.0,264.7 199.4,267.5 199.8,264.0 200.2,268.2 200.7,269.3 201.1,269.2 201.5,269.7 201.9,270.8 202.3,271.5 202.7,268.7 203.2,275.3 203.6,275.2 204.0,275.1 204.4,273.7 204.8,275.2 205.2,278.0 205.7,275.1 206.1,277.4 206.5,278.9 206.9,278.3 207.3,278.1 207.7,279.0 208.2,280.4 208.6,280.4 209.0,281.0 209.4,281.2 209.8,282.9 210.2,281.5 210.6,284.2 211.1,283.4 211.5,283.4 211.9,287.0 212.3,287.2 212.7,287.3 213.1,287.5 213.6,289.6 214.0,289.9 214.4,286.5 214.8,289.0 215.2,287.4 215.6,290.1 216.1,290.5 216.5,293.0 216.9,290.6 217.3,293.7 217.7,293.3 218.1,296.4 218.6,294.6 219.0,295.6 219.4,297.5 219.8,288.0 220.2,296.7 220.6,299.9 221.1,299.7 221.5,299.3 221.9,296.9 222.3,303.0 222.7,302.7 223.1,302.8 223.6,302.7 224.0,301.9 224.4,303.2 224.8,304.4 225.2,303.9 225.6,304.3 226.1,307.2 226.5,307.4 226.9,307.8 227.3,313.8 227.7,308.6 228.1,308.9 228.6,309.7 229.0,309.8 229.4,311.2 229.8,311.2 230.2,312.3 230.6,315.1 231.1,314.9 231.5,313.2 231.9,315.2 232.3,317.8 232.7,315.1 233.1,316.6 233.5,316.0 234.0,318.6 234.4,318.9 234.8,319.0 235.2,318.6 235.6,315.8 236.0,321.1 236.5,321.0 236.9,322.7 237.3,322.2 237.7,330.2 238.1,322.6 238.5,324.4 239.0,326.4 239.4,321.4 239.8,324.9 240.2,327.5 240.6,325.1 241.0,328.8 241.5,328.8 241.9,328.8 242.3,335.2 242.7,331.6 243.1,329.0 243.5,330.9 244.0,332.5 244.4,332.0 244.8,327.1 245.2,334.1 245.6,334.5 246.0,337.2 246.5,336.7 246.9,338.8 247.3,337.3 247.7,343.7 248.1,338.6 248.5,330.4 249.0,340.8 249.4,341.5 249.8,340.4 250.2,343.4 250.6,341.6 251.0,344.9 251.5,344.9 251.9,344.8 252.3,342.5 252.7,344.4 253.1,345.9 253.5,346.3 253.9,349.2 254.4,347.6 254.8,347.8 255.2,348.9 255.6,350.0 256.0,350.3 256.4,351.0 256.9,351.1 257.3,352.4 257.7,353.4 258.1,351.9 258.5,355.2 258.9,354.5 259.4,353.5 259.8,355.7 260.2,353.8 260.6,356.8 261.0,357.9 261.4,356.5 261.9,356.6 262.3,358.5 262.7,359.1 263.1,362.8 263.5,361.5 263.9,362.3 264.4,363.4 264.8,360.3 265.2,358.7 265.6,360.4 266.0,361.2 266.4,360.6 266.9,359.4 267.3,356.7 267.7,357.4 268.1,359.9 268.5,354.6 268.9,356.9 269.4,355.8 269.8,353.8 270.2,352.6 270.6,356.0 271.0,351.0 271.4,351.0 271.9,350.4 272.3,354.9 272.7,350.0 273.1,355.5 273.5,348.9 273.9,348.8 274.4,347.1 274.8,346.6 275.2,347.0 275.6,344.2 276.0,345.9 276.4,343.7 276.8,340.2 277.3,343.0 277.7,343.9 278.1,343.3 278.5,341.2 278.9,342.2 279.3,347.4 279.8,338.5 280.2,339.0 280.6,339.3 281.0,340.0 281.4,338.9 281.8,336.2 282.3,336.3 282.7,336.2 283.1,332.3 283.5,333.1 283.9,332.9 284.3,330.5 284.8,332.6 285.2,332.2 285.6,327.7 286.0,331.3 286.4,325.6 286.8,329.7 287.3,329.1 287.7,329.9 288.1,328.0 288.5,332.5 288.9,326.0 289.3,324.6 289.8,332.8 290.2,324.2 290.6,323.2 291.0,322.9 291.4,323.0 291.8,319.9 292.3,321.5 292.7,321.4 293.1,320.5 293.5,318.8 293.9,319.6 294.3,319.7 294.8,316.4 295.2,318.1 295.6,315.4 296.0,315.0 296.4,315.7 296.8,315.8 297.3,315.9 297.7,312.9 298.1,313.4 298.5,310.6 298.9,310.9 299.3,316.9 299.7,310.8 300.2,308.7 300.6,307.8 301.0,308.0 301.4,306.3 301.8,306.5 302.2,309.8 302.7,307.2 303.1,306.9 303.5,306.2 303.9,304.3 304.3,304.2 304.7,294.8 305.2,303.8 305.6,302.0 306.0,302.1 306.4,301.9 306.8,299.8 307.2,297.7 307.7,298.0 308.1,298.5 308.5,296.8 308.9,298.4 309.3,295.6 309.7,296.9 310.2,296.0 310.6,295.9 311.0,295.3 311.4,293.8 311.8,298.7 312.2,293.0 312.7,287.6 313.1,292.7 313.5,290.6 313.9,290.3 314.3,290.6 314.7,292.0 315.2,289.5 315.6,285.9 316.0,288.8 316.4,285.5 316.8,286.7 317.2,286.9 317.7,286.4 318.1,283.4 318.5,283.6 318.9,283.5 319.3,280.9 319.7,281.2 320.2,280.2 320.6,279.1 321.0,279.7 321.4,278.3 321.8,276.8 322.2,269.7 322.6,278.1 323.1,276.3 323.5,276.5 323.9,276.5 324.3,274.6 324.7,265.5 325.1,271.4 325.6,272.7 326.0,269.9 326.4,275.0 326.8,272.3 327.2,266.9 327.6,269.9 328.1,270.6 328.5,277.8 328.9,268.1 329.3,267.0 329.7,268.1 330.1,262.1 330.6,264.3 331.0,264.8 331.4,265.3 331.8,265.0 332.2,264.3 332.6,263.0 333.1,265.6 333.5,262.3 333.9,261.8 334.3,267.3 334.7,260.0 335.1,258.8 335.6,257.9 336.0,257.5 336.4,257.7 336.8,257.3 337.2,256.0 337.6,255.2 338.1,255.2 338.5,253.9 338.9,252.9 339.3,252.8 339.7,251.9 340.1,250.9 340.6,250.4 341.0,250.2 341.4,250.1 341.8,248.5 342.2,248.5 342.6,249.5 343.1,250.0 343.5,244.7 343.9,243.5 344.3,245.3 344.7,242.5 345.1,243.4 345.5,248.4 346.0,244.3 346.4,241.6 346.8,244.2 347.2,249.5 347.6,241.7 348.0,241.2 348.5,239.0 348.9,239.3 349.3,239.3 349.7,237.3 350.1,236.7 350.5,236.1 351.0,238.8 351.4,234.5 351.8,236.0 352.2,233.6 352.6,234.0 353.0,235.0 353.5,236.7 353.9,232.1 354.3,230.6 354.7,229.5 355.1,228.8 355.5,229.9 356.0,228.6 356.4,234.2 356.8,228.5 357.2,225.8 357.6,226.5 358.0,226.3 358.5,225.4 358.9,226.7 359.3,223.7 359.7,224.4 360.1,221.6 360.5,220.7 361.0,222.9 361.4,220.6 361.8,221.1 362.2,219.8 362.6,219.2 363.0,216.7 363.5,217.5 363.9,217.5 364.3,217.1 364.7,218.0 365.1,216.4 365.5,215.1 365.9,214.4 366.4,215.2 366.8,213.2 367.2,210.6 367.6,210.1 368.0,217.8 368.4,210.8 368.9,212.1 369.3,211.2 369.7,209.4 370.1,206.7 370.5,210.3 370.9,209.1 371.4,206.9 371.8,208.1 372.2,205.8 372.6,204.4 373.0,204.3 373.4,204.0 373.9,202.0 374.3,202.0 374.7,200.9 375.1,200.4 375.5,200.2 375.9,199.0 376.4,202.0 376.8,199.4 377.2,199.8 377.6,198.5 378.0,196.9 378.4,198.2 378.9,196.1 379.3,190.5 379.7,191.8 380.1,191.8 380.5,191.7 380.9,193.5 381.4,192.3 381.8,190.0 382.2,192.0 382.6,188.5 383.0,189.1 383.4,189.1 383.9,188.8 384.3,189.6 384.7,187.9 385.1,187.8 385.5,186.5 385.9,185.1 386.4,183.8 386.8,184.2 387.2,183.1 387.6,181.5 388.0,177.0 388.4,182.0 388.8,181.4 389.3,180.7 389.7,178.2 390.1,178.9 390.5,178.9 390.9,176.0 391.3,180.2 391.8,175.2 392.2,175.5 392.6,176.1 393.0,174.1 393.4,174.3 393.8,175.6 394.3,170.4 394.7,172.9 395.1,171.1 395.5,170.2 395.9,171.7 396.3,166.7 396.8,167.5 397.2,168.5 397.6,167.8 398.0,168.5 398.4,165.7 398.8,166.4 399.3,167.8 399.7,163.8 400.1,160.1 400.5,165.2 400.9,163.3 401.3,163.2 401.8,158.5 402.2,155.8 402.6,161.3 403.0,160.6 403.4,160.0 403.8,159.1 404.3,157.9 404.7,160.3 405.1,157.1 405.5,156.9 405.9,154.8 406.3,154.0 406.8,154.6 407.2,154.4 407.6,153.3 408.0,153.0 408.4,152.0 408.8,150.8 409.3,154.2 409.7,152.3 410.1,148.9 410.5,149.9 410.9,147.5 411.3,149.0 411.7,148.2 412.2,137.5 412.6,141.6 413.0,147.3 413.4,144.5 413.8,144.5 414.2,146.1 414.7,142.8 415.1,142.7 415.5,143.1 415.9,141.2 416.3,140.9 416.7,140.7 417.2,139.8 417.6,139.0 418.0,137.7 418.4,138.1 418.8,137.9 419.2,136.8 419.7,137.4 420.1,137.7 420.5,134.6 420.9,135.3 421.3,134.1 421.7,133.8 422.2,133.6 422.6,132.6 423.0,129.8 423.4,131.8 423.8,131.1 424.2,128.8 424.7,128.6 425.1,126.9 425.5,125.2 425.9,128.3 426.3,125.4 426.7,130.6 427.2,125.0 427.6,126.1 428.0,124.7 428.4,121.9 428.8,124.9 429.2,124.2 429.7,121.3 430.1,119.8 430.5,120.9 430.9,119.2 431.3,119.5 431.7,119.9 432.2,119.8 432.6,120.1 433.0,119.3 433.4,121.0 433.8,124.4 434.2,122.2 434.6,124.2 435.1,125.2 435.5,125.0 435.9,124.3 436.3,126.0 436.7,127.0 437.1,125.1 437.6,128.2 438.0,128.4 438.4,126.2 438.8,130.7 439.2,130.4 439.6,133.2 440.1,131.7 440.5,132.8 440.9,134.3 441.3,134.6 441.7,132.1 442.1,134.2 442.6,135.8 443.0,136.6 443.4,138.1 443.8,135.7 444.2,137.0 444.6,138.9 445.1,136.7 445.5,141.5 445.9,143.3 446.3,141.0 446.7,141.5 447.1,142.0 447.6,142.1 448.0,143.6 448.4,150.1 448.8,143.4 449.2,146.0 449.6,145.7 450.1,146.9 450.5,146.1 450.9,149.1 451.3,147.5 451.7,150.4 452.1,151.3 452.6,158.5 453.0,148.5 453.4,151.8 453.8,151.6 454.2,152.8 454.6,148.7 455.0,155.5 455.5,154.4 455.9,151.9 456.3,155.9 456.7,159.1 457.1,156.3 457.5,156.8 458.0,158.4 458.4,158.7 458.8,158.2 459.2,160.0 459.6,159.9 460.0,159.8 460.5,156.9 460.9,162.9 461.3,162.4 461.7,163.6 462.1,163.6 462.5,163.7 463.0,164.4 463.4,166.4 463.8,167.0 464.2,166.6 464.6,167.1 465.0,168.6 465.5,172.7 465.9,160.0 466.3,171.0 466.7,170.9 467.1,171.7 467.5,172.3 468.0,171.5 468.4,172.5 468.8,173.0 469.2,172.9 469.6,175.3 470.0,175.7 470.5,175.6 470.9,175.1 471.3,180.1 471.7,169.0 472.1,178.5 472.5,178.7 473.0,179.1 473.4,179.9 473.8,180.3 474.2,181.1 474.6,181.7 475.0,188.7 475.5,185.8 475.9,183.0 476.3,183.2 476.7,187.1 477.1,185.9 477.5,185.4 477.9,189.2 478.4,186.0 478.8,188.3 479.2,187.3 479.6,191.4 480.0,189.7 480.4,191.8 480.9,191.1 481.3,194.6 481.7,192.9 482.1,193.8 482.5,192.0 482.9,195.5 483.4,195.5 483.8,197.8 484.2,198.4 484.6,195.8 485.0,197.4 485.4,198.5 485.9,199.3 486.3,199.8 486.7,200.3 487.1,201.4 487.5,201.0 487.9,201.4 488.4,203.0 488.8,203.9 489.2,204.7 489.6,203.6 490.0,205.3 490.4,210.8 490.9,212.4 491.3,206.8 491.7,204.8 492.1,207.1 492.5,209.0 492.9,208.0 493.4,210.6 493.8,209.9 494.2,210.2 494.6,210.9 495.0,213.5 495.4,214.5 495.9,212.7 496.3,211.8 496.7,213.5 497.1,214.4 497.5,215.2 497.9,208.1 498.4,215.8 498.8,219.2 499.2,217.9 499.6,220.4 500.0,220.6 500.4,216.3 500.8,222.1 501.3,221.5 501.7,221.3 502.1,221.4 502.5,221.3 502.9,222.0 503.3,224.4 503.8,225.2 504.2,225.4 504.6,226.1 505.0,227.2 505.4,226.8 505.8,228.4 506.3,222.8 506.7,227.5 507.1,233.9 507.5,230.6 507.9,228.3 508.3,234.2 508.8,221.8 509.2,232.5 509.6,236.4 510.0,232.6 510.4,237.9 510.8,237.4 511.3,241.7 511.7,238.6 512.1,235.7 512.5,235.9 512.9,239.1 513.3,240.2 513.8,239.9 514.2,240.4 514.6,245.1 515.0,240.1 515.4,241.1 515.8,241.5 516.3,241.0 516.7,245.3 517.1,251.1 517.5,247.0 517.9,249.1 518.3,246.5 518.8,245.4 519.2,244.5 519.6,247.2 520.0,247.3 520.4,251.3 520.8,250.4 521.3,250.4 521.7,250.1 522.1,251.4 522.5,252.6 522.9,252.0 523.3,252.3 523.7,252.1 524.2,253.1 524.6,258.7 525.0,255.2 525.4,258.9 525.8,255.5 526.2,258.7 526.7,258.3 527.1,259.4 527.5,260.2 527.9,265.1 528.3,260.6 528.7,261.5 529.2,262.0 529.6,264.0 530.0,262.3 530.4,262.6 530.8,264.6 531.2,265.3 531.7,259.7 532.1,266.2 532.5,265.3 532.9,270.4 533.3,266.9 533.7,268.0 534.2,268.8 534.6,267.9 535.0,272.7 535.4,270.5 535.8,272.8 536.2,274.1 536.7,268.8 537.1,273.9 537.5,272.7 537.9,275.6 538.3,275.8 538.7,275.0 539.2,278.0 539.6,277.7 540.0,277.6 540.4,286.0 540.8,280.6 541.2,280.5 541.7,279.9 542.1,280.2 542.5,281.3 542.9,282.5 543.3,282.4 543.7,285.5 544.1,283.5 544.6,283.0 545.0,284.7 545.4,285.5 545.8,287.5 546.2,287.2 546.6,286.1 547.1,289.6 547.5,289.2 547.9,290.0 548.3,291.6 548.7,290.3 549.1,291.4 549.6,290.9 550.0,292.7 550.4,293.6 550.8,293.7 551.2,289.6 551.6,294.8 552.1,293.3 552.5,295.0 552.9,297.3 553.3,302.1 553.7,298.4 554.1,298.8 554.6,299.6 555.0,300.7 555.4,297.5 555.8,301.7 556.2,301.4 556.6,303.3 557.1,302.0 557.5,302.5 557.9,304.4 558.3,303.8 558.7,307.0 559.1,308.2 559.6,305.4 560.0,307.9 560.4,308.3 560.8,307.2 561.2,308.2 561.6,310.6 562.1,307.3 562.5,309.3 562.9,312.8 563.3,311.0 563.7,312.8 564.1,309.2 564.6,312.7 565.0,313.7 565.4,313.1 565.8,316.5 566.2,316.2 566.6,316.1 567.0,318.2 567.5,318.0 567.9,317.4 568.3,322.0 568.7,317.6 569.1,323.7 569.5,320.2 570.0,321.1 570.4,319.7 570.8,324.0 571.2,324.7 571.6,322.4 572.0,324.9 572.5,324.3 572.9,326.7 573.3,324.9 573.7,332.9 574.1,327.1 574.5,326.7 575.0,328.8 575.4,328.1 575.8,337.5 576.2,332.8 576.6,327.0 577.0,331.1 577.5,331.1 577.9,333.7 578.3,336.8 578.7,333.3 579.1,333.7 579.5,334.2 580.0,334.5 580.4,336.1 580.8,336.8 581.2,339.0 581.6,337.8 582.0,339.1 582.5,340.3 582.9,338.6 583.3,336.4 583.7,340.3 584.1,339.8 584.5,341.6 585.0,341.3 585.4,338.7 585.8,340.9 586.2,348.1 586.6,345.8 587.0,349.0 587.5,345.2 587.9,345.8 588.3,346.1 588.7,347.5 589.1,349.1 589.5,347.5 589.9,351.9 590.4,348.3 590.8,351.9 591.2,353.5 591.6,352.2 592.0,353.0 592.4,352.7 592.9,355.8 593.3,355.1 593.7,350.5 594.1,356.5 594.5,360.0 594.9,358.4 595.4,356.7 595.8,358.3 596.2,356.5 596.6,361.9 597.0,358.5 597.4,360.9 597.9,360.7 598.3,361.8 598.7,362.7 599.1,360.6 599.5,359.2 599.9,359.8 600.4,359.7 600.8,360.0 601.2,356.8 601.6,354.9 602.0,356.9 602.4,356.7 602.9,354.8 603.3,355.5 603.7,352.6 604.1,353.2 604.5,351.7 604.9,356.6 605.4,353.6 605.8,352.5 606.2,352.1 606.6,350.7 607.0,349.3 607.4,350.9 607.9,346.9 608.3,344.9 608.7,346.7 609.1,348.0 609.5,346.7 609.9,345.4 610.4,346.0 610.8,344.6 611.2,343.9 611.6,342.9 612.0,342.9 612.4,338.1 612.8,342.6 613.3,341.8 613.7,340.1 614.1,340.3 614.5,339.1 614.9,336.9 615.3,337.4 615.8,339.0 616.2,337.3 616.6,333.6 617.0,334.5 617.4,333.2 617.8,334.1 618.3,331.2 618.7,332.9 619.1,332.7 619.5,332.3 619.9,331.1 620.3,331.2 620.8,326.0 621.2,329.9 621.6,329.5 622.0,327.0 622.4,326.9 622.8,326.8 623.3,326.8 623.7,325.3 624.1,323.8 624.5,322.5 624.9,323.5 625.3,326.6 625.8,321.0 626.2,321.3 626.6,320.5 627.0,311.3 627.4,318.9 627.8,321.1 628.3,318.4 628.7,318.5 629.1,317.6 629.5,318.0 629.9,315.4 630.3,317.5 630.8,314.6 631.2,314.7 631.6,312.7 632.0,315.7 632.4,312.5 632.8,311.1 633.3,310.4 633.7,307.9 634.1,311.0 634.5,312.2 634.9,308.1 635.3,308.7 635.7,313.2 636.2,307.1 636.6,307.5 637.0,307.1 637.4,304.7 637.8,303.3 638.2,302.7 638.7,303.4 639.1,302.3 639.5,302.7 639.9,300.1 640.3,300.9 640.7,299.7 641.2,300.0 641.6,300.3 642.0,299.5 642.4,299.2 642.8,298.3 643.2,297.0 643.7,298.0 644.1,296.0 644.5,292.9 644.9,296.4 645.3,295.3 645.7,294.1 646.2,289.8 646.6,293.0 647.0,289.9 647.4,291.5 647.8,292.3 648.2,288.0 648.7,283.9 649.1,288.8 649.5,286.7 649.9,286.4 650.3,288.5 650.7,286.9 651.2,285.9 651.6,284.0 652.0,286.3 652.4,290.3 652.8,283.1 653.2,282.9 653.7,281.7 654.1,282.9 654.5,280.6 654.9,280.7 655.3,278.7 655.7,280.1 656.1,280.3 656.6,277.4 657.0,284.3 657.4,276.3 657.8,276.0 658.2,276.2 658.6,273.7 659.1,272.0 659.5,272.7 659.9,273.6 660.3,272.3 660.7,273.2 661.1,269.8 661.6,271.6 662.0,268.7 662.4,268.6 662.8,268.6 663.2,265.0 663.6,266.2 664.1,264.3 664.5,264.2 664.9,270.1 665.3,265.1 665.7,265.9 666.1,264.2 666.6,261.1 667.0,262.4 667.4,260.2 667.8,261.0 668.2,260.6 668.6,260.9 669.1,258.9 669.5,258.4 669.9,260.4 670.3,255.2 670.7,257.3 671.1,255.5 671.6,256.3 672.0,253.8 672.4,256.7 672.8,250.9 673.2,253.6 673.6,253.5 674.1,258.1 674.5,251.3 674.9,250.2 675.3,249.7 675.7,251.0 676.1,249.5 676.6,247.1 677.0,249.5 677.4,245.6 677.8,247.7 678.2,253.0 678.6,238.5 679.0,244.6 679.5,242.7 679.9,239.2 680.3,242.3 680.7,242.9 681.1,240.8 681.5,244.0 682.0,240.3 682.4,240.5 682.8,241.1 683.2,237.6 683.6,238.4 684.0,237.4 684.5,236.0 684.9,235.4 685.3,234.7 685.7,235.6 686.1,234.8 686.5,235.4 687.0,233.9 687.4,232.5 687.8,231.7 688.2,230.5 688.6,230.9 689.0,231.6 689.5,229.8 689.9,227.7 690.3,228.1 690.7,228.2 691.1,226.7 691.5,229.0 692.0,223.9 692.4,226.0 692.8,225.6 693.2,223.2 693.6,223.1 694.0,224.2 694.5,228.9 694.9,223.7 695.3,219.8 695.7,219.7 696.1,215.5 696.5,219.9 697.0,215.2 697.4,218.2 697.8,218.9 698.2,216.8 698.6,216.1 699.0,216.1 699.5,216.3 699.9,216.1 700.3,212.3 700.7,214.3 701.1,211.0 701.5,218.2 701.9,210.5 702.4,211.5 702.8,218.1 703.2,211.7 703.6,208.2 704.0,208.7 704.4,208.5 704.9,204.5 705.3,208.5 705.7,208.7 706.1,204.6 706.5,207.3 706.9,203.7 707.4,205.4 707.8,202.3 708.2,203.1 708.6,202.6 709.0,199.4 709.4,200.3 709.9,200.5 710.3,197.6 710.7,201.1 711.1,203.1 711.5,196.8 711.9,194.6 712.4,197.6 712.8,196.2 713.2,194.6 713.6,194.1 714.0,192.8 714.4,192.7 714.9,195.2 715.3,191.1 715.7,191.6 716.1,190.8 716.5,189.4 716.9,189.8 717.4,189.0 717.8,189.2 718.2,189.4 718.6,187.0 719.0,185.8 719.4,187.3 719.9,186.1 720.3,185.5 720.7,184.7 721.1,183.2 721.5,186.4 721.9,182.3 722.4,179.9 722.8,177.5 723.2,180.2 723.6,180.3 724.0,180.4 724.4,179.3 724.8,177.7 725.3,179.0 725.7,175.5 726.1,175.7 726.5,174.3 726.9,173.8 727.3,174.3 727.8,171.0 728.2,173.4 728.6,173.9 729.0,166.4 729.4,167.9 729.8,171.7 730.3,170.2 730.7,168.6 731.1,166.6 731.5,169.6 731.9,171.1 732.3,170.2 732.8,165.8 733.2,164.6 733.6,163.5 734.0,164.3 734.4,165.1 734.8,164.3 735.3,163.3 735.7,163.1 736.1,161.9 736.5,159.7 736.9,160.7 737.3,161.8 737.8,161.5 738.2,157.1 738.6,156.9 739.0,157.2 739.4,156.4 739.8,157.5 740.3,156.3 740.7,155.8 741.1,154.3 741.5,154.1 741.9,151.8 742.3,151.8 742.8,151.8 743.2,157.9 743.6,153.0 744.0,148.9 744.4,150.9 744.8,148.9 745.2,149.5 745.7,145.9 746.1,147.0 746.5,145.4 746.9,146.9 747.3,145.3 747.7,140.9 748.2,145.0 748.6,144.0 749.0,141.8 749.4,150.0 749.8,143.1 750.2,141.4 750.7,141.1 751.1,135.7 751.5,139.1 751.9,141.5 752.3,137.7 752.7,136.5 753.2,130.9 753.6,137.1 754.0,131.9 754.4,136.4 754.8,139.7 755.2,134.6 755.7,135.0 756.1,133.5 756.5,130.7 756.9,133.0 757.3,131.4 757.7,130.1 758.2,126.9 758.6,122.6 759.0,129.2 759.4,129.5 759.8,127.3 760.2,126.8 760.7,125.7 761.1,126.1 761.5,125.3 761.9,124.7 762.3,118.3 762.7,122.5 763.2,127.0 763.6,121.6 764.0,121.5 764.4,121.0 764.8,120.3 765.2,120.3 765.7,119.6 766.1,121.2 766.5,120.7 766.9,123.7 767.3,122.9 767.7,122.6 768.1,121.4 768.6,126.2 769.0,123.6 769.4,122.1 769.8,127.0 770.2,128.6 770.6,125.4 771.1,127.4 771.5,123.3 771.9,128.3 772.3,130.1 772.7,131.2 773.1,130.9 773.6,131.9 774.0,133.9 774.4,133.1 774.8,133.2 775.2,138.3 775.6,133.6 776.1,127.5 776.5,136.6 776.9,137.4 777.3,137.5 777.7,136.7 778.1,139.0 778.6,139.8 779.0,139.9 779.4,139.0 779.8,141.3 780.2,141.0 780.6,140.4 781.1,142.3 781.5,142.1 781.9,142.1 782.3,143.8 782.7,144.4 783.1,145.3 783.6,146.1 784.0,147.5 784.4,147.2 784.8,146.6 785.2,150.5 785.6,149.9 786.1,141.9 786.5,150.0 786.9,151.0 787.3,151.1 787.7,152.0 788.1,151.9 788.6,157.0 789.0,158.0 789.4,154.4 789.8,153.4 790.2,155.7 790.6,155.6 791.0,156.5 791.5,152.5 791.9,161.7 792.3,160.1 792.7,158.4 793.1,160.1 793.5,160.8 794.0,163.1 794.4,161.1 794.8,163.3 795.2,165.0 795.6,168.3 796.0,164.6 796.5,166.8 796.9,165.0 797.3,166.1 797.7,169.2 798.1,167.6 798.5,167.5 799.0,167.7 799.4,162.4 799.8,170.2 800.2,170.5 800.6,174.0 801.0,173.3 801.5,171.0 801.9,166.6 802.3,173.0 802.7,173.6 803.1,173.3 803.5,176.4 804.0,173.8 804.4,177.0 804.8,178.4 805.2,176.9 805.6,177.8 806.0,180.1 806.5,171.5 806.9,179.2 807.3,180.3 807.7,182.4 808.1,181.0 808.5,183.0 809.0,183.2 809.4,182.5 809.8,185.3 810.2,174.1 810.6,184.9 811.0,185.6 811.5,186.3 811.9,187.5 812.3,191.9 812.7,182.9 813.1,189.1 813.5,185.6 813.9,191.9 814.4,189.4 814.8,192.5 815.2,193.3 815.6,194.5 816.0,194.2 816.4,190.9 816.9,195.4 817.3,195.1 817.7,196.8 818.1,197.2 818.5,196.0 818.9,203.0 819.4,199.7 819.8,198.5 820.2,200.4 820.6,199.2 821.0,199.1 821.4,199.4 821.9,201.6 822.3,204.4 822.7,202.8 823.1,203.6 823.5,205.5 823.9,205.9 824.4,205.3 824.8,207.7 825.2,208.6 825.6,207.2 826.0,205.4 826.4,206.5 826.9,203.0 827.3,210.6 827.7,207.8 828.1,208.5 828.5,212.5 828.9,214.5 829.4,211.8 829.8,211.5 830.2,213.2 830.6,213.9 831.0,213.7 831.4,214.5 831.9,216.9 832.3,220.5 832.7,215.0 833.1,217.6 833.5,217.2 833.9,221.4 834.4,220.3 834.8,222.5 835.2,221.8 835.6,221.6 836.0,223.2 836.4,222.2 836.8,223.2 837.3,224.5 837.7,220.6 838.1,227.9 838.5,229.3 838.9,225.9 839.3,219.1 839.8,229.1 840.2,226.6 840.6,228.7 841.0,228.8 841.4,226.6 841.8,230.3 842.3,230.9 842.7,232.5 843.1,232.3 843.5,233.4 843.9,234.6 844.3,235.7 844.8,235.4 845.2,236.4 845.6,235.6 846.0,237.2 846.4,232.3 846.8,237.0 847.3,238.4 847.7,237.8 848.1,240.1 848.5,246.8 848.9,242.0 849.3,237.4 849.8,241.7 850.2,241.7 850.6,243.7 851.0,243.7 851.4,245.1 851.8,246.3 852.3,247.7 852.7,249.2 853.1,251.3 853.5,247.3 853.9,256.7 854.3,249.3 854.8,248.4 855.2,250.9 855.6,251.9 856.0,252.0 856.4,251.9 856.8,252.4 857.2,252.1 857.7,253.9 858.1,256.0 858.5,253.4 858.9,254.7 859.3,259.5 859.7,258.2 860.2,256.7 860.6,259.0 861.0,258.3 861.4,260.6 861.8,260.9 862.2,261.2 862.7,257.1 863.1,262.6 863.5,261.9 863.9,264.9 864.3,263.3 864.7,264.0 865.2,264.1 865.6,266.6 866.0,264.8 866.4,265.0 866.8,267.7 867.2,268.8 867.7,270.4 868.1,269.1 868.5,266.4 868.9,269.1 869.3,270.3 869.7,270.4 870.2,271.4 870.6,272.5 871.0,272.7 871.4,273.6 871.8,273.4 872.2,273.8 872.7,276.0 873.1,277.7 873.5,278.4 873.9,277.1 874.3,283.0 874.7,278.8 875.2,280.7 875.6,280.3 876.0,283.3 876.4,281.9 876.8,282.1 877.2,283.2 877.7,283.0 878.1,285.2 878.5,284.4 878.9,285.2 879.3,289.9 879.7,285.3 880.1,287.6 880.6,288.5 881.0,288.8 881.4,287.3 881.8,291.8 882.2,289.9 882.6,288.4 883.1,294.7 883.5,290.5 883.9,288.0 884.3,292.2 884.7,294.6 885.1,292.5 885.6,292.7 886.0,294.2 886.4,295.9 886.8,297.1 887.2,297.5 887.6,296.8 888.1,297.8 888.5,298.5 888.9,302.3 889.3,300.6 889.7,299.6 890.1,298.9 890.6,299.0 891.0,302.9 891.4,302.7 891.8,302.2 892.2,303.2 892.6,304.7 893.1,303.5 893.5,305.3 893.9,304.3 894.3,307.1 894.7,311.3 895.1,307.3 895.6,312.4 896.0,310.8 896.4,310.2 896.8,312.2 897.2,311.0 897.6,317.7 898.1,311.6 898.5,311.6 898.9,316.0 899.3,315.3 899.7,313.4 900.1,315.7 900.6,316.3 901.0,318.3 901.4,319.2 901.8,318.2 902.2,319.7 902.6,319.7 903.0,320.4 903.5,323.2 903.9,321.3 904.3,323.4 904.7,322.7 905.1,323.7 905.5,325.4 906.0,326.2 906.4,324.5 906.8,326.0 907.2,327.7 907.6,330.8 908.0,327.1 908.5,327.9 908.9,330.9 909.3,333.4 909.7,332.3 910.1,330.9 910.5,331.5 911.0,335.1 911.4,333.7 911.8,330.8 912.2,336.0 912.6,333.6 913.0,336.6 913.5,336.4 913.9,342.3 914.3,338.3 914.7,338.8 915.1,340.1 915.5,347.5 916.0,340.4 916.4,340.7 916.8,342.7 917.2,344.3 917.6,343.4 918.0,346.0 918.5,346.0 918.9,346.9 919.3,340.7 919.7,347.9 920.1,348.2 920.5,347.2 921.0,350.3 921.4,350.0 921.8,351.3 922.2,351.8 922.6,351.7 923.0,351.7 923.5,353.9 923.9,353.5 924.3,354.3 924.7,356.5 925.1,351.0 925.5,357.8 925.9,357.4 926.4,358.7 926.8,358.7 927.2,360.6 927.6,358.9 928.0,355.2 928.4,361.2 928.9,362.4 929.3,353.3 929.7,364.8" stroke="#ff0000" stroke-width="2.0"/>
</g>
<g clip-path="url(#cb)" fill="none" stroke-linejoin="round">
<polyline points="1153.0,120.8 1153.2,122.6 1153.3,121.9 1153.5,123.4 1153.7,121.9 1153.8,122.4 1154.0,124.7 1154.2,127.4 1154.3,125.8 1154.5,128.0 1154.7,126.0 1154.8,125.4 1155.0,125.7 1155.2,126.6 1155.3,129.2 1155.5,127.0 1155.7,128.5 1155.8,128.9 1156.0,128.7 1156.1,127.3 1156.3,128.0 1156.5,127.3 1156.6,129.1 1156.8,129.8 1157.0,129.6 1157.1,130.3 1157.3,128.6 1157.5,128.8 1157.6,129.0 1157.8,131.0 1158.0,131.0 1158.1,130.1 1158.3,134.4 1158.5,127.5 1158.6,130.4 1158.8,130.6 1159.0,131.7 1159.1,127.5 1159.3,132.7 1159.5,134.6 1159.6,132.2 1159.8,130.9 1160.0,128.3 1160.1,133.2 1160.3,135.7 1160.5,134.7 1160.6,135.2 1160.8,133.9 1161.0,130.4 1161.1,134.8 1161.3,133.5 1161.4,136.3 1161.6,138.3 1161.8,136.4 1161.9,136.4 1162.1,136.3 1162.3,137.9 1162.4,134.8 1162.6,136.5 1162.8,138.7 1162.9,138.4 1163.1,138.4 1163.3,136.7 1163.4,137.8 1163.6,138.1 1163.8,140.1 1163.9,137.7 1164.1,136.0 1164.3,139.6 1164.4,140.6 1164.6,140.9 1164.8,139.7 1164.9,140.5 1165.1,140.7 1165.3,139.4 1165.4,142.6 1165.6,140.5 1165.8,141.5 1165.9,139.8 1166.1,141.7 1166.3,142.1 1166.4,142.0 1166.6,142.3 1166.7,142.0 1166.9,144.7 1167.1,145.8 1167.2,141.2 1167.4,143.5 1167.6,142.1 1167.7,142.9 1167.9,144.9 1168.1,145.3 1168.2,142.8 1168.4,142.0 1168.6,149.5 1168.7,137.5 1168.9,145.0 1169.1,172.7 1169.2,172.3 1169.4,157.4 1169.6,146.4 1169.7,146.8 1169.9,145.9 1170.1,149.8 1170.2,159.0 1170.4,147.0 1170.6,144.4 1170.7,149.5 1170.9,147.3 1171.1,149.3 1171.2,147.9 1171.4,147.1 1171.6,151.5 1171.7,166.0 1171.9,151.3 1172.0,150.2 1172.2,164.4 1172.4,150.2 1172.5,152.1 1172.7,148.5 1172.9,153.9 1173.0,160.7 1173.2,166.3 1173.4,154.5 1173.5,165.8 1173.7,154.6 1173.9,155.4 1174.0,154.4 1174.2,153.0 1174.4,169.8 1174.5,166.7 1174.7,154.4 1174.9,154.6 1175.0,154.7 1175.2,154.8 1175.4,155.0 1175.5,153.3 1175.7,160.8 1175.9,161.3 1176.0,155.7 1176.2,157.9 1176.4,155.0 1176.5,156.0 1176.7,154.7 1176.9,156.8 1177.0,158.5 1177.2,168.0 1177.3,159.2 1177.5,155.2 1177.7,159.2 1177.8,158.6 1178.0,156.3 1178.2,164.7 1178.3,158.4 1178.5,160.8 1178.7,159.4 1178.8,158.5 1179.0,160.5 1179.2,160.0 1179.3,169.9 1179.5,162.2 1179.7,160.3 1179.8,161.4 1180.0,159.0 1180.2,163.3 1180.3,160.5 1180.5,162.6 1180.7,163.6 1180.8,164.0 1181.0,162.3 1181.2,163.0 1181.3,164.2 1181.5,160.5 1181.7,163.3 1181.8,162.0 1182.0,163.7 1182.2,162.6 1182.3,163.4 1182.5,171.2 1182.7,166.5 1182.8,164.7 1183.0,167.2 1183.1,163.8 1183.3,167.6 1183.5,167.2 1183.6,165.0 1183.8,164.1 1184.0,167.6 1184.1,162.6 1184.3,168.1 1184.5,167.4 1184.6,168.4 1184.8,170.6 1185.0,169.1 1185.1,168.9 1185.3,171.4 1185.5,171.2 1185.6,169.1 1185.8,169.4 1186.0,170.6 1186.1,168.6 1186.3,170.1 1186.5,171.8 1186.6,174.3 1186.8,170.7 1187.0,171.2 1187.1,174.0 1187.3,170.6 1187.5,172.3 1187.6,172.7 1187.8,173.3 1188.0,172.0 1188.1,175.1 1188.3,172.8 1188.4,176.2 1188.6,173.6 1188.8,173.5 1188.9,173.6 1189.1,173.1 1189.3,174.1 1189.4,173.8 1189.6,174.5 1189.8,175.3 1189.9,175.7 1190.1,171.3 1190.3,174.0 1190.4,174.2 1190.6,174.7 1190.8,176.5 1190.9,174.4 1191.1,176.3 1191.3,178.6 1191.4,176.7 1191.6,181.2 1191.8,174.7 1191.9,179.4 1192.1,177.7 1192.3,181.3 1192.4,181.2 1192.6,180.6 1192.8,178.1 1192.9,179.3 1193.1,182.3 1193.3,181.2 1193.4,178.6 1193.6,183.0 1193.7,182.1 1193.9,179.2 1194.1,182.6 1194.2,182.3 1194.4,182.0 1194.6,182.5 1194.7,183.2 1194.9,181.1 1195.1,181.2 1195.2,182.5 1195.4,183.4 1195.6,183.0 1195.7,183.4 1195.9,182.6 1196.1,184.5 1196.2,184.6 1196.4,185.6 1196.6,184.4 1196.7,185.1 1196.9,194.2 1197.1,185.9 1197.2,187.6 1197.4,184.6 1197.6,184.0 1197.7,188.5 1197.9,186.1 1198.1,186.5 1198.2,187.0 1198.4,189.7 1198.6,189.6 1198.7,188.2 1198.9,189.2 1199.0,191.2 1199.2,185.2 1199.4,190.3 1199.5,190.8 1199.7,189.5 1199.9,189.8 1200.0,190.0 1200.2,191.2 1200.4,189.1 1200.5,190.3 1200.7,191.0 1200.9,192.9 1201.0,190.8 1201.2,191.3 1201.4,194.2 1201.5,190.0 1201.7,192.7 1201.9,194.5 1202.0,192.3 1202.2,191.2 1202.4,192.5 1202.5,190.4 1202.7,191.0 1202.9,191.6 1203.0,195.5 1203.2,194.4 1203.4,194.4 1203.5,197.8 1203.7,194.3 1203.9,196.4 1204.0,196.5 1204.2,193.9 1204.4,194.7 1204.5,197.2 1204.7,197.0 1204.8,194.3 1205.0,214.9 1205.2,193.4 1205.3,196.6 1205.5,191.5 1205.7,196.7 1205.8,202.1 1206.0,199.8 1206.2,205.2 1206.3,199.8 1206.5,205.7 1206.7,198.7 1206.8,211.6 1207.0,199.6 1207.2,201.4 1207.3,202.8 1207.5,214.5 1207.7,203.1 1207.8,218.9 1208.0,201.0 1208.2,203.9 1208.3,203.7 1208.5,200.2 1208.7,199.9 1208.8,201.6 1209.0,201.2 1209.2,203.9 1209.3,199.1 1209.5,205.3 1209.7,205.0 1209.8,205.1 1210.0,203.2 1210.1,203.0 1210.3,204.9 1210.5,200.3 1210.6,209.2 1210.8,204.6 1211.0,213.0 1211.1,203.6 1211.3,215.5 1211.5,207.3 1211.6,203.8 1211.8,216.6 1212.0,207.7 1212.1,207.1 1212.3,208.9 1212.5,217.6 1212.6,209.4 1212.8,204.8 1213.0,215.1 1213.1,205.9 1213.3,207.8 1213.5,213.5 1213.6,209.0 1213.8,217.0 1214.0,204.7 1214.1,208.4 1214.3,209.5 1214.5,210.2 1214.6,215.1 1214.8,216.6 1215.0,213.8 1215.1,210.4 1215.3,218.9 1215.4,214.5 1215.6,210.5 1215.8,211.4 1215.9,211.4 1216.1,206.4 1216.3,210.1 1216.4,212.5 1216.6,211.7 1216.8,210.9 1216.9,211.5 1217.1,213.7 1217.3,211.6 1217.4,211.0 1217.6,215.7 1217.8,216.3 1217.9,211.7 1218.1,212.5 1218.3,214.7 1218.4,215.1 1218.6,214.1 1218.8,214.8 1218.9,216.2 1219.1,218.6 1219.3,217.5 1219.4,216.5 1219.6,216.8 1219.8,215.9 1219.9,221.0 1220.1,216.0 1220.3,218.6 1220.4,216.5 1220.6,218.1 1220.7,219.6 1220.9,220.0 1221.1,224.2 1221.2,220.2 1221.4,215.7 1221.6,219.1 1221.7,218.9 1221.9,218.1 1222.1,217.5 1222.2,222.9 1222.4,220.5 1222.6,221.8 1222.7,222.5 1222.9,220.8 1223.1,222.7 1223.2,223.0 1223.4,223.2 1223.6,221.7 1223.7,226.9 1223.9,223.6 1224.1,224.6 1224.2,224.3 1224.4,224.5 1224.6,221.7 1224.7,221.5 1224.9,224.1 1225.1,224.3 1225.2,224.9 1225.4,224.8 1225.6,224.7 1225.7,226.0 1225.9,226.1 1226.0,224.9 1226.2,225.2 1226.4,229.6 1226.5,226.9 1226.7,225.3 1226.9,226.9 1227.0,228.6 1227.2,228.6 1227.4,226.2 1227.5,227.1 1227.7,230.3 1227.9,231.6 1228.0,231.9 1228.2,230.8 1228.4,230.4 1228.5,227.6 1228.7,226.8 1228.9,229.8 1229.0,228.7 1229.2,231.0 1229.4,229.0 1229.5,231.6 1229.7,234.7 1229.9,230.0 1230.0,233.8 1230.2,230.5 1230.4,231.5 1230.5,227.9 1230.7,233.2 1230.9,230.6 1231.0,233.6 1231.2,232.1 1231.4,233.5 1231.5,231.4 1231.7,236.7 1231.8,233.2 1232.0,240.6 1232.2,238.2 1232.3,235.2 1232.5,234.4 1232.7,237.9 1232.8,237.4 1233.0,238.3 1233.2,235.0 1233.3,239.4 1233.5,238.8 1233.7,234.9 1233.8,233.8 1234.0,238.2 1234.2,237.2 1234.3,239.0 1234.5,235.9 1234.7,239.3 1234.8,243.3 1235.0,237.5 1235.2,238.3 1235.3,240.7 1235.5,238.1 1235.7,241.8 1235.8,239.0 1236.0,240.3 1236.2,242.0 1236.3,240.2 1236.5,240.8 1236.7,241.3 1236.8,245.0 1237.0,241.7 1237.1,237.9 1237.3,240.6 1237.5,259.4 1237.6,242.8 1237.8,244.5 1238.0,242.9 1238.1,251.0 1238.3,245.1 1238.5,260.0 1238.6,246.3 1238.8,246.9 1239.0,250.1 1239.1,262.0 1239.3,246.9 1239.5,243.6 1239.6,242.9 1239.8,245.7 1240.0,246.0 1240.1,246.0 1240.3,246.9 1240.5,250.2 1240.6,245.8 1240.8,247.1 1241.0,245.0 1241.1,252.6 1241.3,247.1 1241.5,258.3 1241.6,256.8 1241.8,247.7 1242.0,249.3 1242.1,257.8 1242.3,256.3 1242.4,246.1 1242.6,250.2 1242.8,250.3 1242.9,260.9 1243.1,250.5 1243.3,250.3 1243.4,249.0 1243.6,249.4 1243.8,252.7 1243.9,257.1 1244.1,251.8 1244.3,250.9 1244.4,249.4 1244.6,256.8 1244.8,254.1 1244.9,252.6 1245.1,252.9 1245.3,254.5 1245.4,255.4 1245.6,251.8 1245.8,253.8 1245.9,251.9 1246.1,254.8 1246.3,256.1 1246.4,253.3 1246.6,265.1 1246.8,257.2 1246.9,257.2 1247.1,256.7 1247.3,261.1 1247.4,261.7 1247.6,257.4 1247.7,257.7 1247.9,255.8 1248.1,256.6 1248.2,256.9 1248.4,261.9 1248.6,257.7 1248.7,258.4 1248.9,257.2 1249.1,254.6 1249.2,261.5 1249.4,259.4 1249.6,260.2 1249.7,259.0 1249.9,258.3 1250.1,261.1 1250.2,259.0 1250.4,264.8 1250.6,259.4 1250.7,261.9 1250.9,261.2 1251.1,262.7 1251.2,263.8 1251.4,263.5 1251.6,258.8 1251.7,264.3 1251.9,264.9 1252.1,262.3 1252.2,264.6 1252.4,264.0 1252.6,262.5 1252.7,264.3 1252.9,263.8 1253.0,265.5 1253.2,262.8 1253.4,267.3 1253.5,265.3 1253.7,264.4 1253.9,268.5 1254.0,262.3 1254.2,267.8 1254.4,269.1 1254.5,268.3 1254.7,267.9 1254.9,268.3 1255.0,266.0 1255.2,267.1 1255.4,269.0 1255.5,268.8 1255.7,268.1 1255.9,268.7 1256.0,268.1 1256.2,270.0 1256.4,270.4 1256.5,269.3 1256.7,272.7 1256.9,271.8 1257.0,269.2 1257.2,271.5 1257.4,271.6 1257.5,269.6 1257.7,273.8 1257.9,272.1 1258.0,271.4 1258.2,272.6 1258.4,269.9 1258.5,272.2 1258.7,273.9 1258.8,272.7 1259.0,269.0 1259.2,271.9 1259.3,270.8 1259.5,275.6 1259.7,270.9 1259.8,274.4 1260.0,275.5 1260.2,272.8 1260.3,276.5 1260.5,274.1 1260.7,271.9 1260.8,273.9 1261.0,273.6 1261.2,275.6 1261.3,276.8 1261.5,275.2 1261.7,275.0 1261.8,279.0 1262.0,274.8 1262.2,278.2 1262.3,275.5 1262.5,276.4 1262.7,276.9 1262.8,279.1 1263.0,278.1 1263.2,279.3 1263.3,277.9 1263.5,283.2 1263.7,280.3 1263.8,281.2 1264.0,280.4 1264.1,280.5 1264.3,283.6 1264.5,284.2 1264.6,281.1 1264.8,284.0 1265.0,281.0 1265.1,278.4 1265.3,283.6 1265.5,283.2 1265.6,283.7 1265.8,281.4 1266.0,280.0 1266.1,284.0 1266.3,280.6 1266.5,286.6 1266.6,284.4 1266.8,282.9 1267.0,283.3 1267.1,284.0 1267.3,282.1 1267.5,284.1 1267.6,282.8 1267.8,285.9 1268.0,283.2 1268.1,285.1 1268.3,285.6 1268.5,285.9 1268.6,287.3 1268.8,288.7 1269.0,289.8 1269.1,283.5 1269.3,285.0 1269.4,285.8 1269.6,290.2 1269.8,286.8 1269.9,287.4 1270.1,286.1 1270.3,289.6 1270.4,287.4 1270.6,302.2 1270.8,290.9 1270.9,289.7 1271.1,288.4 1271.3,289.7 1271.4,292.6 1271.6,302.9 1271.8,288.0 1271.9,304.3 1272.1,289.7 1272.3,290.4 1272.4,312.4 1272.6,291.5 1272.8,300.0 1272.9,289.3 1273.1,292.7 1273.3,293.2 1273.4,301.9 1273.6,292.9 1273.8,304.8 1273.9,292.9 1274.1,297.5 1274.3,295.7 1274.4,292.0 1274.6,296.1 1274.7,294.3 1274.9,292.9 1275.1,293.7 1275.2,295.6 1275.4,294.0 1275.6,296.1 1275.7,296.0 1275.9,297.6 1276.1,298.3 1276.2,295.9 1276.4,307.7 1276.6,294.3 1276.7,301.0 1276.9,300.6 1277.1,307.1 1277.2,294.8 1277.4,298.3 1277.6,297.9 1277.7,298.2 1277.9,306.7 1278.1,300.2 1278.2,303.1 1278.4,298.4 1278.6,296.9 1278.7,306.1 1278.9,300.0 1279.1,305.4 1279.2,300.0 1279.4,300.2 1279.6,304.5 1279.7,302.5 1279.9,310.8 1280.1,304.4 1280.2,303.6 1280.4,301.5 1280.5,303.2 1280.7,304.8 1280.9,303.6 1281.0,304.8 1281.2,303.1 1281.4,304.3 1281.5,307.6 1281.7,303.9 1281.9,306.1 1282.0,307.4 1282.2,308.4 1282.4,304.9 1282.5,308.6 1282.7,303.3 1282.9,306.1 1283.0,307.9 1283.2,303.2 1283.4,311.3 1283.5,309.8 1283.7,309.9 1283.9,304.7 1284.0,308.8 1284.2,306.9 1284.4,306.9 1284.5,308.7 1284.7,307.5 1284.9,310.6 1285.0,311.3 1285.2,307.6 1285.4,308.1 1285.5,309.3 1285.7,311.7 1285.8,310.2 1286.0,308.4 1286.2,312.5 1286.3,312.1 1286.5,315.6 1286.7,312.8 1286.8,316.9 1287.0,309.3 1287.2,313.6 1287.3,314.5 1287.5,312.4 1287.7,311.3 1287.8,317.3 1288.0,311.5 1288.2,313.1 1288.3,314.4 1288.5,312.4 1288.7,315.6 1288.8,316.3 1289.0,313.3 1289.2,316.0 1289.3,315.2 1289.5,317.8 1289.7,313.5 1289.8,316.0 1290.0,316.6 1290.2,318.1 1290.3,318.4 1290.5,315.2 1290.7,317.0 1290.8,318.3 1291.0,320.9 1291.1,319.2 1291.3,319.7 1291.5,315.9 1291.6,320.9 1291.8,319.8 1292.0,321.9 1292.1,318.3 1292.3,320.2 1292.5,320.0 1292.6,320.6 1292.8,321.0 1293.0,321.4 1293.1,321.8 1293.3,321.1 1293.5,321.9 1293.6,318.0 1293.8,320.5 1294.0,322.5 1294.1,321.5 1294.3,322.7 1294.5,319.3 1294.6,322.0 1294.8,319.7 1295.0,327.6 1295.1,321.0 1295.3,322.2 1295.5,325.7 1295.6,325.5 1295.8,324.6 1296.0,323.8 1296.1,324.7 1296.3,324.1 1296.4,327.0 1296.6,324.3 1296.8,325.2 1296.9,322.9 1297.1,326.0 1297.3,322.4 1297.4,324.3 1297.6,325.4 1297.8,327.6 1297.9,328.1 1298.1,328.0 1298.3,328.2 1298.4,327.3 1298.6,328.4 1298.8,328.0 1298.9,331.7 1299.1,328.0 1299.3,330.3 1299.4,328.8 1299.6,331.5 1299.8,330.9 1299.9,328.6 1300.1,331.6 1300.3,330.1 1300.4,327.8 1300.6,331.7 1300.8,335.5 1300.9,331.8 1301.1,332.8 1301.3,331.8 1301.4,330.4 1301.6,332.8 1301.7,333.9 1301.9,333.6 1302.1,339.3 1302.2,338.6 1302.4,334.0 1302.6,335.5 1302.7,332.9 1302.9,341.8 1303.1,352.3 1303.2,334.1 1303.4,335.8 1303.6,337.7 1303.7,335.8 1303.9,335.2 1304.1,336.5 1304.2,345.0 1304.4,334.2 1304.6,336.5 1304.7,350.9 1304.9,338.6 1305.1,336.3 1305.2,335.8 1305.4,335.9 1305.6,343.8 1305.7,337.9 1305.9,338.9 1306.1,337.1 1306.2,340.5 1306.4,353.6 1306.6,337.5 1306.7,351.0 1306.9,343.5 1307.1,342.4 1307.2,339.9 1307.4,341.5 1307.5,345.2 1307.7,339.3 1307.9,341.5 1308.0,340.5 1308.2,341.4 1308.4,342.2 1308.5,340.8 1308.7,346.1 1308.9,341.6 1309.0,341.9 1309.2,345.4 1309.4,349.9 1309.5,345.1 1309.7,342.7 1309.9,347.5 1310.0,345.1 1310.2,343.0 1310.4,344.0 1310.5,343.3 1310.7,347.1 1310.9,354.1 1311.0,345.2 1311.2,343.7 1311.4,347.2 1311.5,345.8 1311.7,345.9 1311.9,355.4 1312.0,348.1 1312.2,346.2 1312.4,346.9 1312.5,349.0 1312.7,350.6 1312.8,348.7 1313.0,349.1 1313.2,349.2 1313.3,347.4 1313.5,349.6 1313.7,350.1 1313.8,352.3 1314.0,352.1 1314.2,350.3 1314.3,350.7 1314.5,352.5 1314.7,348.9 1314.8,350.0 1315.0,352.6 1315.2,354.9 1315.3,351.5 1315.5,354.6 1315.7,353.2 1315.8,350.6 1316.0,351.4 1316.2,353.4 1316.3,352.4 1316.5,354.1 1316.7,352.7 1316.8,356.7 1317.0,356.5 1317.2,354.3 1317.3,354.3 1317.5,354.0 1317.7,355.9 1317.8,353.1 1318.0,352.5 1318.1,353.4 1318.3,354.2 1318.5,354.5 1318.6,354.4 1318.8,355.6 1319.0,354.4 1319.1,355.7 1319.3,357.3 1319.5,353.7 1319.6,353.6 1319.8,357.3 1320.0,355.7 1320.1,353.7 1320.3,354.5 1320.5,354.2 1320.6,357.5 1320.8,356.1 1321.0,354.5 1321.1,355.7 1321.3,354.2 1321.5,354.9 1321.6,355.7 1321.8,354.7 1322.0,347.0 1322.1,355.4 1322.3,357.1 1322.5,352.7 1322.6,355.5 1322.8,353.6 1323.0,355.1 1323.1,352.9 1323.3,353.9 1323.4,354.6 1323.6,349.5 1323.8,351.5 1323.9,351.0 1324.1,352.4 1324.3,350.9 1324.4,351.7 1324.6,354.6 1324.8,351.9 1324.9,349.7 1325.1,349.9 1325.3,350.0 1325.4,349.7 1325.6,348.5 1325.8,348.7 1325.9,347.2 1326.1,347.8 1326.3,350.6 1326.4,347.7 1326.6,348.6 1326.8,351.4 1326.9,348.5 1327.1,344.0 1327.3,346.7 1327.4,346.9 1327.6,347.9 1327.8,345.7 1327.9,346.1 1328.1,351.2 1328.3,344.2 1328.4,345.2 1328.6,345.9 1328.8,346.7 1328.9,346.0 1329.1,343.0 1329.2,344.9 1329.4,344.8 1329.6,344.7 1329.7,343.2 1329.9,343.1 1330.1,343.3 1330.2,343.1 1330.4,342.5 1330.6,342.9 1330.7,342.7 1330.9,344.1 1331.1,342.7 1331.2,342.2 1331.4,346.3 1331.6,342.0 1331.7,340.3 1331.9,339.9 1332.1,337.6 1332.2,339.4 1332.4,338.8 1332.6,339.5 1332.7,340.7 1332.9,342.9 1333.1,336.3 1333.2,340.1 1333.4,340.6 1333.6,338.3 1333.7,338.3 1333.9,339.1 1334.1,336.8 1334.2,337.2 1334.4,336.1 1334.5,336.7 1334.7,338.3 1334.9,336.8 1335.0,339.2 1335.2,335.0 1335.4,334.8 1335.5,337.2 1335.7,334.8 1335.9,337.3 1336.0,337.0 1336.2,333.2 1336.4,336.8 1336.5,335.4 1336.7,335.4 1336.9,334.8 1337.0,336.3 1337.2,337.0 1337.4,337.8 1337.5,334.9 1337.7,336.6 1337.9,335.9 1338.0,333.0 1338.2,332.7 1338.4,336.2 1338.5,337.7 1338.7,340.3 1338.9,331.4 1339.0,329.1 1339.2,329.6 1339.4,333.1 1339.5,337.9 1339.7,330.6 1339.8,329.1 1340.0,329.8 1340.2,328.4 1340.3,328.8 1340.5,330.0 1340.7,332.0 1340.8,330.7 1341.0,332.8 1341.2,326.4 1341.3,330.0 1341.5,327.6 1341.7,329.5 1341.8,328.3 1342.0,330.7 1342.2,325.9 1342.3,327.3 1342.5,325.4 1342.7,337.6 1342.8,331.5 1343.0,326.7 1343.2,324.3 1343.3,327.5 1343.5,328.0 1343.7,325.0 1343.8,323.2 1344.0,324.6 1344.2,325.2 1344.3,325.3 1344.5,328.8 1344.7,326.0 1344.8,322.3 1345.0,334.7 1345.1,322.2 1345.3,323.0 1345.5,322.7 1345.6,334.1 1345.8,334.9 1346.0,318.1 1346.1,320.0 1346.3,320.5 1346.5,321.6 1346.6,320.7 1346.8,320.4 1347.0,319.4 1347.1,319.8 1347.3,319.5 1347.5,320.2 1347.6,320.1 1347.8,317.8 1348.0,318.2 1348.1,320.9 1348.3,318.3 1348.5,318.1 1348.6,307.0 1348.8,319.8 1349.0,313.6 1349.1,316.2 1349.3,317.7 1349.5,316.3 1349.6,316.3 1349.8,314.0 1350.0,317.0 1350.1,313.9 1350.3,313.0 1350.4,316.7 1350.6,317.4 1350.8,314.4 1350.9,314.0 1351.1,311.5 1351.3,312.4 1351.4,312.7 1351.6,314.6 1351.8,313.9 1351.9,312.8 1352.1,314.5 1352.3,312.0 1352.4,312.4 1352.6,311.3 1352.8,311.6 1352.9,313.3 1353.1,311.8 1353.3,311.9 1353.4,308.7 1353.6,306.9 1353.8,310.5 1353.9,311.6 1354.1,311.0 1354.3,310.6 1354.4,309.8 1354.6,309.7 1354.8,309.2 1354.9,309.5 1355.1,310.8 1355.3,309.0 1355.4,306.8 1355.6,305.5 1355.8,305.0 1355.9,306.7 1356.1,306.4 1356.2,305.1 1356.4,306.7 1356.6,304.9 1356.7,305.0 1356.9,304.3 1357.1,303.3 1357.2,305.9 1357.4,303.8 1357.6,304.2 1357.7,304.7 1357.9,303.4 1358.1,305.2 1358.2,307.7 1358.4,305.5 1358.6,306.3 1358.7,303.4 1358.9,304.0 1359.1,300.9 1359.2,304.5 1359.4,302.1 1359.6,303.7 1359.7,301.6 1359.9,304.0 1360.1,301.9 1360.2,300.0 1360.4,301.1 1360.6,301.9 1360.7,299.9 1360.9,297.2 1361.1,297.8 1361.2,300.3 1361.4,301.1 1361.5,299.5 1361.7,298.8 1361.9,298.2 1362.0,297.6 1362.2,298.0 1362.4,298.5 1362.5,299.5 1362.7,299.6 1362.9,295.4 1363.0,297.1 1363.2,296.1 1363.4,294.0 1363.5,293.5 1363.7,295.4 1363.9,296.4 1364.0,299.2 1364.2,294.1 1364.4,295.9 1364.5,294.4 1364.7,294.8 1364.9,293.3 1365.0,291.6 1365.2,292.7 1365.4,294.7 1365.5,295.6 1365.7,294.5 1365.9,292.1 1366.0,294.2 1366.2,293.2 1366.4,291.8 1366.5,292.7 1366.7,294.3 1366.8,288.7 1367.0,293.3 1367.2,291.0 1367.3,290.9 1367.5,292.6 1367.7,290.4 1367.8,290.5 1368.0,287.5 1368.2,289.6 1368.3,291.3 1368.5,287.5 1368.7,292.6 1368.8,293.0 1369.0,291.2 1369.2,288.8 1369.3,287.6 1369.5,287.0 1369.7,291.0 1369.8,279.7 1370.0,285.0 1370.2,287.4 1370.3,282.7 1370.5,288.2 1370.7,285.1 1370.8,282.9 1371.0,284.0 1371.2,289.1 1371.3,285.2 1371.5,284.2 1371.7,283.9 1371.8,287.1 1372.0,285.7 1372.1,285.9 1372.3,285.3 1372.5,280.7 1372.6,285.5 1372.8,284.3 1373.0,281.5 1373.1,283.7 1373.3,283.6 1373.5,290.3 1373.6,284.2 1373.8,278.6 1374.0,280.5 1374.1,282.4 1374.3,281.8 1374.5,293.0 1374.6,281.7 1374.8,282.0 1375.0,281.3 1375.1,281.1 1375.3,281.4 1375.5,278.3 1375.6,279.3 1375.8,280.1 1376.0,281.2 1376.1,278.8 1376.3,289.9 1376.5,277.9 1376.6,277.5 1376.8,279.2 1377.0,279.4 1377.1,277.9 1377.3,276.4 1377.4,276.9 1377.6,278.3 1377.8,285.4 1377.9,291.7 1378.1,276.2 1378.3,274.1 1378.4,295.0 1378.6,285.4 1378.8,275.3 1378.9,281.4 1379.1,273.6 1379.3,282.9 1379.4,273.6 1379.6,273.8 1379.8,275.3 1379.9,274.0 1380.1,289.6 1380.3,271.9 1380.4,284.2 1380.6,272.1 1380.8,275.3 1380.9,269.5 1381.1,272.0 1381.3,273.4 1381.4,272.8 1381.6,291.1 1381.8,290.9 1381.9,268.3 1382.1,273.8 1382.3,271.9 1382.4,267.6 1382.6,267.3 1382.8,269.3 1382.9,270.5 1383.1,296.8 1383.2,267.0 1383.4,266.5 1383.6,270.6 1383.7,264.7 1383.9,267.0 1384.1,267.9 1384.2,268.7 1384.4,278.5 1384.6,280.1 1384.7,264.4 1384.9,266.7 1385.1,268.1 1385.2,265.3 1385.4,268.1 1385.6,266.3 1385.7,263.4 1385.9,263.7 1386.1,267.5 1386.2,285.4 1386.4,284.4 1386.6,265.5 1386.7,280.5 1386.9,265.2 1387.1,284.4 1387.2,262.6 1387.4,263.2 1387.6,263.7 1387.7,262.0 1387.9,264.0 1388.1,261.9 1388.2,260.7 1388.4,261.6 1388.5,259.0 1388.7,262.0 1388.9,260.8 1389.0,259.9 1389.2,260.9 1389.4,259.7 1389.5,259.6 1389.7,259.3 1389.9,261.8 1390.0,265.0 1390.2,259.5 1390.4,257.6 1390.5,259.7 1390.7,256.5 1390.9,254.8 1391.0,257.1 1391.2,256.4 1391.4,256.9 1391.5,258.7 1391.7,259.0 1391.9,257.1 1392.0,257.0 1392.2,255.8 1392.4,257.1 1392.5,254.9 1392.7,253.8 1392.9,255.5 1393.0,253.7 1393.2,256.1 1393.4,254.5 1393.5,251.7 1393.7,254.8 1393.8,256.0 1394.0,251.0 1394.2,257.7 1394.3,256.1 1394.5,253.8 1394.7,253.9 1394.8,251.6 1395.0,250.0 1395.2,252.3 1395.3,250.7 1395.5,249.7 1395.7,249.6 1395.8,252.3 1396.0,253.0 1396.2,250.2 1396.3,248.8 1396.5,251.7 1396.7,249.5 1396.8,247.1 1397.0,244.4 1397.2,248.6 1397.3,247.2 1397.5,245.6 1397.7,251.3 1397.8,247.0 1398.0,245.3 1398.2,251.0 1398.3,247.1 1398.5,247.8 1398.7,248.6 1398.8,246.3 1399.0,243.7 1399.1,244.8 1399.3,243.7 1399.5,245.8 1399.6,248.5 1399.8,248.0 1400.0,246.4 1400.1,244.0 1400.3,251.4 1400.5,246.4 1400.6,246.3 1400.8,249.1 1401.0,241.5 1401.1,244.6 1401.3,248.7 1401.5,243.3 1401.6,245.9 1401.8,245.5 1402.0,242.2 1402.1,240.2 1402.3,247.3 1402.5,243.7 1402.6,239.2 1402.8,240.8 1403.0,242.4 1403.1,248.9 1403.3,242.5 1403.5,240.6 1403.6,240.0 1403.8,242.2 1404.0,240.8 1404.1,241.5 1404.3,237.0 1404.5,239.0 1404.6,241.2 1404.8,238.3 1404.9,236.7 1405.1,239.2 1405.3,238.1 1405.4,236.2 1405.6,236.1 1405.8,236.9 1405.9,236.8 1406.1,238.1 1406.3,236.2 1406.4,242.2 1406.6,237.2 1406.8,242.1 1406.9,236.6 1407.1,236.0 1407.3,235.7 1407.4,239.8 1407.6,248.0 1407.8,245.8 1407.9,232.9 1408.1,233.6 1408.3,232.7 1408.4,232.5 1408.6,231.7 1408.8,234.3 1408.9,231.9 1409.1,233.6 1409.3,232.5 1409.4,231.0 1409.6,233.6 1409.8,235.2 1409.9,231.7 1410.1,231.5 1410.2,229.2 1410.4,228.5 1410.6,242.0 1410.7,228.2 1410.9,229.4 1411.1,229.4 1411.2,227.8 1411.4,229.7 1411.6,230.0 1411.7,226.9 1411.9,228.8 1412.1,225.6 1412.2,226.4 1412.4,241.1 1412.6,228.0 1412.7,227.0 1412.9,225.0 1413.1,227.0 1413.2,227.0 1413.4,226.5 1413.6,224.9 1413.7,242.5 1413.9,242.7 1414.1,223.8 1414.2,226.8 1414.4,223.1 1414.6,223.0 1414.7,221.8 1414.9,223.5 1415.1,222.1 1415.2,224.8 1415.4,222.4 1415.5,223.0 1415.7,224.1 1415.9,222.6 1416.0,224.9 1416.2,220.2 1416.4,241.4 1416.5,222.0 1416.7,222.9 1416.9,221.4 1417.0,220.6 1417.2,220.0 1417.4,220.3 1417.5,222.5 1417.7,219.6 1417.9,220.8 1418.0,222.6 1418.2,217.8 1418.4,219.8 1418.5,220.6 1418.7,216.2 1418.9,217.4 1419.0,217.7 1419.2,217.9 1419.4,217.4 1419.5,216.5 1419.7,220.4 1419.9,218.4 1420.0,217.3 1420.2,217.9 1420.4,215.9 1420.5,216.8 1420.7,213.5 1420.8,217.2 1421.0,214.1 1421.2,216.7 1421.3,215.9 1421.5,216.1 1421.7,211.1 1421.8,215.0 1422.0,215.9 1422.2,210.1 1422.3,214.7 1422.5,214.1 1422.7,213.4 1422.8,215.3 1423.0,211.3 1423.2,212.7 1423.3,211.4 1423.5,208.6 1423.7,209.9 1423.8,211.3 1424.0,210.3 1424.2,211.9 1424.3,210.6 1424.5,212.2 1424.7,209.8 1424.8,210.4 1425.0,209.8 1425.2,209.4 1425.3,211.2 1425.5,210.1 1425.7,208.0 1425.8,205.9 1426.0,210.1 1426.1,209.7 1426.3,207.7 1426.5,209.1 1426.6,208.1 1426.8,208.4 1427.0,207.6 1427.1,206.2 1427.3,206.4 1427.5,206.8 1427.6,206.3 1427.8,206.5 1428.0,210.4 1428.1,203.5 1428.3,201.4 1428.5,204.3 1428.6,202.5 1428.8,206.2 1429.0,204.3 1429.1,203.5 1429.3,202.6 1429.5,201.6 1429.6,203.4 1429.8,200.9 1430.0,202.8 1430.1,206.5 1430.3,207.3 1430.5,203.4 1430.6,201.8 1430.8,201.7 1431.0,203.6 1431.1,199.8 1431.3,201.8 1431.5,201.0 1431.6,199.1 1431.8,201.7 1431.9,200.6 1432.1,204.5 1432.3,198.5 1432.4,199.0 1432.6,207.4 1432.8,200.4 1432.9,198.9 1433.1,196.1 1433.3,199.4 1433.4,196.1 1433.6,199.2 1433.8,201.3 1433.9,197.1 1434.1,196.8 1434.3,197.5 1434.4,195.3 1434.6,203.6 1434.8,202.9 1434.9,197.2 1435.1,195.0 1435.3,196.0 1435.4,195.7 1435.6,194.1 1435.8,193.1 1435.9,198.3 1436.1,192.5 1436.3,192.2 1436.4,193.4 1436.6,204.1 1436.8,193.0 1436.9,200.6 1437.1,195.2 1437.2,197.0 1437.4,193.3 1437.6,192.3 1437.7,197.0 1437.9,191.5 1438.1,190.5 1438.2,193.2 1438.4,191.1 1438.6,192.1 1438.7,190.6 1438.9,190.3 1439.1,197.0 1439.2,190.3 1439.4,203.0 1439.6,188.2 1439.7,196.0 1439.9,202.8 1440.1,187.8 1440.2,190.6 1440.4,187.1 1440.6,187.7 1440.7,186.1 1440.9,191.0 1441.1,199.1 1441.2,186.9 1441.4,184.6 1441.6,186.3 1441.7,188.9 1441.9,185.5 1442.1,186.7 1442.2,184.4 1442.4,184.6 1442.5,185.1 1442.7,190.9 1442.9,186.1 1443.0,180.3 1443.2,181.5 1443.4,182.7 1443.5,205.8 1443.7,185.2 1443.9,183.1 1444.0,181.2 1444.2,194.7 1444.4,183.6 1444.5,183.6 1444.7,182.5 1444.9,183.6 1445.0,176.0 1445.2,181.0 1445.4,183.1 1445.5,181.8 1445.7,180.1 1445.9,179.5 1446.0,179.6 1446.2,178.5 1446.4,179.3 1446.5,179.4 1446.7,179.6 1446.9,179.3 1447.0,179.0 1447.2,179.6 1447.4,179.1 1447.5,179.7 1447.7,179.8 1447.8,179.2 1448.0,177.3 1448.2,178.3 1448.3,176.7 1448.5,173.4 1448.7,175.3 1448.8,179.3 1449.0,175.7 1449.2,176.2 1449.3,179.8 1449.5,173.9 1449.7,167.5 1449.8,176.4 1450.0,173.4 1450.2,173.9 1450.3,172.8 1450.5,174.0 1450.7,174.2 1450.8,172.1 1451.0,170.9 1451.2,173.7 1451.3,174.7 1451.5,171.1 1451.7,175.5 1451.8,175.4 1452.0,168.5 1452.2,171.3 1452.3,169.2 1452.5,171.1 1452.7,173.3 1452.8,171.0 1453.0,172.2 1453.1,170.2 1453.3,167.7 1453.5,168.9 1453.6,170.7 1453.8,170.8 1454.0,170.3 1454.1,166.9 1454.3,168.6 1454.5,168.4 1454.6,170.1 1454.8,168.7 1455.0,167.6 1455.1,165.3 1455.3,165.8 1455.5,164.9 1455.6,167.2 1455.8,165.4 1456.0,165.9 1456.1,164.6 1456.3,166.8 1456.5,167.6 1456.6,161.7 1456.8,164.5 1457.0,161.7 1457.1,163.5 1457.3,166.7 1457.5,163.2 1457.6,162.4 1457.8,168.3 1458.0,163.2 1458.1,163.1 1458.3,162.4 1458.5,164.9 1458.6,161.2 1458.8,162.5 1458.9,161.8 1459.1,163.9 1459.3,162.5 1459.4,159.4 1459.6,162.6 1459.8,160.3 1459.9,160.8 1460.1,162.5 1460.3,161.2 1460.4,161.6 1460.6,159.5 1460.8,159.2 1460.9,158.8 1461.1,158.5 1461.3,156.2 1461.4,157.8 1461.6,158.0 1461.8,158.6 1461.9,159.1 1462.1,156.0 1462.3,159.5 1462.4,154.5 1462.6,158.0 1462.8,157.5 1462.9,158.2 1463.1,153.6 1463.3,154.7 1463.4,157.7 1463.6,158.0 1463.8,153.6 1463.9,156.2 1464.1,151.7 1464.2,157.3 1464.4,154.4 1464.6,157.2 1464.7,154.5 1464.9,152.9 1465.1,156.7 1465.2,151.4 1465.4,153.9 1465.6,153.1 1465.7,151.9 1465.9,152.7 1466.1,153.5 1466.2,154.4 1466.4,151.2 1466.6,151.2 1466.7,149.0 1466.9,152.0 1467.1,156.4 1467.2,151.7 1467.4,152.3 1467.6,147.8 1467.7,150.4 1467.9,147.4 1468.1,155.5 1468.2,150.0 1468.4,150.7 1468.6,150.4 1468.7,149.8 1468.9,148.2 1469.1,151.8 1469.2,147.2 1469.4,143.1 1469.5,148.4 1469.7,152.2 1469.9,145.5 1470.0,157.5 1470.2,148.9 1470.4,145.7 1470.5,146.3 1470.7,146.6 1470.9,144.4 1471.0,146.7 1471.2,143.1 1471.4,143.8 1471.5,143.7 1471.7,150.9 1471.9,146.4 1472.0,147.8 1472.2,142.6 1472.4,143.1 1472.5,141.8 1472.7,145.9 1472.9,154.5 1473.0,146.4 1473.2,153.8 1473.4,143.3 1473.5,141.4 1473.7,144.0 1473.9,140.3 1474.0,155.4 1474.2,140.6 1474.4,146.5 1474.5,154.5 1474.7,143.1 1474.8,139.5 1475.0,139.3 1475.2,138.9 1475.3,137.2 1475.5,140.9 1475.7,144.3 1475.8,138.2 1476.0,139.6 1476.2,152.4 1476.3,137.9 1476.5,137.2 1476.7,144.7 1476.8,139.0 1477.0,135.7 1477.2,137.7 1477.3,137.9 1477.5,150.5 1477.7,148.3 1477.8,146.8 1478.0,133.2 1478.2,135.5 1478.3,132.6 1478.5,136.3 1478.7,151.8 1478.8,134.3 1479.0,130.9 1479.2,146.3 1479.3,132.7 1479.5,133.7 1479.7,132.2 1479.8,133.4 1480.0,134.9 1480.2,135.6 1480.3,131.6 1480.5,131.5 1480.6,130.9 1480.8,130.2 1481.0,131.8 1481.1,131.0 1481.3,128.1 1481.5,130.2 1481.6,132.3 1481.8,129.5 1482.0,132.2 1482.1,125.7 1482.3,128.4 1482.5,130.5 1482.6,127.9 1482.8,130.2 1483.0,131.7 1483.1,127.3 1483.3,128.8 1483.5,127.7 1483.6,128.5 1483.8,126.7 1484.0,130.3 1484.1,128.2 1484.3,127.9 1484.5,125.8 1484.6,125.7 1484.8,126.0 1485.0,126.9 1485.1,127.2 1485.3,126.1 1485.5,125.6 1485.6,129.1 1485.8,126.9 1485.9,130.7 1486.1,125.2 1486.3,125.5 1486.4,128.2 1486.6,129.3 1486.8,124.6 1486.9,126.6 1487.1,131.6 1487.3,127.1 1487.4,123.8 1487.6,126.0 1487.8,136.6 1487.9,127.1 1488.1,124.4 1488.3,127.2 1488.4,127.3 1488.6,125.6 1488.8,128.4 1488.9,124.2 1489.1,128.2 1489.3,130.5 1489.4,129.1 1489.6,126.4 1489.8,128.7 1489.9,126.0 1490.1,120.9 1490.3,131.1 1490.4,129.6 1490.6,132.1 1490.8,131.0 1490.9,130.1 1491.1,131.1 1491.2,131.3 1491.4,133.4 1491.6,130.8 1491.7,129.0 1491.9,130.8 1492.1,130.4 1492.2,130.5 1492.4,132.1 1492.6,133.2 1492.7,131.1 1492.9,132.5 1493.1,134.4 1493.2,134.4 1493.4,135.7 1493.6,131.7 1493.7,133.0 1493.9,132.0 1494.1,136.8 1494.2,133.3 1494.4,135.5 1494.6,135.1 1494.7,136.0 1494.9,134.4 1495.1,138.0 1495.2,135.7 1495.4,136.6 1495.6,138.5 1495.7,136.9 1495.9,133.5 1496.1,140.9 1496.2,137.9 1496.4,137.8 1496.5,138.5 1496.7,137.9 1496.9,137.6 1497.0,138.3 1497.2,137.6 1497.4,136.3 1497.5,158.4 1497.7,140.1 1497.9,138.6 1498.0,136.4 1498.2,157.6 1498.4,139.3 1498.5,139.0 1498.7,167.7 1498.9,141.2 1499.0,162.0 1499.2,142.3 1499.4,144.3 1499.5,141.6 1499.7,142.4 1499.9,143.2 1500.0,143.6 1500.2,144.3 1500.4,143.7 1500.5,142.1 1500.7,141.4 1500.9,144.3 1501.0,146.1 1501.2,143.1 1501.4,142.0 1501.5,144.2 1501.7,147.9 1501.8,153.1 1502.0,143.2 1502.2,144.1 1502.3,146.1 1502.5,145.9 1502.7,146.8 1502.8,149.9 1503.0,144.8 1503.2,148.1 1503.3,156.9 1503.5,143.8 1503.7,148.6 1503.8,148.7 1504.0,147.5 1504.2,158.6 1504.3,150.4 1504.5,162.9 1504.7,152.8 1504.8,147.4 1505.0,151.7 1505.2,159.4 1505.3,151.4 1505.5,158.4 1505.7,150.0 1505.8,149.1 1506.0,158.8 1506.2,149.8 1506.3,151.6 1506.5,148.4 1506.7,150.9 1506.8,152.7 1507.0,161.8 1507.2,153.9 1507.3,156.8 1507.5,155.2 1507.6,154.3 1507.8,155.9 1508.0,159.3 1508.1,152.0 1508.3,157.7 1508.5,154.7 1508.6,153.8 1508.8,153.3 1509.0,158.8 1509.1,157.4 1509.3,158.8 1509.5,153.8 1509.6,152.0 1509.8,154.0 1510.0,155.3 1510.1,159.4 1510.3,158.9 1510.5,157.3 1510.6,156.6 1510.8,157.2 1511.0,158.7 1511.1,158.6 1511.3,156.1 1511.5,156.3 1511.6,159.0 1511.8,160.2 1512.0,162.1 1512.1,155.5 1512.3,159.1 1512.5,160.8 1512.6,162.2 1512.8,159.3 1512.9,157.3 1513.1,161.0 1513.3,162.7 1513.4,160.5 1513.6,161.4 1513.8,160.4 1513.9,157.9 1514.1,162.4 1514.3,161.2 1514.4,164.6 1514.6,165.9 1514.8,164.7 1514.9,161.4 1515.1,161.9 1515.3,164.3 1515.4,165.5 1515.6,164.4 1515.8,161.9 1515.9,164.2 1516.1,164.9 1516.3,164.8 1516.4,165.9 1516.6,166.0 1516.8,166.2 1516.9,168.3 1517.1,165.5 1517.3,169.7 1517.4,166.6 1517.6,162.6 1517.8,166.9 1517.9,168.2 1518.1,169.6 1518.2,169.7 1518.4,167.8 1518.6,165.6 1518.7,166.9 1518.9,168.3 1519.1,169.1 1519.2,168.1 1519.4,171.6 1519.6,167.9 1519.7,169.0 1519.9,169.6 1520.1,169.8 1520.2,170.0 1520.4,170.6 1520.6,170.0 1520.7,172.6 1520.9,172.8 1521.1,172.2 1521.2,169.2 1521.4,171.4 1521.6,170.8 1521.7,172.0 1521.9,172.5 1522.1,176.6 1522.2,174.5 1522.4,175.0 1522.6,175.6 1522.7,173.6 1522.9,171.5 1523.1,172.4 1523.2,171.3 1523.4,174.4 1523.5,175.4 1523.7,176.6 1523.9,176.0 1524.0,175.0 1524.2,177.3 1524.4,176.4 1524.5,178.0 1524.7,176.7 1524.9,178.0 1525.0,178.5 1525.2,177.5 1525.4,177.4 1525.5,177.7 1525.7,177.2 1525.9,179.4 1526.0,177.4 1526.2,179.8 1526.4,176.0 1526.5,180.9 1526.7,180.1 1526.9,180.6 1527.0,181.9 1527.2,181.9 1527.4,181.1 1527.5,178.6 1527.7,181.4 1527.9,180.7 1528.0,184.4 1528.2,180.3 1528.4,182.3 1528.5,181.2 1528.7,183.9 1528.9,182.5 1529.0,182.0 1529.2,182.0 1529.3,194.9 1529.5,183.1 1529.7,196.8 1529.8,185.5 1530.0,184.0 1530.2,185.3 1530.3,183.2 1530.5,186.8 1530.7,184.9 1530.8,199.0 1531.0,184.0 1531.2,190.2 1531.3,191.6 1531.5,188.0 1531.7,184.2 1531.8,188.5 1532.0,187.6 1532.2,198.5 1532.3,188.3 1532.5,189.5 1532.7,188.0 1532.8,187.8 1533.0,188.7 1533.2,189.7 1533.3,187.8 1533.5,195.6 1533.7,187.7 1533.8,189.0 1534.0,187.8 1534.2,204.8 1534.3,190.7 1534.5,192.0 1534.6,207.4 1534.8,191.6 1535.0,193.4 1535.1,190.7 1535.3,191.8 1535.5,198.6 1535.6,191.7 1535.8,193.4 1536.0,193.8 1536.1,194.8 1536.3,204.1 1536.5,202.1 1536.6,205.5 1536.8,200.6 1537.0,194.5 1537.1,207.3 1537.3,194.8 1537.5,203.6 1537.6,195.0 1537.8,193.9 1538.0,194.7 1538.1,195.1 1538.3,198.1 1538.5,195.9 1538.6,198.9 1538.8,197.8 1539.0,196.9 1539.1,198.2 1539.3,203.9 1539.5,198.9 1539.6,197.4 1539.8,205.4 1539.9,199.7 1540.1,205.9 1540.3,197.1 1540.4,208.9 1540.6,196.5 1540.8,201.0 1540.9,201.7 1541.1,199.9 1541.3,207.7 1541.4,200.5 1541.6,200.4 1541.8,200.5 1541.9,203.5 1542.1,201.0 1542.3,202.3 1542.4,198.3 1542.6,206.4 1542.8,203.6 1542.9,200.7 1543.1,205.2 1543.3,203.1 1543.4,201.9 1543.6,204.0 1543.8,207.8 1543.9,206.3 1544.1,205.1 1544.3,207.6 1544.4,206.0 1544.6,208.3 1544.8,206.7 1544.9,206.7 1545.1,205.9 1545.2,208.8 1545.4,207.0 1545.6,207.5 1545.7,205.1 1545.9,206.3 1546.1,205.3 1546.2,209.2 1546.4,208.5 1546.6,211.5 1546.7,209.7 1546.9,210.3 1547.1,209.3 1547.2,208.9 1547.4,209.9 1547.6,210.8 1547.7,208.6 1547.9,208.5 1548.1,210.5 1548.2,209.3 1548.4,208.9 1548.6,211.6 1548.7,208.8 1548.9,212.8 1549.1,210.4 1549.2,210.6 1549.4,211.7 1549.6,212.8 1549.7,210.7 1549.9,211.5 1550.1,209.3 1550.2,210.7 1550.4,213.7 1550.5,213.3 1550.7,213.2 1550.9,216.5 1551.0,213.1 1551.2,216.7 1551.4,214.0 1551.5,214.8 1551.7,212.8 1551.9,215.9 1552.0,213.4 1552.2,215.0 1552.4,215.6 1552.5,214.7 1552.7,215.0 1552.9,214.5 1553.0,218.5 1553.2,216.8 1553.4,216.1 1553.5,216.9 1553.7,217.2 1553.9,217.5 1554.0,219.7 1554.2,220.8 1554.4,214.6 1554.5,219.7 1554.7,217.8 1554.9,219.1 1555.0,221.8 1555.2,219.1 1555.4,219.0 1555.5,221.3 1555.7,220.8 1555.9,216.6 1556.0,221.4 1556.2,222.4 1556.3,223.3 1556.5,220.4 1556.7,222.6 1556.8,222.2 1557.0,223.4 1557.2,221.2 1557.3,225.6 1557.5,225.3 1557.7,224.5 1557.8,223.7 1558.0,226.6 1558.2,223.5 1558.3,224.8 1558.5,226.3 1558.7,224.4 1558.8,226.6 1559.0,226.0 1559.2,225.9 1559.3,225.8 1559.5,227.9 1559.7,228.6 1559.8,226.0 1560.0,224.6 1560.2,227.3 1560.3,227.6 1560.5,226.9 1560.7,231.2 1560.8,227.2 1561.0,230.6 1561.2,228.9 1561.3,226.8 1561.5,229.0 1561.6,228.6 1561.8,230.7 1562.0,231.9 1562.1,229.8 1562.3,231.0 1562.5,241.5 1562.6,228.1 1562.8,231.6 1563.0,230.5 1563.1,230.8 1563.3,248.1 1563.5,231.6 1563.6,233.0 1563.8,230.6 1564.0,232.5 1564.1,231.9 1564.3,231.2 1564.5,233.6 1564.6,234.8 1564.8,235.4 1565.0,235.1 1565.1,234.1 1565.3,257.0 1565.5,235.1 1565.6,235.0 1565.8,236.0 1566.0,234.3 1566.1,236.2 1566.3,236.6 1566.5,236.2 1566.6,236.7 1566.8,237.2 1566.9,248.6 1567.1,236.9 1567.3,253.1 1567.4,239.7 1567.6,248.7 1567.8,245.8 1567.9,238.9 1568.1,236.8 1568.3,237.9 1568.4,242.0 1568.6,237.5 1568.8,246.7 1568.9,239.5 1569.1,239.6 1569.3,238.2 1569.4,240.7 1569.6,241.5 1569.8,239.2 1569.9,241.0 1570.1,239.7 1570.3,243.4 1570.4,241.6 1570.6,242.7 1570.8,243.6 1570.9,244.1 1571.1,251.1 1571.3,242.7 1571.4,242.4 1571.6,241.4 1571.8,245.8 1571.9,240.3 1572.1,254.6 1572.2,240.8 1572.4,242.9 1572.6,242.2 1572.7,244.6 1572.9,246.3 1573.1,244.0 1573.2,245.1 1573.4,252.6 1573.6,246.0 1573.7,249.2 1573.9,247.0 1574.1,259.9 1574.2,249.8 1574.4,253.8 1574.6,247.8 1574.7,246.4 1574.9,247.3 1575.1,250.9 1575.2,251.0 1575.4,245.6 1575.6,257.6 1575.7,251.9 1575.9,249.4 1576.1,248.6 1576.2,260.7 1576.4,252.7 1576.6,250.9 1576.7,251.2 1576.9,251.3 1577.1,250.1 1577.2,251.0 1577.4,251.1 1577.5,249.4 1577.7,250.4 1577.9,253.5 1578.0,254.0 1578.2,251.4 1578.4,255.1 1578.5,251.8 1578.7,249.4 1578.9,254.4 1579.0,250.7 1579.2,250.8 1579.4,253.8 1579.5,253.6 1579.7,257.0 1579.9,255.3 1580.0,254.3 1580.2,256.1 1580.4,261.6 1580.5,259.8 1580.7,257.2 1580.9,258.2 1581.0,255.6 1581.2,256.7 1581.4,258.3 1581.5,256.9 1581.7,258.8 1581.9,255.0 1582.0,257.6 1582.2,256.9 1582.4,258.5 1582.5,259.7 1582.7,258.5 1582.9,259.2 1583.0,258.8 1583.2,260.1 1583.3,258.2 1583.5,256.5 1583.7,260.0 1583.8,260.4 1584.0,258.2 1584.2,260.4 1584.3,260.2 1584.5,256.7 1584.7,263.1 1584.8,262.9 1585.0,263.9 1585.2,259.5 1585.3,263.3 1585.5,263.7 1585.7,265.0 1585.8,259.5 1586.0,263.7 1586.2,259.4 1586.3,263.1 1586.5,266.4 1586.7,263.1 1586.8,263.5 1587.0,266.5 1587.2,265.4 1587.3,264.5 1587.5,264.1 1587.7,263.9 1587.8,265.8 1588.0,266.1 1588.2,264.2 1588.3,267.0 1588.5,265.1 1588.6,263.1 1588.8,269.6 1589.0,268.4 1589.1,267.4 1589.3,266.7 1589.5,266.3 1589.6,269.2 1589.8,269.4 1590.0,267.5 1590.1,267.8 1590.3,269.6 1590.5,268.2 1590.6,266.3 1590.8,272.7 1591.0,271.4 1591.1,271.5 1591.3,269.7 1591.5,271.9 1591.6,272.4 1591.8,271.0 1592.0,269.9 1592.1,272.9 1592.3,269.3 1592.5,271.0 1592.6,273.4 1592.8,275.4 1593.0,273.1 1593.1,274.6 1593.3,271.8 1593.5,277.1 1593.6,274.1 1593.8,273.9 1593.9,276.3 1594.1,272.6 1594.3,302.7 1594.4,271.9 1594.6,275.0 1594.8,274.6 1594.9,275.7 1595.1,291.5 1595.3,278.5 1595.4,276.2 1595.6,277.4 1595.8,277.4 1595.9,276.1 1596.1,276.2 1596.3,277.1 1596.4,278.7 1596.6,279.2 1596.8,279.4 1596.9,279.0 1597.1,285.9 1597.3,278.5 1597.4,279.6 1597.6,277.9 1597.8,281.0 1597.9,280.0 1598.1,280.8 1598.3,279.8 1598.4,279.7 1598.6,280.6 1598.8,280.1 1598.9,298.4 1599.1,282.2 1599.2,283.8 1599.4,293.8 1599.6,281.6 1599.7,284.4 1599.9,280.7 1600.1,289.8 1600.2,283.6 1600.4,285.5 1600.6,282.5 1600.7,296.0 1600.9,284.1 1601.1,284.5 1601.2,299.0 1601.4,283.6 1601.6,287.9 1601.7,285.8 1601.9,292.2 1602.1,285.0 1602.2,283.9 1602.4,287.3 1602.6,286.3 1602.7,285.6 1602.9,286.4 1603.1,288.9 1603.2,288.2 1603.4,285.9 1603.6,288.6 1603.7,289.9 1603.9,285.5 1604.1,286.2 1604.2,291.3 1604.4,289.6 1604.6,288.5 1604.7,298.1 1604.9,289.1 1605.0,288.4 1605.2,289.2 1605.4,293.1 1605.5,289.4 1605.7,291.6 1605.9,290.2 1606.0,291.6 1606.2,293.2 1606.4,294.3 1606.5,291.0 1606.7,288.1 1606.9,294.1 1607.0,297.8 1607.2,293.5 1607.4,292.7 1607.5,294.0 1607.7,292.5 1607.9,298.4 1608.0,295.2 1608.2,294.2 1608.4,295.2 1608.5,298.4 1608.7,299.2 1608.9,293.9 1609.0,297.7 1609.2,297.4 1609.4,294.9 1609.5,299.8 1609.7,296.4 1609.9,299.0 1610.0,301.3 1610.2,297.7 1610.3,298.2 1610.5,295.7 1610.7,299.3 1610.8,302.0 1611.0,299.5 1611.2,301.0 1611.3,299.9 1611.5,298.8 1611.7,301.2 1611.8,300.0 1612.0,298.9 1612.2,300.2 1612.3,298.1 1612.5,300.8 1612.7,300.1 1612.8,301.5 1613.0,300.0 1613.2,304.2 1613.3,301.9 1613.5,301.3 1613.7,303.5 1613.8,300.6 1614.0,300.6 1614.2,302.9 1614.3,303.9 1614.5,304.0 1614.7,303.1 1614.8,302.8 1615.0,305.3 1615.2,304.0 1615.3,306.5 1615.5,303.2 1615.6,308.8 1615.8,305.8 1616.0,305.4 1616.1,306.0 1616.3,304.9 1616.5,306.8 1616.6,305.7 1616.8,306.0 1617.0,306.7 1617.1,307.5 1617.3,305.4 1617.5,308.4 1617.6,306.6 1617.8,311.7 1618.0,306.3 1618.1,304.7 1618.3,305.8 1618.5,307.3 1618.6,311.3 1618.8,308.3 1619.0,307.6 1619.1,310.8 1619.3,310.2 1619.5,309.0 1619.6,310.2 1619.8,310.9 1620.0,311.9 1620.1,311.7 1620.3,313.1 1620.5,314.9 1620.6,308.0 1620.8,311.5 1620.9,314.6 1621.1,316.6 1621.3,316.9 1621.4,314.6 1621.6,315.1 1621.8,312.1 1621.9,308.7 1622.1,314.5 1622.3,316.8 1622.4,315.7 1622.6,314.3 1622.8,314.3 1622.9,315.4 1623.1,314.1 1623.3,312.9 1623.4,320.1 1623.6,315.8 1623.8,314.2 1623.9,314.6 1624.1,316.3 1624.3,318.3 1624.4,316.2 1624.6,315.7 1624.8,321.5 1624.9,318.8 1625.1,315.8 1625.3,317.8 1625.4,318.2 1625.6,319.1 1625.8,319.9 1625.9,321.3 1626.1,321.4 1626.2,315.6 1626.4,317.9 1626.6,323.1 1626.7,322.6 1626.9,319.2 1627.1,319.6 1627.2,320.3 1627.4,322.1 1627.6,323.2 1627.7,320.8 1627.9,323.2 1628.1,326.1 1628.2,333.1 1628.4,324.5 1628.6,324.1 1628.7,323.6 1628.9,325.5 1629.1,337.9 1629.2,325.0 1629.4,323.9 1629.6,320.9 1629.7,334.1 1629.9,325.1 1630.1,322.7 1630.2,322.7 1630.4,325.4 1630.6,324.8 1630.7,318.8 1630.9,325.9 1631.1,325.7 1631.2,325.6 1631.4,327.4 1631.6,325.6 1631.7,329.0 1631.9,327.4 1632.0,329.7 1632.2,328.7 1632.4,328.3 1632.5,345.9 1632.7,328.5 1632.9,327.5 1633.0,330.5 1633.2,330.7 1633.4,343.7 1633.5,342.2 1633.7,330.0 1633.9,327.8 1634.0,331.4 1634.2,327.1 1634.4,330.4 1634.5,332.6 1634.7,328.8 1634.9,330.7 1635.0,330.7 1635.2,333.5 1635.4,340.2 1635.5,335.2 1635.7,334.1 1635.9,334.2 1636.0,336.8 1636.2,345.3 1636.4,339.5 1636.5,334.8 1636.7,331.8 1636.9,343.4 1637.0,335.1 1637.2,336.6 1637.3,336.2 1637.5,337.7 1637.7,335.9 1637.8,341.3 1638.0,339.1 1638.2,336.0 1638.3,340.5 1638.5,334.3 1638.7,336.4 1638.8,339.3 1639.0,336.6 1639.2,340.7 1639.3,337.0 1639.5,338.5 1639.7,338.6 1639.8,337.4 1640.0,339.7 1640.2,341.3 1640.3,344.2 1640.5,341.1 1640.7,341.8 1640.8,342.5 1641.0,342.5 1641.2,340.6 1641.3,337.1 1641.5,344.4 1641.7,340.2 1641.8,342.6 1642.0,343.6 1642.2,341.8 1642.3,341.1 1642.5,341.8 1642.6,345.7 1642.8,343.7 1643.0,340.0 1643.1,341.7 1643.3,346.9 1643.5,346.5 1643.6,346.7 1643.8,342.8 1644.0,345.4 1644.1,345.2 1644.3,346.0 1644.5,345.7 1644.6,346.2 1644.8,343.7 1645.0,346.2 1645.1,345.6 1645.3,346.0 1645.5,348.6 1645.6,347.7 1645.8,348.4 1646.0,349.4 1646.1,348.7 1646.3,345.4 1646.5,349.2 1646.6,350.1 1646.8,348.9 1647.0,350.1 1647.1,348.4 1647.3,350.7 1647.5,350.8 1647.6,349.3 1647.8,350.1 1647.9,352.9 1648.1,353.2 1648.3,353.3 1648.4,354.2 1648.6,354.0 1648.8,351.5 1648.9,350.8 1649.1,349.7 1649.3,353.9 1649.4,349.8 1649.6,351.3 1649.8,354.3 1649.9,351.3 1650.1,353.9 1650.3,353.4 1650.4,354.4 1650.6,354.3 1650.8,355.8 1650.9,353.3 1651.1,352.4 1651.3,358.9 1651.4,355.7 1651.6,355.5 1651.8,353.2 1651.9,357.4 1652.1,356.3 1652.3,356.7 1652.4,353.9 1652.6,355.6 1652.8,357.4 1652.9,357.0 1653.1,357.2 1653.2,354.8 1653.4,356.9 1653.6,356.2 1653.7,353.7 1653.9,355.0 1654.1,353.9 1654.2,355.2 1654.4,356.2 1654.6,353.6 1654.7,357.7 1654.9,352.4 1655.1,352.6 1655.2,356.4 1655.4,352.8 1655.6,354.8 1655.7,356.3 1655.9,353.7 1656.1,353.8 1656.2,353.0 1656.4,354.6 1656.6,352.7 1656.7,349.0 1656.9,350.6 1657.1,352.3 1657.2,355.2 1657.4,352.5 1657.6,355.5 1657.7,350.7 1657.9,350.2 1658.1,347.4 1658.2,352.8 1658.4,354.0 1658.6,349.6 1658.7,346.4 1658.9,349.2 1659.0,351.1 1659.2,350.9 1659.4,351.8 1659.5,350.4 1659.7,348.0 1659.9,346.3 1660.0,346.4 1660.2,350.1 1660.4,351.7 1660.5,348.5 1660.7,350.9 1660.9,347.2 1661.0,346.3 1661.2,346.4 1661.4,342.9 1661.5,348.3 1661.7,347.2 1661.9,348.3 1662.0,347.0 1662.2,344.7 1662.4,346.3 1662.5,348.9 1662.7,340.6 1662.9,349.8 1663.0,342.9 1663.2,343.5 1663.4,343.8 1663.5,344.7 1663.7,341.6 1663.9,341.1 1664.0,352.3 1664.2,342.1 1664.3,342.7 1664.5,344.5 1664.7,341.2 1664.8,343.4 1665.0,347.6 1665.2,342.2 1665.3,341.1 1665.5,341.4 1665.7,342.6 1665.8,341.3 1666.0,342.4 1666.2,343.6 1666.3,338.8 1666.5,341.4 1666.7,341.1 1666.8,336.8 1667.0,341.1 1667.2,341.0 1667.3,343.9 1667.5,350.4 1667.7,337.0 1667.8,338.5 1668.0,334.3 1668.2,339.3 1668.3,338.0 1668.5,337.1 1668.7,338.1 1668.8,348.8 1669.0,331.1 1669.2,335.7 1669.3,334.5 1669.5,337.9 1669.6,336.9 1669.8,336.6 1670.0,333.1 1670.1,335.6 1670.3,335.5 1670.5,335.3 1670.6,333.6 1670.8,340.1 1671.0,328.4 1671.1,334.1 1671.3,331.6 1671.5,333.8 1671.6,332.3 1671.8,339.4 1672.0,331.2 1672.1,330.6 1672.3,328.0 1672.5,329.3 1672.6,331.0 1672.8,330.8 1673.0,331.6 1673.1,331.5 1673.3,333.8 1673.5,329.7 1673.6,331.6 1673.8,340.8 1674.0,327.7 1674.1,330.6 1674.3,348.4 1674.5,329.8 1674.6,327.3 1674.8,327.7 1674.9,331.7 1675.1,334.0 1675.3,341.9 1675.4,339.9 1675.6,326.4 1675.8,344.3 1675.9,325.4 1676.1,325.2 1676.3,328.6 1676.4,344.6 1676.6,324.8 1676.8,332.9 1676.9,325.1 1677.1,325.3 1677.3,339.9 1677.4,322.2 1677.6,324.3 1677.8,322.6 1677.9,321.6 1678.1,326.7 1678.3,322.1 1678.4,322.0 1678.6,323.8 1678.8,321.5 1678.9,322.5 1679.1,321.4 1679.3,320.3 1679.4,334.9 1679.6,320.4 1679.8,320.7 1679.9,319.5 1680.1,321.4 1680.3,321.3 1680.4,321.1 1680.6,319.5 1680.7,319.5 1680.9,321.2 1681.1,320.3 1681.2,316.3 1681.4,318.2 1681.6,320.3 1681.7,316.7 1681.9,319.4 1682.1,316.7 1682.2,316.5 1682.4,315.0 1682.6,316.4 1682.7,315.7 1682.9,313.5 1683.1,315.0 1683.2,316.6 1683.4,315.9 1683.6,318.3 1683.7,319.3 1683.9,315.5 1684.1,315.5 1684.2,312.2 1684.4,316.4 1684.6,312.0 1684.7,312.8 1684.9,322.0 1685.1,310.7 1685.2,315.5 1685.4,315.1 1685.6,312.0 1685.7,309.5 1685.9,312.9 1686.0,311.3 1686.2,313.1 1686.4,314.0 1686.5,309.5 1686.7,310.3 1686.9,312.6 1687.0,313.0 1687.2,311.5 1687.4,309.5 1687.5,309.4 1687.7,308.8 1687.9,308.1 1688.0,308.1 1688.2,309.6 1688.4,309.6 1688.5,307.5 1688.7,306.0 1688.9,308.0 1689.0,307.9 1689.2,305.2 1689.4,306.7 1689.5,308.0 1689.7,306.3 1689.9,306.6 1690.0,302.3 1690.2,305.9 1690.4,303.3 1690.5,307.0 1690.7,306.3 1690.9,304.4 1691.0,307.6 1691.2,308.5 1691.3,305.4 1691.5,304.7 1691.7,302.9 1691.8,304.9 1692.0,301.7 1692.2,303.2 1692.3,306.5 1692.5,302.2 1692.7,302.1 1692.8,303.7 1693.0,301.0 1693.2,304.7 1693.3,302.0 1693.5,302.6 1693.7,301.8 1693.8,300.4 1694.0,300.4 1694.2,301.6 1694.3,300.5 1694.5,298.9 1694.7,299.6 1694.8,299.9 1695.0,296.5 1695.2,297.8 1695.3,297.9 1695.5,303.3 1695.7,303.2 1695.8,297.9 1696.0,299.0 1696.2,296.4 1696.3,295.1 1696.5,298.7 1696.6,306.1 1696.8,296.6 1697.0,295.8 1697.1,292.8 1697.3,294.9 1697.5,296.7 1697.6,294.7 1697.8,297.2 1698.0,294.4 1698.1,295.8 1698.3,293.1 1698.5,294.7 1698.6,295.9 1698.8,292.9 1699.0,302.9 1699.1,293.9 1699.3,296.9 1699.5,294.0 1699.6,290.7 1699.8,296.2 1700.0,291.1 1700.1,297.4 1700.3,292.7 1700.5,289.6 1700.6,289.5 1700.8,289.5 1701.0,298.8 1701.1,292.9 1701.3,303.5 1701.5,288.5 1701.6,290.0 1701.8,289.7 1701.9,288.3 1702.1,286.7 1702.3,303.7 1702.4,303.3 1702.6,288.2 1702.8,288.3 1702.9,287.4 1703.1,289.2 1703.3,290.3 1703.4,302.0 1703.6,287.6 1703.8,285.9 1703.9,294.4 1704.1,299.3 1704.3,288.9 1704.4,285.5 1704.6,296.4 1704.8,285.4 1704.9,287.2 1705.1,286.5 1705.3,283.1 1705.4,286.0 1705.6,302.0 1705.8,286.3 1705.9,285.5 1706.1,283.3 1706.3,284.1 1706.4,297.8 1706.6,303.1 1706.8,282.6 1706.9,290.9 1707.1,285.5 1707.3,283.0 1707.4,283.1 1707.6,285.6 1707.7,281.5 1707.9,301.7 1708.1,278.6 1708.2,280.9 1708.4,280.5 1708.6,280.1 1708.7,277.2 1708.9,278.8 1709.1,276.2 1709.2,278.8 1709.4,278.0 1709.6,277.4 1709.7,280.2 1709.9,278.8 1710.1,279.0 1710.2,276.9 1710.4,278.2 1710.6,276.1 1710.7,275.4 1710.9,276.6 1711.1,280.5 1711.2,274.5 1711.4,280.1 1711.6,277.4 1711.7,273.9 1711.9,274.1 1712.1,274.4 1712.2,276.0 1712.4,273.8 1712.6,275.5 1712.7,277.5 1712.9,278.6 1713.0,273.0 1713.2,275.3 1713.4,272.4 1713.5,270.1 1713.7,278.1 1713.9,269.9 1714.0,273.9 1714.2,276.3 1714.4,272.2 1714.5,269.5 1714.7,271.7 1714.9,274.5 1715.0,269.1 1715.2,267.5 1715.4,268.3 1715.5,272.4 1715.7,269.8 1715.9,272.5 1716.0,270.2 1716.2,271.1 1716.4,267.1 1716.5,269.4 1716.7,269.8 1716.9,269.0 1717.0,267.8 1717.2,268.3 1717.4,269.4 1717.5,269.8 1717.7,267.1 1717.9,267.5 1718.0,269.5 1718.2,265.4 1718.3,266.1 1718.5,264.3 1718.7,267.2 1718.8,265.9 1719.0,266.4 1719.2,267.6 1719.3,265.6 1719.5,267.0 1719.7,262.3 1719.8,266.2 1720.0,266.4 1720.2,267.1 1720.3,263.4 1720.5,262.3 1720.7,261.2 1720.8,263.1 1721.0,261.4 1721.2,262.5 1721.3,265.0 1721.5,261.6 1721.7,264.6 1721.8,260.9 1722.0,262.3 1722.2,260.6 1722.3,259.8 1722.5,262.1 1722.7,259.9 1722.8,259.5 1723.0,260.4 1723.2,259.2 1723.3,259.0 1723.5,257.5 1723.6,258.9 1723.8,256.8 1724.0,259.9 1724.1,255.2 1724.3,259.9 1724.5,256.2 1724.6,257.8 1724.8,256.2 1725.0,256.1 1725.1,258.0 1725.3,256.4 1725.5,259.8 1725.6,260.6 1725.8,256.6 1726.0,253.0 1726.1,253.9 1726.3,257.3 1726.5,254.2 1726.6,255.7 1726.8,253.5 1727.0,255.0 1727.1,252.7 1727.3,253.1 1727.5,255.8 1727.6,253.7 1727.8,254.6 1728.0,256.7 1728.1,252.1 1728.3,252.6 1728.5,254.9 1728.6,252.3 1728.8,254.7 1728.9,251.6 1729.1,252.1 1729.3,254.0 1729.4,251.8 1729.6,252.2 1729.8,253.1 1729.9,259.7 1730.1,251.9 1730.3,251.4 1730.4,249.1 1730.6,249.2 1730.8,251.1 1730.9,258.1 1731.1,249.7 1731.3,254.7 1731.4,247.0 1731.6,249.2 1731.8,247.2 1731.9,254.3 1732.1,255.4 1732.3,245.9 1732.4,246.8 1732.6,247.1 1732.8,245.8 1732.9,245.4 1733.1,253.8 1733.3,246.3 1733.4,245.0 1733.6,250.6 1733.8,256.8 1733.9,242.6 1734.1,243.8 1734.3,243.7 1734.4,244.1 1734.6,241.0 1734.7,244.1 1734.9,244.4 1735.1,250.1 1735.2,241.6 1735.4,244.0 1735.6,246.2 1735.7,243.5 1735.9,255.9 1736.1,242.0 1736.2,242.3 1736.4,240.2 1736.6,241.9 1736.7,241.5 1736.9,240.2 1737.1,239.8 1737.2,252.9 1737.4,238.6 1737.6,238.3 1737.7,259.5 1737.9,241.8 1738.1,248.9 1738.2,235.6 1738.4,237.8 1738.6,247.2 1738.7,256.3 1738.9,237.4 1739.1,239.0 1739.2,249.4 1739.4,239.9 1739.6,235.8 1739.7,235.1 1739.9,245.4 1740.0,236.4 1740.2,256.5 1740.4,235.6 1740.5,236.2 1740.7,233.3 1740.9,234.0 1741.0,233.6 1741.2,233.8 1741.4,234.6 1741.5,231.8 1741.7,233.8 1741.9,233.5 1742.0,233.8 1742.2,231.4 1742.4,235.4 1742.5,234.3 1742.7,231.9 1742.9,230.5 1743.0,231.6 1743.2,232.5 1743.4,232.9 1743.5,233.7 1743.7,232.0 1743.9,231.8 1744.0,233.5 1744.2,232.1 1744.4,230.8 1744.5,229.9 1744.7,230.9 1744.9,229.7 1745.0,229.3 1745.2,229.3 1745.3,232.6 1745.5,227.2 1745.7,227.6 1745.8,227.1 1746.0,227.7 1746.2,226.4 1746.3,226.9 1746.5,228.2 1746.7,223.9 1746.8,225.4 1747.0,224.9 1747.2,225.0 1747.3,226.4 1747.5,225.3 1747.7,224.7 1747.8,223.8 1748.0,224.8 1748.2,225.4 1748.3,226.3 1748.5,223.1 1748.7,223.0 1748.8,226.3 1749.0,223.3 1749.2,223.2 1749.3,221.4 1749.5,224.4 1749.7,224.1 1749.8,225.8 1750.0,221.8 1750.2,220.4 1750.3,221.6 1750.5,219.3 1750.6,222.7 1750.8,221.4 1751.0,220.9 1751.1,221.1 1751.3,218.5 1751.5,221.3 1751.6,222.3 1751.8,219.9 1752.0,220.5 1752.1,219.7 1752.3,218.7 1752.5,220.5 1752.6,217.1 1752.8,219.2 1753.0,216.0 1753.1,218.4 1753.3,221.6 1753.5,218.3 1753.6,218.6 1753.8,216.7 1754.0,216.4 1754.1,218.0 1754.3,216.5 1754.5,213.1 1754.6,216.9 1754.8,215.6 1755.0,213.3 1755.1,217.8 1755.3,215.6 1755.5,215.2 1755.6,211.9 1755.8,212.8 1756.0,214.6 1756.1,215.0 1756.3,214.1 1756.4,214.2 1756.6,216.3 1756.8,209.9 1756.9,212.3 1757.1,213.5 1757.3,212.1 1757.4,211.1 1757.6,213.7 1757.8,210.7 1757.9,212.1 1758.1,209.7 1758.3,209.1 1758.4,211.5 1758.6,213.9 1758.8,212.2 1758.9,207.9 1759.1,210.3 1759.3,209.1 1759.4,212.7 1759.6,212.8 1759.8,208.9 1759.9,210.2 1760.1,211.4 1760.3,212.4 1760.4,205.7 1760.6,210.1 1760.8,209.6 1760.9,205.9 1761.1,203.9 1761.3,205.8 1761.4,205.4 1761.6,206.1 1761.7,208.0 1761.9,205.2 1762.1,206.7 1762.2,210.6 1762.4,202.9 1762.6,202.5 1762.7,204.0 1762.9,207.0 1763.1,201.7 1763.2,203.7 1763.4,206.3 1763.6,206.5 1763.7,203.3 1763.9,202.6 1764.1,200.3 1764.2,201.4 1764.4,203.6 1764.6,198.6 1764.7,201.8 1764.9,202.2 1765.1,201.8 1765.2,212.0 1765.4,198.9 1765.6,201.0 1765.7,211.5 1765.9,206.9 1766.1,196.8 1766.2,200.4 1766.4,201.6 1766.6,201.0 1766.7,198.3 1766.9,197.3 1767.0,196.9 1767.2,197.5 1767.4,210.6 1767.5,197.6 1767.7,206.1 1767.9,208.7 1768.0,196.0 1768.2,196.7 1768.4,190.3 1768.5,196.6 1768.7,198.3 1768.9,198.0 1769.0,209.7 1769.2,194.2 1769.4,195.0 1769.5,204.0 1769.7,193.4 1769.9,212.4 1770.0,192.7 1770.2,194.1 1770.4,207.5 1770.5,191.2 1770.7,193.9 1770.9,208.0 1771.0,195.0 1771.2,187.7 1771.4,197.6 1771.5,190.0 1771.7,207.1 1771.9,207.4 1772.0,189.8 1772.2,190.6 1772.3,186.3 1772.5,191.0 1772.7,191.9 1772.8,189.1 1773.0,192.1 1773.2,201.5 1773.3,190.1 1773.5,188.3 1773.7,187.4 1773.8,189.2 1774.0,185.1 1774.2,189.6 1774.3,200.5 1774.5,188.1 1774.7,190.5 1774.8,212.2 1775.0,185.5 1775.2,188.1 1775.3,188.2 1775.5,186.6 1775.7,186.2 1775.8,187.4 1776.0,207.3 1776.2,184.5 1776.3,185.6 1776.5,186.7 1776.7,185.8 1776.8,183.7 1777.0,185.0 1777.2,185.3 1777.3,181.1 1777.5,183.0 1777.6,183.5 1777.8,180.6 1778.0,181.6 1778.1,182.9 1778.3,186.4 1778.5,212.6 1778.6,182.6 1778.8,182.2 1779.0,183.0 1779.1,179.0 1779.3,180.5 1779.5,180.5 1779.6,176.9 1779.8,178.3 1780.0,180.5 1780.1,178.2 1780.3,181.3 1780.5,179.1 1780.6,180.1 1780.8,176.6 1781.0,174.5 1781.1,177.4 1781.3,179.1 1781.5,179.8 1781.6,181.1 1781.8,175.9 1782.0,180.7 1782.1,178.3 1782.3,173.5 1782.5,176.2 1782.6,177.8 1782.8,177.9 1783.0,176.0 1783.1,172.2 1783.3,173.7 1783.4,176.7 1783.6,173.6 1783.8,174.8 1783.9,174.5 1784.1,173.9 1784.3,183.9 1784.4,174.0 1784.6,177.6 1784.8,174.8 1784.9,177.2 1785.1,173.4 1785.3,171.0 1785.4,172.8 1785.6,170.6 1785.8,171.7 1785.9,174.1 1786.1,171.9 1786.3,172.6 1786.4,171.5 1786.6,172.3 1786.8,172.9 1786.9,172.4 1787.1,168.5 1787.3,170.5 1787.4,166.6 1787.6,169.5 1787.8,167.6 1787.9,166.9 1788.1,168.0 1788.3,168.6 1788.4,167.5 1788.6,171.0 1788.7,164.9 1788.9,167.4 1789.1,165.4 1789.2,167.4 1789.4,165.3 1789.6,170.0 1789.7,168.1 1789.9,165.8 1790.1,171.7 1790.2,167.6 1790.4,165.9 1790.6,168.3 1790.7,162.7 1790.9,166.3 1791.1,164.2 1791.2,166.4 1791.4,161.3 1791.6,164.1 1791.7,163.5 1791.9,160.8 1792.1,166.6 1792.2,167.4 1792.4,158.9 1792.6,161.5 1792.7,162.5 1792.9,162.6 1793.1,165.6 1793.2,162.2 1793.4,160.1 1793.6,160.7 1793.7,171.1 1793.9,166.9 1794.0,159.9 1794.2,160.9 1794.4,161.3 1794.5,159.6 1794.7,158.0 1794.9,158.8 1795.0,158.1 1795.2,157.6 1795.4,158.4 1795.5,157.6 1795.7,159.8 1795.9,159.2 1796.0,158.0 1796.2,157.7 1796.4,159.2 1796.5,158.4 1796.7,155.7 1796.9,157.4 1797.0,158.7 1797.2,163.9 1797.4,161.0 1797.5,155.9 1797.7,167.3 1797.9,168.3 1798.0,154.1 1798.2,156.1 1798.4,154.2 1798.5,151.9 1798.7,152.8 1798.9,151.9 1799.0,154.1 1799.2,153.4 1799.3,151.0 1799.5,164.4 1799.7,164.8 1799.8,153.4 1800.0,165.9 1800.2,149.5 1800.3,151.9 1800.5,151.9 1800.7,153.6 1800.8,152.3 1801.0,148.5 1801.2,152.7 1801.3,161.8 1801.5,149.6 1801.7,150.2 1801.8,147.9 1802.0,150.0 1802.2,148.3 1802.3,147.5 1802.5,166.0 1802.7,147.4 1802.8,159.8 1803.0,160.9 1803.2,147.9 1803.3,162.5 1803.5,167.5 1803.7,162.5 1803.8,146.8 1804.0,143.7 1804.2,144.7 1804.3,147.3 1804.5,170.2 1804.7,143.5 1804.8,146.3 1805.0,144.1 1805.1,142.7 1805.3,142.4 1805.5,163.6 1805.6,143.0 1805.8,143.5 1806.0,141.6 1806.1,142.0 1806.3,142.8 1806.5,139.7 1806.6,146.0 1806.8,142.8 1807.0,141.8 1807.1,143.7 1807.3,137.8 1807.5,141.9 1807.6,142.2 1807.8,142.3 1808.0,153.4 1808.1,142.3 1808.3,168.1 1808.5,141.1 1808.6,141.7 1808.8,142.6 1809.0,141.3 1809.1,169.2 1809.3,139.1 1809.5,137.5 1809.6,139.8 1809.8,138.7 1810.0,139.2 1810.1,136.2 1810.3,136.9 1810.4,136.7 1810.6,135.7 1810.8,136.6 1810.9,135.8 1811.1,136.1 1811.3,133.7 1811.4,134.7 1811.6,136.3 1811.8,134.9 1811.9,135.1 1812.1,135.0 1812.3,134.3 1812.4,135.1 1812.6,133.8 1812.8,135.4 1812.9,133.5 1813.1,137.2 1813.3,131.6 1813.4,132.4 1813.6,131.0 1813.8,133.7 1813.9,133.4 1814.1,132.4 1814.3,130.5 1814.4,132.0 1814.6,131.3 1814.8,130.0 1814.9,132.0 1815.1,126.0 1815.3,129.7 1815.4,130.4 1815.6,130.5 1815.7,131.6 1815.9,130.5 1816.1,132.0 1816.2,131.4 1816.4,130.1 1816.6,129.8 1816.7,128.7 1816.9,126.8 1817.1,128.9 1817.2,125.7 1817.4,127.2 1817.6,123.4 1817.7,130.4 1817.9,127.6 1818.1,126.3 1818.2,126.2 1818.4,128.2 1818.6,126.6 1818.7,124.7 1818.9,126.9 1819.1,125.8 1819.2,125.5 1819.4,127.2 1819.6,121.6 1819.7,125.1 1819.9,125.0 1820.1,132.4 1820.2,126.1 1820.4,123.6 1820.6,127.5 1820.7,127.2 1820.9,124.5 1821.0,125.7 1821.2,126.8 1821.4,128.0 1821.5,127.9 1821.7,126.5 1821.9,125.9 1822.0,124.6 1822.2,126.6 1822.4,126.1 1822.5,128.6 1822.7,124.5 1822.9,128.3 1823.0,127.1 1823.2,129.0 1823.4,129.1 1823.5,129.0 1823.7,127.4 1823.9,127.2 1824.0,126.4 1824.2,130.6 1824.4,128.5 1824.5,130.1 1824.7,130.7 1824.9,131.8 1825.0,131.8 1825.2,131.2 1825.4,127.9 1825.5,132.5 1825.7,133.5 1825.9,128.9 1826.0,146.2 1826.2,139.2 1826.3,132.1 1826.5,129.7 1826.7,132.4 1826.8,136.6 1827.0,135.9 1827.2,132.9 1827.3,146.0 1827.5,133.1 1827.7,133.7 1827.8,145.2 1828.0,134.6 1828.2,134.8 1828.3,144.8 1828.5,133.4 1828.7,135.8 1828.8,135.9 1829.0,134.6 1829.2,137.0 1829.3,137.1 1829.5,137.9 1829.7,149.1 1829.8,140.8 1830.0,136.7 1830.2,142.1 1830.3,136.3 1830.5,139.0 1830.7,150.5 1830.8,139.7 1831.0,140.6 1831.2,142.1 1831.3,139.6 1831.5,142.5 1831.7,137.1 1831.8,135.1 1832.0,140.5 1832.1,139.7 1832.3,142.3 1832.5,141.3 1832.6,140.8 1832.8,140.0 1833.0,145.4 1833.1,141.2 1833.3,144.3 1833.5,143.8 1833.6,148.2 1833.8,142.5 1834.0,147.1 1834.1,143.3 1834.3,145.0 1834.5,145.1 1834.6,146.3 1834.8,147.2 1835.0,145.0 1835.1,147.5 1835.3,147.3 1835.5,152.0 1835.6,145.5 1835.8,145.0 1836.0,144.8 1836.1,146.9 1836.3,144.7 1836.5,144.3 1836.6,145.3 1836.8,147.5 1837.0,146.4 1837.1,145.1 1837.3,146.7 1837.4,149.0 1837.6,149.8 1837.8,148.1 1837.9,148.6 1838.1,147.9 1838.3,150.7 1838.4,150.1 1838.6,150.1 1838.8,152.1 1838.9,151.3 1839.1,149.7 1839.3,150.9 1839.4,151.9 1839.6,154.5 1839.8,149.1 1839.9,151.3 1840.1,151.3 1840.3,149.0 1840.4,152.5 1840.6,152.7 1840.8,153.5 1840.9,152.7 1841.1,156.4 1841.3,152.4 1841.4,153.6 1841.6,153.6 1841.8,154.4 1841.9,154.9 1842.1,154.8 1842.3,152.9 1842.4,159.1 1842.6,153.3 1842.7,153.9 1842.9,156.4 1843.1,157.1 1843.2,154.3 1843.4,158.6 1843.6,158.5 1843.7,154.4 1843.9,154.8 1844.1,155.7 1844.2,154.7 1844.4,159.8 1844.6,157.6 1844.7,157.4 1844.9,157.7 1845.1,157.1 1845.2,160.5 1845.4,159.6 1845.6,160.9 1845.7,164.2 1845.9,159.6 1846.1,158.5 1846.2,159.5 1846.4,160.3 1846.6,161.0 1846.7,161.5 1846.9,162.3 1847.1,160.2 1847.2,159.5 1847.4,159.6 1847.6,162.2 1847.7,163.3 1847.9,162.6 1848.0,160.6 1848.2,164.4 1848.4,165.0 1848.5,162.4 1848.7,161.1 1848.9,166.0 1849.0,166.7 1849.2,162.0 1849.4,162.8 1849.5,163.1 1849.7,164.4 1849.9,164.8 1850.0,163.6 1850.2,168.3 1850.4,165.6 1850.5,164.6 1850.7,166.2 1850.9,166.7 1851.0,169.2 1851.2,165.7 1851.4,166.8 1851.5,165.3 1851.7,169.2 1851.9,165.1 1852.0,167.3 1852.2,169.6 1852.4,166.8 1852.5,169.9 1852.7,169.2 1852.9,169.5 1853.0,168.6 1853.2,167.6 1853.3,173.3 1853.5,191.6 1853.7,172.4 1853.8,173.5 1854.0,170.9 1854.2,170.8 1854.3,171.6 1854.5,173.1 1854.7,173.3 1854.8,190.8 1855.0,196.4 1855.2,169.7 1855.3,174.6 1855.5,200.5 1855.7,173.7 1855.8,182.8 1856.0,174.7 1856.2,174.4 1856.3,198.0 1856.5,177.6 1856.7,173.2 1856.8,173.4 1857.0,176.9 1857.2,178.2 1857.3,174.8 1857.5,177.4 1857.7,180.3 1857.8,179.1 1858.0,177.3 1858.2,177.2 1858.3,175.6 1858.5,198.2 1858.7,177.6 1858.8,178.0 1859.0,178.9 1859.1,176.9 1859.3,175.8 1859.5,189.6 1859.6,194.0 1859.8,180.4 1860.0,176.9 1860.1,179.4 1860.3,179.7 1860.5,178.0 1860.6,190.3 1860.8,180.6 1861.0,182.1 1861.1,182.6 1861.3,180.9 1861.5,182.8 1861.6,181.7 1861.8,180.5 1862.0,182.7 1862.1,178.5 1862.3,182.3 1862.5,202.1 1862.6,184.0 1862.8,182.0 1863.0,183.2 1863.1,196.4 1863.3,194.1 1863.5,185.6 1863.6,186.6 1863.8,184.4 1864.0,193.1 1864.1,187.2 1864.3,187.6 1864.4,186.3 1864.6,183.8 1864.8,194.9 1864.9,187.6 1865.1,186.2 1865.3,188.0 1865.4,187.2 1865.6,189.7 1865.8,188.7 1865.9,187.4 1866.1,189.2 1866.3,188.1 1866.4,186.7 1866.6,199.6 1866.8,188.9 1866.9,189.7 1867.1,198.7 1867.3,196.1 1867.4,203.3 1867.6,188.8 1867.8,192.9 1867.9,189.8 1868.1,191.9 1868.3,196.9 1868.4,197.2 1868.6,189.7 1868.8,193.9 1868.9,190.5 1869.1,189.3 1869.3,194.4 1869.4,194.0 1869.6,196.3 1869.7,199.2 1869.9,194.9 1870.1,191.8 1870.2,195.6 1870.4,193.4 1870.6,193.0 1870.7,193.2 1870.9,194.3 1871.1,196.2 1871.2,194.5 1871.4,197.3 1871.6,200.1 1871.7,196.1 1871.9,199.6 1872.1,197.4 1872.2,197.3 1872.4,193.8 1872.6,196.3 1872.7,199.6 1872.9,195.5 1873.1,196.7 1873.2,197.7 1873.4,200.1 1873.6,197.4 1873.7,200.0 1873.9,199.4 1874.1,199.8 1874.2,199.7 1874.4,198.7 1874.6,201.7 1874.7,199.7 1874.9,199.9 1875.0,201.8 1875.2,202.5 1875.4,199.9 1875.5,202.7 1875.7,201.5 1875.9,202.8 1876.0,199.0 1876.2,202.7 1876.4,199.6 1876.5,201.6 1876.7,202.2 1876.9,201.3 1877.0,203.8 1877.2,205.4 1877.4,205.6 1877.5,207.7 1877.7,203.6 1877.9,203.9 1878.0,201.9 1878.2,206.5 1878.4,204.8 1878.5,203.2 1878.7,204.6 1878.9,209.6 1879.0,206.2 1879.2,208.1 1879.4,207.4 1879.5,206.8 1879.7,208.0 1879.9,206.6 1880.0,207.4 1880.2,204.9 1880.4,206.9 1880.5,208.4 1880.7,208.3 1880.8,207.6 1881.0,209.6 1881.2,208.5 1881.3,210.0 1881.5,214.3 1881.7,210.9 1881.8,207.6 1882.0,210.8 1882.2,208.9 1882.3,211.3 1882.5,207.9 1882.7,212.6 1882.8,210.3 1883.0,213.0 1883.2,215.1 1883.3,213.8 1883.5,212.3 1883.7,211.2 1883.8,213.3 1884.0,213.5 1884.2,211.2 1884.3,212.5 1884.5,214.7 1884.7,216.4 1884.8,217.7 1885.0,214.0 1885.2,213.5 1885.3,217.2 1885.5,215.8 1885.7,230.5 1885.8,215.0 1886.0,217.9 1886.1,215.6 1886.3,217.7 1886.5,215.9 1886.6,217.9 1886.8,214.1 1887.0,221.6 1887.1,218.4 1887.3,216.1 1887.5,220.1 1887.6,246.7 1887.8,220.4 1888.0,219.6 1888.1,219.1 1888.3,218.6 1888.5,237.4 1888.6,221.3 1888.8,220.6 1889.0,219.6 1889.1,218.5 1889.3,224.3 1889.5,223.1 1889.6,222.2 1889.8,226.5 1890.0,222.8 1890.1,220.0 1890.3,238.3 1890.5,237.1 1890.6,224.7 1890.8,224.1 1891.0,221.8 1891.1,224.7 1891.3,224.7 1891.4,222.8 1891.6,233.5 1891.8,223.4 1891.9,243.0 1892.1,223.2 1892.3,225.3 1892.4,248.0 1892.6,226.5 1892.8,225.5 1892.9,229.6 1893.1,237.3 1893.3,227.7 1893.4,228.5 1893.6,244.4 1893.8,225.8 1893.9,228.6 1894.1,224.4 1894.3,238.5 1894.4,246.0 1894.6,247.3 1894.8,238.2 1894.9,231.0 1895.1,231.3 1895.3,234.8 1895.4,241.4 1895.6,229.3 1895.8,227.7 1895.9,229.6 1896.1,239.6 1896.3,231.2 1896.4,229.2 1896.6,233.7 1896.7,233.3 1896.9,231.2 1897.1,231.9 1897.2,240.9 1897.4,239.7 1897.6,230.9 1897.7,231.4 1897.9,231.7 1898.1,234.8 1898.2,231.7 1898.4,240.3 1898.6,240.1 1898.7,235.7 1898.9,234.2 1899.1,235.2 1899.2,236.2 1899.4,237.4 1899.6,236.4 1899.7,236.4 1899.9,238.2 1900.1,240.9 1900.2,237.5 1900.4,237.2 1900.6,236.7 1900.7,237.2 1900.9,234.3 1901.1,236.3 1901.2,236.2 1901.4,241.1 1901.6,239.7 1901.7,236.5 1901.9,240.1 1902.0,237.3 1902.2,235.0 1902.4,240.5 1902.5,238.2 1902.7,238.8 1902.9,236.6 1903.0,242.2 1903.2,242.1 1903.4,239.4 1903.5,242.9 1903.7,243.8 1903.9,243.2 1904.0,244.7 1904.2,243.4 1904.4,240.3 1904.5,241.8 1904.7,242.3 1904.9,245.2 1905.0,242.8 1905.2,243.6 1905.4,241.4 1905.5,244.4 1905.7,240.2 1905.9,244.1 1906.0,243.5 1906.2,247.8 1906.4,247.0 1906.5,247.3 1906.7,247.1 1906.9,244.0 1907.0,245.3 1907.2,244.0 1907.4,247.1 1907.5,248.7 1907.7,246.0 1907.8,249.1 1908.0,246.8 1908.2,245.9 1908.3,249.4 1908.5,251.3 1908.7,248.7 1908.8,249.0 1909.0,247.2 1909.2,247.8 1909.3,248.2 1909.5,248.3 1909.7,251.3 1909.8,250.3 1910.0,249.8 1910.2,247.8 1910.3,252.6 1910.5,252.6 1910.7,251.8 1910.8,252.8 1911.0,252.6 1911.2,251.0 1911.3,254.3 1911.5,250.9 1911.7,249.8 1911.8,253.7 1912.0,253.4 1912.2,252.9 1912.3,254.8 1912.5,255.7 1912.7,250.7 1912.8,251.8 1913.0,251.4 1913.1,247.0 1913.3,253.7 1913.5,253.5 1913.6,255.1 1913.8,253.0 1914.0,257.5 1914.1,251.8 1914.3,253.8 1914.5,255.6 1914.6,256.0 1914.8,257.3 1915.0,256.6 1915.1,255.2 1915.3,255.6 1915.5,259.2 1915.6,257.2 1915.8,255.4 1916.0,257.9 1916.1,258.5 1916.3,258.5 1916.5,258.9 1916.6,260.2 1916.8,258.6 1917.0,258.8 1917.1,260.7 1917.3,259.9 1917.5,259.9 1917.6,261.9 1917.8,260.0 1918.0,264.5 1918.1,261.5 1918.3,263.0 1918.4,260.3 1918.6,262.7 1918.8,262.4 1918.9,260.4 1919.1,265.3 1919.3,261.9 1919.4,262.6 1919.6,261.2 1919.8,262.7 1919.9,263.3 1920.1,265.3 1920.3,263.0 1920.4,274.8 1920.6,267.2 1920.8,263.5 1920.9,287.0 1921.1,266.6 1921.3,266.3 1921.4,268.1 1921.6,264.6 1921.8,264.0 1921.9,263.6 1922.1,266.7 1922.3,269.2 1922.4,268.6 1922.6,293.8 1922.8,269.6 1922.9,268.5 1923.1,269.1 1923.3,291.5 1923.4,281.4 1923.6,270.7 1923.7,269.6 1923.9,269.0 1924.1,268.7 1924.2,270.0 1924.4,268.3 1924.6,270.5 1924.7,267.7 1924.9,273.1 1925.1,268.5 1925.2,271.9 1925.4,270.4 1925.6,277.0 1925.7,278.8 1925.9,273.5 1926.1,272.4 1926.2,273.2 1926.4,274.4 1926.6,272.7 1926.7,270.3 1926.9,273.3 1927.1,273.8 1927.2,280.2 1927.4,276.2 1927.6,274.8 1927.7,273.4 1927.9,285.4 1928.1,277.5 1928.2,273.2 1928.4,278.9 1928.6,277.8 1928.7,281.2 1928.9,275.4 1929.0,275.7 1929.2,289.1 1929.4,275.4 1929.5,275.4 1929.7,278.6 1929.9,278.9 1930.0,278.9 1930.2,278.1 1930.4,277.9 1930.5,280.7 1930.7,283.8 1930.9,294.0 1931.0,280.7 1931.2,278.7 1931.4,278.9 1931.5,281.0 1931.7,280.6 1931.9,289.5 1932.0,286.4 1932.2,279.5 1932.4,285.8 1932.5,289.8 1932.7,282.7 1932.9,284.6 1933.0,279.8 1933.2,284.2 1933.4,287.8 1933.5,279.6 1933.7,284.8 1933.9,285.5 1934.0,284.7 1934.2,283.4 1934.4,283.1 1934.5,292.7 1934.7,287.4 1934.8,291.7 1935.0,291.7 1935.2,293.2 1935.3,290.4 1935.5,288.7 1935.7,286.9 1935.8,287.5 1936.0,287.1 1936.2,285.7 1936.3,285.1 1936.5,286.0 1936.7,287.2 1936.8,288.5 1937.0,284.3 1937.2,289.3 1937.3,288.6 1937.5,285.2 1937.7,291.4 1937.8,289.9 1938.0,289.1 1938.2,289.0 1938.3,293.0 1938.5,290.9 1938.7,285.5 1938.8,290.3 1939.0,287.5 1939.2,291.9 1939.3,290.9 1939.5,292.7 1939.7,291.0 1939.8,291.7 1940.0,291.8 1940.1,290.8 1940.3,295.2 1940.5,295.7 1940.6,290.3 1940.8,291.4 1941.0,294.5 1941.1,291.8 1941.3,290.8 1941.5,292.7 1941.6,293.6 1941.8,294.3 1942.0,295.9 1942.1,297.4 1942.3,295.2 1942.5,297.2 1942.6,297.6 1942.8,296.2 1943.0,292.6 1943.1,296.9 1943.3,298.1 1943.5,297.3 1943.6,297.0 1943.8,298.2 1944.0,299.7 1944.1,296.1 1944.3,297.4 1944.5,299.2 1944.6,297.1 1944.8,300.4 1945.0,300.8 1945.1,300.1 1945.3,299.2 1945.4,298.3 1945.6,300.4 1945.8,299.2 1945.9,299.4 1946.1,298.8 1946.3,302.1 1946.4,299.6 1946.6,305.1 1946.8,302.3 1946.9,301.8 1947.1,301.9 1947.3,301.3 1947.4,305.8 1947.6,302.7 1947.8,301.6 1947.9,303.4 1948.1,301.8 1948.3,302.2 1948.4,305.2 1948.6,306.1 1948.8,304.6 1948.9,306.1 1949.1,304.6 1949.3,301.5 1949.4,303.2 1949.6,305.6 1949.8,306.3 1949.9,306.8 1950.1,307.7 1950.3,306.3 1950.4,306.4 1950.6,301.8 1950.7,307.0 1950.9,310.0 1951.1,304.9 1951.2,309.2 1951.4,306.1 1951.6,307.3 1951.7,308.3 1951.9,309.9 1952.1,310.6 1952.2,309.1 1952.4,311.7 1952.6,309.4 1952.7,311.4 1952.9,319.1 1953.1,325.6 1953.2,309.6 1953.4,309.9 1953.6,318.6 1953.7,323.0 1953.9,311.9 1954.1,311.5 1954.2,310.5 1954.4,311.8 1954.6,310.9 1954.7,316.5 1954.9,313.6 1955.1,312.7 1955.2,311.2 1955.4,314.2 1955.6,314.6 1955.7,313.5 1955.9,312.3 1956.1,314.9 1956.2,315.0 1956.4,314.6 1956.5,316.9 1956.7,316.7 1956.9,329.8 1957.0,316.6 1957.2,328.5 1957.4,313.7 1957.5,316.2 1957.7,316.0 1957.9,317.2 1958.0,328.3 1958.2,319.0 1958.4,320.0 1958.5,316.6 1958.7,326.9 1958.9,317.5 1959.0,323.2 1959.2,318.3 1959.4,317.8 1959.5,318.2 1959.7,318.7 1959.9,320.9 1960.0,330.7 1960.2,319.8 1960.4,322.0 1960.5,325.4 1960.7,324.8 1960.9,321.9 1961.0,322.4 1961.2,324.3 1961.4,321.7 1961.5,323.5 1961.7,323.5 1961.8,324.3 1962.0,326.3 1962.2,323.9 1962.3,322.7 1962.5,326.8 1962.7,324.7 1962.8,326.7 1963.0,329.2 1963.2,325.5 1963.3,325.2 1963.5,328.5 1963.7,327.8 1963.8,327.7 1964.0,325.4 1964.2,326.9 1964.3,330.3 1964.5,326.9 1964.7,327.6 1964.8,326.1 1965.0,327.8 1965.2,328.0 1965.3,325.5 1965.5,330.7 1965.7,328.7 1965.8,328.4 1966.0,325.2 1966.2,329.8 1966.3,330.1 1966.5,332.0 1966.7,331.1 1966.8,330.7 1967.0,331.6 1967.1,321.9 1967.3,331.5 1967.5,330.7 1967.6,333.2 1967.8,329.0 1968.0,331.2 1968.1,331.2 1968.3,331.3 1968.5,330.5 1968.6,332.6 1968.8,333.4 1969.0,332.2 1969.1,331.5 1969.3,333.9 1969.5,331.9 1969.6,331.9 1969.8,336.4 1970.0,333.5 1970.1,335.6 1970.3,333.1 1970.5,335.3 1970.6,335.7 1970.8,335.6 1971.0,335.4 1971.1,334.6 1971.3,336.1 1971.5,336.4 1971.6,337.1 1971.8,336.1 1972.0,338.6 1972.1,338.2 1972.3,336.2 1972.4,338.0 1972.6,336.8 1972.8,339.0 1972.9,337.4 1973.1,342.0 1973.3,338.9 1973.4,339.1 1973.6,339.4 1973.8,339.5 1973.9,339.4 1974.1,337.5 1974.3,340.4 1974.4,338.0 1974.6,341.4 1974.8,339.5 1974.9,342.6 1975.1,342.2 1975.3,342.2 1975.4,343.7 1975.6,340.7 1975.8,340.2 1975.9,340.7 1976.1,345.3 1976.3,342.8 1976.4,342.6 1976.6,346.5 1976.8,348.3 1976.9,341.4 1977.1,341.1 1977.3,344.7 1977.4,343.8 1977.6,345.1 1977.7,347.0 1977.9,345.6 1978.1,346.5 1978.2,347.3 1978.4,345.3 1978.6,346.6 1978.7,346.1 1978.9,345.8 1979.1,346.7 1979.2,345.5 1979.4,346.2 1979.6,347.5 1979.7,347.7 1979.9,347.8 1980.1,347.0 1980.2,349.0 1980.4,348.7 1980.6,349.7 1980.7,350.1 1980.9,351.0 1981.1,352.4" stroke="#0a74bf" stroke-width="1.5"/>
</g>
<path d="M97.4 59.4v8M180.9 59.4v8M264.4 59.4v8M347.8 59.4v8M431.3 59.4v8M514.8 59.4v8M598.3 59.4v8M681.8 59.4v8M765.2 59.4v8M848.7 59.4v8M932.2 59.4v8" stroke="#666" stroke-width="1.2" fill="none"/>
<path d="M97.4 422.2v-8M180.9 422.2v-8M264.4 422.2v-8M347.8 422.2v-8M431.3 422.2v-8M514.8 422.2v-8M598.3 422.2v-8M681.8 422.2v-8M765.2 422.2v-8M848.7 422.2v-8M932.2 422.2v-8" stroke="#777" stroke-width="1.2" fill="none"/>
<path d="M97.4 59.4h8M97.4 111.2h8M97.4 163.1h8M97.4 214.9h8M97.4 266.7h8M97.4 318.5h8M97.4 370.4h8M97.4 422.2h8" stroke="#888" stroke-width="1.2" fill="none"/>
<path d="M932.2 59.4h-8M932.2 119.9h-8M932.2 180.3h-8M932.2 240.8h-8M932.2 301.3h-8M932.2 361.7h-8M932.2 422.2h-8" stroke="#555" stroke-width="1.1" fill="none"/>
<path d="M97.4 59.4H932.2" stroke="#444" stroke-width="1.1"/>
<path d="M97.4 422.2H932.2" stroke="#999" stroke-width="1.3"/>
<path d="M97.4 59.4V422.2" stroke="#8a8a8a" stroke-width="1.3"/>
<path d="M932.2 59.4V422.2" stroke="#555" stroke-width="1.1"/>
<path d="M1153.0 422.2v-7M1236.4 422.2v-7M1319.8 422.2v-7M1403.2 422.2v-7M1486.6 422.2v-7M1570.0 422.2v-7M1653.3 422.2v-7M1736.7 422.2v-7M1820.1 422.2v-7M1903.5 422.2v-7M1986.9 422.2v-7" stroke="#888" stroke-width="1.3" fill="none"/>
<path d="M1153.0 59.4h8M1153.0 119.9h8M1153.0 180.3h8M1153.0 240.8h8M1153.0 301.3h8M1153.0 361.7h8M1153.0 422.2h8" stroke="#555" stroke-width="1.2" fill="none"/>
<path d="M1153.0 422.2H1986.9" stroke="#a0a0a0" stroke-width="1.3"/>
<path d="M1153.0 59.4V422.2" stroke="#b0b0b0" stroke-width="1.3"/>
<g font-family="'Liberation Serif', 'Times New Roman', serif" font-size="24.5" fill="#000">
<text x="97.4" y="453.5" text-anchor="middle">0</text>
<text x="1153.0" y="453.5" text-anchor="middle">0</text>
<text x="180.9" y="453.5" text-anchor="middle">0.01</text>
<text x="1236.4" y="453.5" text-anchor="middle">0.01</text>
<text x="264.4" y="453.5" text-anchor="middle">0.02</text>
<text x="1319.8" y="453.5" text-anchor="middle">0.02</text>
<text x="347.8" y="453.5" text-anchor="middle">0.03</text>
<text x="1403.2" y="453.5" text-anchor="middle">0.03</text>
<text x="431.3" y="453.5" text-anchor="middle">0.04</text>
<text x="1486.6" y="453.5" text-anchor="middle">0.04</text>
<text x="514.8" y="453.5" text-anchor="middle">0.05</text>
<text x="1570.0" y="453.5" text-anchor="middle">0.05</text>
<text x="598.3" y="453.5" text-anchor="middle">0.06</text>
<text x="1653.3" y="453.5" text-anchor="middle">0.06</text>
<text x="681.8" y="453.5" text-anchor="middle">0.07</text>
<text x="1736.7" y="453.5" text-anchor="middle">0.07</text>
<text x="765.2" y="453.5" text-anchor="middle">0.08</text>
<text x="1820.1" y="453.5" text-anchor="middle">0.08</text>
<text x="848.7" y="453.5" text-anchor="middle">0.09</text>
<text x="1903.5" y="453.5" text-anchor="middle">0.09</text>
<text x="932.2" y="453.5" text-anchor="middle">0.1</text>
<text x="1986.9" y="453.5" text-anchor="middle">0.1</text>
<text x="89" y="68.9" text-anchor="end">0.06</text>
<text x="89" y="120.7" text-anchor="end">0.04</text>
<text x="89" y="172.6" text-anchor="end">0.02</text>
<text x="89" y="224.4" text-anchor="end">0</text>
<text x="89" y="276.2" text-anchor="end">-0.02</text>
<text x="89" y="328.0" text-anchor="end">-0.04</text>
<text x="89" y="379.9" text-anchor="end">-0.06</text>
<text x="89" y="431.7" text-anchor="end">-0.08</text>
<text x="941" y="68.9">15</text>
<text x="941" y="129.4">10</text>
<text x="941" y="189.8">5</text>
<text x="941" y="250.3">0</text>
<text x="941" y="310.8">-5</text>
<text x="941" y="371.2">-10</text>
<text x="941" y="431.7">-15</text>
<text x="1144.5" y="68.7" text-anchor="end">0.6</text>
<text x="1144.5" y="129.2" text-anchor="end">0.4</text>
<text x="1144.5" y="189.6" text-anchor="end">0.2</text>
<text x="1144.5" y="250.1" text-anchor="end">0</text>
<text x="1144.5" y="310.6" text-anchor="end">-0.2</text>
<text x="1144.5" y="371.0" text-anchor="end">-0.4</text>
<text x="1144.5" y="431.5" text-anchor="end">-0.6</text>
</g>
<g font-family="'Liberation Serif', 'Times New Roman', serif" font-size="27.2" fill="#000">
<text x="513.6" y="484.8" text-anchor="middle">Time [s]</text>
<text x="1569.6" y="484.8" text-anchor="middle">Time [s]</text>
<text transform="translate(28.6 242.1) rotate(-90)" text-anchor="middle">Displacement [mm]</text>
<text transform="translate(1001.6 242) rotate(-90)" text-anchor="middle">Velocity [mm/s]</text>
<text transform="translate(1096.5 241.8) rotate(-90)" text-anchor="middle">Voltage [V]</text>
</g>
<rect x="157.8" y="6.4" width="713.2" height="27.9" rx="1" fill="#fff" stroke="#888" stroke-width="1.3"/>
<path d="M161.2 20.6H197.8" stroke="#7a7a7a" stroke-width="1.7"/>
<path d="M398.2 20.6H434.6" stroke="#77ac30" stroke-width="1.6"/>
<path d="M646.9 20.3H684.2" stroke="#ee1111" stroke-width="2"/>
<g font-family="'Liberation Serif', 'Times New Roman', serif" font-size="22.2" fill="#000">
<text x="201.2" y="28.6">Measured disp. [mm]</text>
<text x="437.5" y="28.6">Calculated vel. [mm/s]</text>
<text x="688.2" y="28.6">Velocity ref. [mm/s]</text>
</g>
<rect x="1477.8" y="6.4" width="184.2" height="27.9" rx="1" fill="#fff" stroke="#888" stroke-width="1.3"/>
<path d="M1481.4 20.6H1518" stroke="#6597aa" stroke-width="1.7"/>
<text x="1521" y="28.6" font-family="'Liberation Serif', 'Times New Roman', serif" font-size="22.2">LVT signal [V]</text>
<g font-family="'Liberation Sans', Arial, sans-serif" font-size="40" font-weight="bold" fill="#000">
<text x="489.8" y="551.5" text-anchor="middle">(a)</text>
<text x="1544.7" y="551.5" text-anchor="middle">(b)</text>
</g>
</svg></body></html>
